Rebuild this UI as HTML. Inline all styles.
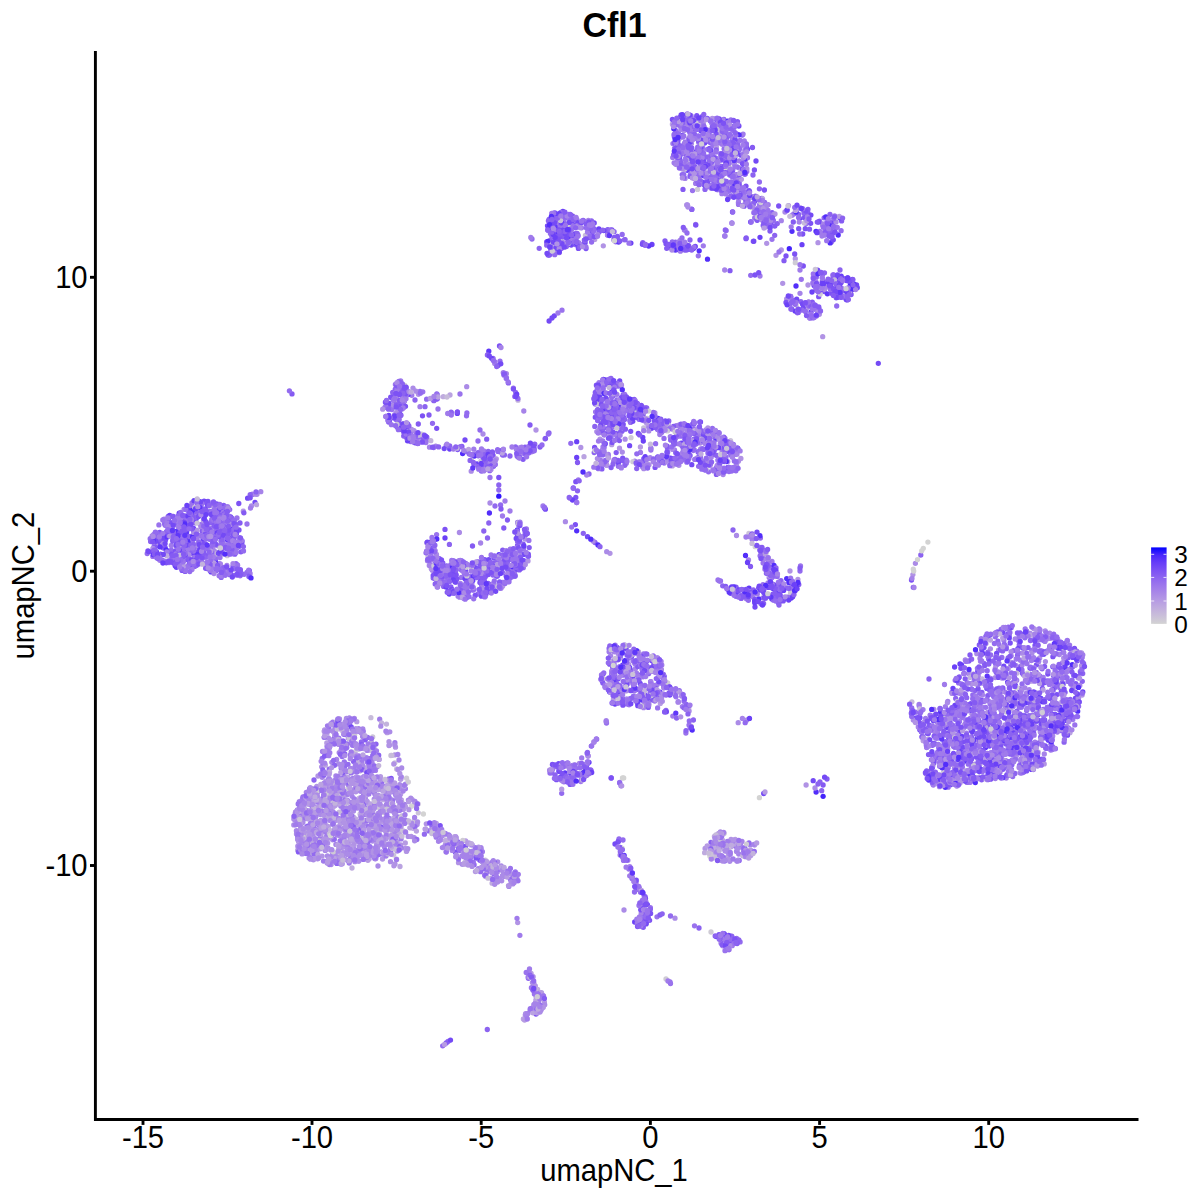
<!DOCTYPE html><html><head><meta charset="utf-8"><style>html,body{margin:0;padding:0;background:#fff;width:1200px;height:1200px;overflow:hidden}svg{display:block}</style></head><body><svg width="1200" height="1200" viewBox="0 0 1200 1200">
<rect width="1200" height="1200" fill="#fff"/>
<g fill="none" stroke-linecap="round" stroke-width="5.30">
<path stroke="#d3d3d3" d="M623.7 777.9h0M923.3 548.3h0M752.2 207.8h0M766.3 552.9h0M471.4 460.1h0"/>
<path stroke="#8c63f0" d="M845.1 297.6h0M1011.6 724.6h0M746.5 146.6h0M307.6 826.1h0M1024.6 737.8h0M721.9 124.2h0M1011.2 627.7h0M617.2 403h0M642.8 242.6h0M988.5 727.3h0M632.5 414.4h0M1008.1 718.4h0M655.5 658.5h0M171.8 557.5h0M228.9 549.2h0M1001 747.7h0M941.1 723.6h0M1020.5 728.3h0M718.3 467.2h0M534.8 444.2h0M573.1 765.3h0M1010.8 722.4h0M968.4 774h0M693.9 424h0M975 690.6h0M403.5 431.5h0M949.9 756h0M739.2 860.5h0M204.6 520.3h0M718.5 437.7h0M721.4 166.3h0M966.7 697.7h0M433.2 577.9h0M682.2 174.6h0M1063.6 726.5h0M194.8 522.9h0M960.7 781.1h0M968.1 704.6h0M568.2 782.1h0M677.7 158.1h0M999.6 759h0M204.3 513.7h0M443.9 581.7h0M594.2 228.9h0M648.2 702.5h0M215 567.4h0M158.2 545.7h0M951.9 692.5h0M1019.2 645h0M1007.4 774.5h0M196.4 565.5h0M642.9 672.5h0M449.4 544.4h0M506.1 555.5h0M685.3 142.1h0M1003.3 729.7h0M795.2 590.8h0M993.3 720.2h0M955.7 698.4h0M570.8 773.8h0M736.1 587.2h0M485 865h0M614.8 674.7h0M972.3 731.9h0M500.3 450.7h0M753 175h0M990.2 678.3h0M489.7 470.7h0M716.4 467.6h0M1082.3 681.3h0M999.2 650.2h0M488.1 591.5h0M963.1 774.7h0M1031.2 747.8h0M235.1 545.4h0M957.8 692.8h0M202.5 527.4h0M729.7 175h0M680.3 160.3h0M587.1 235h0M201.7 512.8h0M691 115.7h0M1043.4 712h0M602.2 680.9h0M748.4 202.9h0M591.3 746.1h0M985.7 731.1h0M971.5 736.8h0"/>
<path stroke="#855bf2" d="M777 590.7h0M549.5 255.1h0M758.6 588.1h0M574 775.4h0M457.6 449.6h0M730 270.7h0M426.8 437.1h0M398.9 420.2h0M415.2 441.6h0M1036.7 713.8h0M770.1 596.1h0M399.5 411.8h0M1058.7 648.7h0M461.9 446.5h0M155.3 532.9h0M625 404.1h0M162.2 536.1h0M609.9 424.4h0M188.8 511.8h0M204.3 517.4h0M608.2 456.5h0M488 457.8h0M613.3 424.5h0M584.3 240.2h0M662 431.7h0M242.1 540.8h0M690.1 455.5h0M564.6 236.8h0M1031 737.1h0M620.3 847.5h0M491.2 454.9h0M931.8 767.4h0M994.1 753.6h0M1010.9 665.5h0M959.1 731.9h0M237.7 575h0M502.7 550.1h0M732.1 942h0M570.4 220.3h0M972.3 683.2h0M679.4 249.9h0M507.5 520h0M669 459.7h0M607.2 415.5h0M506.1 576.1h0M673.2 439.9h0M1053.6 725.9h0M995 762.2h0M187.7 538.4h0M1036.4 753.9h0M753.3 241.3h0M555.8 227.6h0M597.9 409.8h0M841.6 220.9h0M1016.9 711.2h0M745.3 160.1h0M404.2 401.5h0M1009.9 754.1h0M1047.8 725.2h0M984.6 739.5h0M236.1 524.3h0M223.5 534.1h0M742.3 135.1h0M446.6 566h0M601.8 677.7h0M1063.5 700.7h0M530 425h0M221.4 549.5h0M745.4 199.4h0M185.1 532.3h0M570.9 778.5h0M602.2 399.3h0M1018.7 750.4h0M1014.8 680.4h0M976.1 722h0M727.1 137.1h0M644.5 460.1h0M841.2 282.4h0M492.2 590.2h0M920.9 725.8h0M764.2 588.8h0M1059.9 710.1h0M215.3 503.7h0M483.5 569.8h0M642.8 659.4h0M691.7 209.2h0M580.6 223.2h0M998.6 733.3h0M1025.9 745.9h0M964.6 749.4h0M993.1 752.5h0"/>
<path stroke="#c3b3dc" d="M518 400.2h0M946.9 757.9h0M362 837.6h0M465.3 864.1h0M382.3 828.2h0"/>
<path stroke="#bfabdf" d="M326.4 818.5h0M731.8 191.1h0M439.8 829.6h0M446.8 841.3h0M475.5 855.6h0M328.2 834.3h0M489.8 571.9h0M392.8 804.2h0M316.1 823.5h0M354.7 858.1h0M355.1 752.5h0"/>
<path stroke="#b69be3" d="M516.2 876.3h0M475.8 464.8h0M531.1 973.5h0M444 834.9h0M387.1 824h0M640.4 662.8h0M773.9 597.7h0M373.4 827.2h0M961 762.2h0M387.1 732.7h0M722.6 186.5h0M465.1 863.1h0M331.4 835.1h0M719 833.4h0M468.9 854.4h0M724.7 471.4h0M1030.9 699.1h0M475.4 871.6h0M163.8 534h0M326.5 797.8h0M502.6 586.3h0M384.1 843.2h0M514.8 873.3h0M675.4 164.1h0M613.4 699.3h0M344.4 776.2h0M344.5 730.7h0M386.3 833.7h0M383.2 842.3h0M1033.9 695.5h0M343.3 795.6h0"/>
<path stroke="#9a73ed" d="M621 785.8h0M772 239.3h0M721.8 130.4h0M980.8 758.1h0M334.1 732.5h0M1065.3 735.2h0M488.1 863.6h0M668 423.9h0M810.1 304.4h0M793.8 213.9h0M819.6 286.7h0M469.6 579.6h0M970.3 673.8h0M620.3 691h0M971.1 768.2h0M715.7 431.1h0M435.1 398.5h0M763.1 563.1h0M632.2 399.7h0M1069.6 645.1h0M771.8 577.8h0M173.3 522.1h0M353.2 741.1h0M335.5 819.8h0M345 853.1h0M688.6 448.4h0M607.3 417.4h0M694.9 137.8h0M1006.2 646.6h0M487 872h0M345.3 734.6h0M452.9 560.8h0M654.7 669.3h0M204.5 516.9h0M1065.9 713.7h0M468.7 585.2h0M729.3 172.9h0M465 573.5h0M364.3 784.8h0M1007.9 709h0M685 244h0M988.9 714.9h0M221.2 525h0M382.1 810.2h0M200.4 506.4h0M935.1 735.2h0M635 406.7h0M637.9 889.4h0M399.6 832.1h0M595.6 411.8h0M196.4 509h0M628.9 869h0M153.6 534.6h0M391 791.4h0M989.5 771.8h0M746.8 171.4h0M179.8 553.7h0M184.4 543.7h0M487.7 869.3h0M775.8 598h0M986.4 766.2h0M308.4 811h0M754.7 217.9h0M731.3 182.4h0M583.7 775.4h0M305.1 830.9h0M436.6 534.6h0M661.3 432.8h0M826.7 222.7h0M819.8 231.4h0M452.7 842.7h0M181.6 528.2h0M1051.7 651.5h0M1033.4 732.2h0M981.4 668.5h0M1076.8 716.6h0M643.6 654h0M707.5 149.3h0M476.8 849.3h0M517.5 532.6h0M319.9 802.3h0M962.5 717.7h0M1032.1 693.7h0M1033.2 745.7h0M350.4 755h0M1014.5 743.4h0M814.8 308.2h0M1014.8 720.7h0M675.5 130.3h0M350.5 858.9h0M630.5 422.4h0M219.1 575.7h0M231.8 544.1h0M206.9 568.6h0M607.5 235h0M758.3 210.1h0M662.1 455.9h0M685.9 733h0M969.7 780.9h0M326.3 798.1h0M347.9 860.4h0M1052.6 702h0M980 745.2h0M363.2 830.8h0M1001.9 712.4h0M642.9 919.1h0M996.6 718.1h0M1040 699.9h0M212.4 553.2h0M417.8 442.8h0M1029.7 735.9h0"/>
<path stroke="#532efa" d="M216.3 507.8h0M760.3 589.9h0M970.3 774.7h0M946.7 721.3h0M792 231.3h0M1046 735.4h0M1075.8 701.3h0M658 418.5h0M614.1 393h0M659.9 692.1h0M966 761.1h0M728.5 467.5h0M933.5 778.1h0M735.7 591.6h0M678.1 464.1h0M462.6 453.6h0M517.4 529.8h0M622.8 401.3h0M570.5 772.5h0M786.7 578.6h0M995.3 757h0"/>
<path stroke="#6038f9" d="M609.7 692h0M631.4 657h0M622.6 665.2h0M589 762.3h0M953.6 744.6h0M488.8 351.2h0M990 753.5h0M744.9 171h0M624.2 855.4h0M227.1 539.6h0M755 200.8h0M1057 638.9h0"/>
<path stroke="#ab8be7" d="M354.9 861.7h0M358.1 777.8h0M676 162.9h0M334.6 855.4h0M389.8 731.8h0M700.3 443.1h0M400.2 805h0M497.2 872.2h0M714.4 138h0M634.5 683.8h0M958.8 739.9h0M379.6 844.8h0M624.5 644.8h0M669.9 691.8h0M331.1 864.5h0M440.2 567.3h0M313.9 799.4h0M364.9 783.2h0M362.2 832.7h0M455.7 836.6h0M332 815.3h0M998.5 650.1h0M394.8 809.3h0M414 430.6h0M308.4 844h0M601.7 432.8h0M1053.9 654.9h0M990.4 648.8h0M684.1 130.6h0M449.6 844.1h0M475.7 572.8h0M654.9 412.9h0M313.4 859.8h0M306.4 795.2h0M213.9 557.2h0M738.2 722.7h0M227.8 547.4h0M308.5 812h0M718.9 834.4h0M644.7 908.9h0M327.4 855.8h0M1052.9 706.9h0M513.6 573.2h0M329.4 801.7h0M347.3 794.7h0M364.5 807.6h0M1011.8 718.5h0M378.4 795.4h0M322.7 784.2h0M483 434h0M967 782.4h0M471.2 471.2h0M966.1 705.7h0M342.4 793.4h0M719.2 469.2h0M745.6 170.2h0M679.2 425h0M603.8 449.3h0M324.4 790.6h0M392.7 823.1h0M605.1 686.6h0M987.5 656.1h0M433 559.7h0M442 836h0M761.9 205.1h0M602.5 450h0M361 849h0M944.6 749.2h0M339.7 728.8h0M348.9 815.3h0M1016.2 665.6h0M319.8 833.6h0M359.3 854.8h0M372.6 841h0M771.6 567.9h0M566.7 777.4h0M303.3 853.3h0"/>
<path stroke="#a07beb" d="M698 173.9h0M677.4 144.4h0M945.8 767.2h0M602.8 464.3h0M676.2 425.6h0M978.5 672h0M635.4 688.5h0M1024.2 768.1h0M606.7 465.2h0M223.4 567.5h0M384.9 819.6h0M312.8 806.7h0M370.1 769h0M674.5 449.8h0M947.8 701.3h0M568.4 239.5h0M1005.2 692.1h0M427.5 560.7h0M944.4 735h0M453.9 840.7h0M759.6 204.7h0M693.2 450.5h0M384.5 830h0M726.1 445.4h0M640 694.2h0M215.6 522.9h0M159.4 559.3h0M369.2 836.3h0M188 525.1h0M772 561.5h0M337.9 803.7h0M307 848.5h0M919.1 704.3h0M714.4 171.9h0M968.6 771.6h0M813.3 277.4h0M1035.2 762.7h0M609.7 418.4h0M313.9 827.5h0M573.2 217.5h0M679.9 426.7h0M949.5 783h0M514.7 572h0M943 776.6h0M722.2 450.9h0M501 588.3h0M965.8 719.8h0M744.3 140.9h0M426.6 551.1h0M319.3 839.2h0M364.5 786.9h0M502.4 582.5h0M725.3 458.5h0M176.3 532.6h0M252.3 494.2h0M694.6 135.2h0M327 746.3h0M343.9 731h0M201.2 552.2h0M700.7 448.8h0M993.5 740.7h0M928.2 727.9h0M672.8 716.1h0M618.4 418.8h0M979.1 682.9h0M1046.8 651.1h0M752.5 596.8h0M506.2 550.7h0M252.5 494.5h0M702.4 460.9h0M352.8 734.1h0M818.8 308.3h0M834.7 216h0M459 847.8h0M391.5 822.2h0M759.9 547.3h0M608.3 454.4h0M386.9 786.3h0M688.3 169.2h0M554.4 766h0M736.3 174.7h0M951.8 764.4h0M679 456.7h0M990.1 768.7h0M556.1 252.8h0M572.8 239.2h0M937.2 738.2h0M229.9 573.5h0M638.7 462h0M214.8 552.3h0M602.6 415.4h0M1020.4 660.3h0M955 747.4h0M349.2 863h0"/>
<path stroke="#6b41f7" d="M691.9 135.5h0M404.8 428.5h0M643.3 441h0M1082.8 692h0M992.7 744.2h0M687.2 170.3h0M716.8 168.7h0M1036.3 636.1h0M165 522h0M1059.6 707h0M799.5 218.6h0M771 215.8h0M1043.4 640.2h0M915 718.2h0M1062.3 723.1h0M1027.6 699.2h0M179.2 513.2h0M576.7 441.7h0M976.5 734.3h0M984.6 743.5h0M615 704h0M946.7 727.7h0M629.8 698.8h0M477 463.9h0M666.3 686.9h0M792.6 583.3h0M1052.9 666.7h0"/>
<path stroke="#cbc3d8" d="M398.2 835.5h0M1074.6 701.9h0M379.7 808.4h0M446.4 840.2h0M394.8 762.8h0M386.8 853.6h0M414.2 820.3h0M724.1 833.4h0"/>
<path stroke="#baa3e1" d="M968.5 726.1h0M387.3 787.7h0M436.7 834.8h0M489.9 456.9h0M928.3 739h0M378.3 829.4h0M697.4 159.1h0M365.3 770.2h0M523.4 1018.9h0M367.8 859.2h0M951.8 717.2h0M343.5 749.9h0M404.7 823.1h0M1062 728.1h0M1070 732.7h0M318.1 841.6h0M715.7 851.6h0"/>
<path stroke="#b193e5" d="M475.1 573.7h0M808 305.7h0M704.4 172.3h0M796.7 300.6h0M382.3 842h0M350.6 808.5h0M628.7 664.5h0M312.8 842.5h0M352.7 829.5h0M457.2 856.5h0M382.5 859h0M372.1 819.1h0M308.2 798h0M218.5 552.3h0M558.9 767.8h0M808 285h0M776 255.3h0M703.3 122.8h0M980 764h0M322.7 765.2h0M517.2 879.3h0M576.9 219.4h0M608.8 433.7h0M634.4 696.6h0M343 852.7h0M364.9 858.9h0M518.2 569.3h0M293.8 818.9h0M335.1 833.9h0M926.3 773.4h0M325.4 842.7h0M967 739h0M350 846.2h0M734.4 840.9h0M331.6 724.7h0M684.4 166.3h0M983.6 725.6h0M352.6 791.3h0M360.2 828.6h0M450.1 838.2h0M512.8 880.2h0M697.6 458.1h0M412.2 799.6h0M605.9 454.1h0M610.6 692.2h0M714.6 849.6h0M711.7 141.1h0M179.6 540.1h0M401.3 799.9h0M987.5 712.5h0M341.5 742.8h0M340.3 862.1h0M324.9 846.2h0M243.3 511.2h0M363.4 829.8h0M457.3 845.5h0M491.2 878.1h0"/>
<path stroke="#c7bbda" d="M768.4 558h0M376.1 816.1h0M686.1 441.9h0M575.8 233.7h0M301.5 827.9h0M369.3 779.4h0"/>
<path stroke="#936bef" d="M1013.8 699.3h0M457.4 412h0M688.5 456.3h0M1023 703.8h0M1074.7 656.6h0M239.6 543.8h0M1055.3 672.5h0M704 136.1h0M1032 756h0M943.8 725.9h0M742.7 171h0M324.9 821.9h0M1019.5 765.3h0M509.6 578.4h0M991.8 694.2h0M489.1 461.8h0M834.6 229.4h0M428.8 830.9h0M1031.1 703.6h0M654.8 686.8h0M1018.3 717.9h0M760.9 202.3h0M183.4 531h0M695.5 159.5h0M633.2 696.4h0M687.1 166.5h0M206.9 526.8h0M719.8 177.9h0M1007.8 710h0M623.7 417.8h0M444.1 579.5h0M500 361.1h0M997.8 707.6h0M636.2 410.5h0M158 544.3h0M370.6 758.4h0M687.8 425.7h0M359.9 841.6h0M367.6 746.6h0M764.7 202.4h0M602.4 388.5h0M653.3 666.8h0M434.6 567h0M718.6 472h0M963.5 715.1h0M616.3 410.5h0M519.5 538.4h0M705.7 435.9h0M618.4 466.2h0M719 458h0M451.7 571.8h0M650.8 667.8h0M498.8 490h0M1035.2 705h0M517.6 522.4h0M437.4 398.8h0M987.8 652.2h0M990.1 686.1h0M466.6 451.7h0M410.5 441.6h0M971 725h0M722.2 186.8h0M974.1 748.2h0M231.8 552.8h0M659 459.7h0M368.7 765.6h0M692.1 167.5h0M467 582.4h0M1007.4 660.6h0M667.4 448.3h0M641.8 904.7h0M1012.8 682.7h0M164.6 523.7h0M572.1 779.5h0M712.4 175.2h0M234.1 541h0M693.6 431.8h0M480 430h0M804.2 217.4h0M442.5 566.9h0M1025.4 635.2h0M938.7 747.7h0M599.5 452h0M754.9 538.3h0M328.6 727.8h0M1053.7 634.1h0M1041 724.7h0M739.8 147.9h0M575.5 774.1h0M396.1 419.6h0M1017 727.6h0M448 1041.5h0M695.6 444.3h0M1037.4 637.2h0M482.7 468h0M458 841.8h0M996.8 705.7h0M1066.8 699.6h0M734.7 145.1h0M723 444.2h0M329.2 769.2h0M686.7 250h0M221 540.9h0M953.5 756.8h0M611.1 436.8h0M365.3 787.5h0"/>
<path stroke="#744af5" d="M1003 632.7h0M987.9 637.1h0M490.6 565.3h0M1072.6 666.5h0M993.1 753.1h0M523.6 554.4h0M500.8 363.8h0M1049.8 732.1h0M545.4 509.2h0M1004.2 734.1h0M852.5 279.4h0M1030 668h0M1073.3 705.7h0M495.1 572.8h0M190.1 536.3h0M199.5 552.8h0M619.7 381h0M990.5 712.5h0M679.6 157.3h0M920 717.7h0M689.5 430.4h0M762.3 556.8h0M1067.5 735.2h0M941.2 720.8h0M722.3 172.8h0M856.6 284.9h0M211.4 522.1h0M1001 744.2h0M967.3 758.8h0M557.3 248.4h0M490.6 592.3h0M661.1 425.4h0M219.4 564h0M580.9 775.9h0M636.8 403.1h0M979.5 769.5h0M977.7 671.3h0M175.7 557.2h0M682.3 135.3h0M482.2 559.1h0M1061.7 648.5h0M1072.7 657.4h0M950.7 784.7h0M184.4 517.9h0M209.4 533.9h0M575.1 234h0M190.6 517.9h0M1001.9 676.4h0M1063.3 718.6h0M475.2 567.6h0M396.8 390.2h0M1055.3 748.7h0M221.7 531.3h0"/>
<path stroke="#7d52f4" d="M951.8 763.9h0M586 248.6h0M559 771.4h0M521.6 564h0M507.1 580.9h0M732.8 141.8h0M983.5 682.8h0M219.7 506.6h0M190.6 551.1h0M587.9 237.7h0M642.9 914h0M818.7 296.7h0M603 674.1h0M579.2 244.7h0M987.3 725.9h0M851.1 294.5h0M594.6 447.4h0M949.8 732.9h0M163.4 546.9h0M162.2 534.4h0M926.2 743.1h0M483.2 569.6h0M598.8 402.3h0M642.7 656.4h0M681.5 165.8h0M179.3 560.5h0M224.6 511.2h0M1035 645.5h0M1051.6 647h0M212.4 543.6h0M151.6 538.6h0M478.9 467.4h0M173.5 562.9h0M952.1 772.9h0M649.6 920.3h0M525 530.4h0M221.7 550.2h0M570.1 784.4h0M959.6 773h0M575.4 524.6h0M239 530h0M991.8 757.9h0M595.3 401h0M553 230.4h0M618.6 840.9h0M824.2 291.6h0M986.8 688.4h0M956 737.4h0M1042 731.6h0M694 248h0M1030.6 674.5h0M778.6 602.9h0M236.3 546.7h0M838.1 295.6h0M169.9 522.6h0M991.7 738.9h0M622.9 702.4h0M802.7 234h0M1061.5 686.5h0M990.4 711.3h0M229.5 533.1h0M388.8 404.4h0M1042.4 688.4h0M757.2 220.3h0M548.1 255.1h0M1047.8 674h0M778.9 590.1h0M645.1 694.8h0M523.8 560.7h0M965.4 707.5h0M445 529.4h0"/>
<path stroke="#cfcbd5" d="M374.1 820.1h0M340.8 842.9h0M192.5 550.7h0M363.4 834.1h0M553.5 249.3h0M732.8 174.8h0"/>
<path stroke="#a683e9" d="M713.9 435.8h0M1019.4 730.3h0M630.8 671.5h0M620.4 657.5h0M302.4 801.7h0M374.3 839.3h0M576.7 502.5h0M333 811.6h0M965.2 778h0M496.2 866.8h0M734.2 127.5h0M721.2 183.3h0M341.4 863.7h0M661.4 669.5h0M711.2 457.3h0M304.2 818.8h0M432.3 570.3h0M604.6 433.4h0M341 791.8h0M187 518.1h0M1040.3 650.3h0M614.3 678.9h0M733.7 182.3h0M509.8 554.8h0M619 419.2h0M685.3 433.8h0M599.6 429.6h0M629.8 866.6h0M1037.4 761.5h0M629.1 704.8h0M435.7 446.1h0M317 856.8h0M393.1 841.3h0M934.5 761h0M432.8 543.2h0M629.2 657.6h0M1029.2 689.6h0M939.5 786.7h0M954.4 768.7h0M1043.5 737.2h0M351.4 840.7h0M722.7 945.8h0M1020.4 760.7h0M387.5 825.6h0M481.2 465.9h0M979.5 701.3h0M1017.9 746h0M526.6 1018h0M336.8 722.8h0M358.7 728.7h0M731.8 843h0M696 434.1h0M1057.7 639.1h0M370.1 839h0M698.6 142.3h0M308.9 792.2h0M1043.7 728.6h0M627.9 860.3h0M336.5 742.3h0M1059.3 654.5h0M327 837.9h0M357.1 838.2h0M718 167h0M389.3 806h0M260.8 491.7h0M538.8 1001.4h0M540 992.9h0M730.6 444.5h0M1072.8 649.5h0M383.4 828.3h0"/>
<path stroke="#4423fc" d="M823.1 796.3h0"/>
<path stroke="#bfabdf" d="M366 838.2h0M541.7 1005.7h0M389.4 836.7h0M537.6 989.4h0M329.8 793.7h0M455.2 845.2h0M538.2 1008.1h0"/>
<path stroke="#ab8be7" d="M320.2 814.5h0M710.6 462h0M480.5 848.6h0M388.5 829.5h0M573.4 765.8h0M658.6 428.6h0M1022.5 772.7h0M336.4 817.3h0M417.1 824.6h0M716.9 851.8h0M342.4 837.9h0M535.8 994.1h0M768.8 225.2h0M1045.2 630.8h0M1027.7 749.5h0M397.4 851h0M933.9 709.3h0M786.7 299h0M408.2 836.4h0M727.9 851.4h0M378 866h0M499.3 878.6h0M295.3 813h0M1031.6 650.4h0M328.4 737.9h0M352.8 820.4h0M723.3 168h0M618.6 648.4h0M625.9 690.9h0M391.5 847.1h0M724.1 180.7h0M226.4 532.6h0M617.4 238.8h0M466.3 852.3h0M525.6 1013.7h0M1071.2 650.3h0M342.7 751.7h0M349.9 814.1h0M463.1 586.4h0M968.4 673.4h0M922.3 736.9h0M1036.6 727.7h0M359.7 829.5h0M945.9 758.4h0M496.8 568.6h0M366.3 821.2h0M341.4 842.3h0M1014.3 703.6h0M347.7 721h0M339.5 719h0M329 816.8h0M525.3 1014.8h0M961 751.7h0M512.2 882.8h0M395.3 813.6h0M1015.3 712.4h0M337.9 831.1h0M353.4 804.4h0M309.2 817h0M1021.3 740.9h0M357.6 832h0M504.3 876.4h0M678.9 465.3h0M933 744.6h0M643.4 414.7h0M501.2 866h0M1039.7 657.9h0M459.4 532.5h0M657.6 657.8h0M626.7 698.8h0M323.7 825.9h0M691.4 143.6h0M319.9 832.2h0M343.1 856.4h0M529.4 973.5h0M439.3 834.3h0M1024.7 648.8h0M729.8 861.3h0M913.3 720h0M625.4 858.8h0M710.4 165.6h0M982.6 707.5h0M727.8 461.6h0M535.9 990.7h0M382.4 780.3h0M737 192.9h0M369.1 766.3h0"/>
<path stroke="#a683e9" d="M377.7 817.7h0M941.7 782.2h0M643.6 707.7h0M436.7 580.5h0M502.1 571.8h0M317.1 821.5h0M328.7 779.4h0M983.2 743.1h0M566.7 234.8h0M402.8 786.7h0M601.4 419.9h0M358.6 861.1h0M384.3 846.7h0M341.1 749.9h0M335.1 728h0M684.4 230h0M317.3 850h0M638.9 661.8h0M1032 734h0M686.1 159.4h0M395.6 809.4h0M1029.2 737.2h0M349.3 717.9h0M482.9 862.3h0M346.9 771.5h0M212.2 519.6h0M501.2 868.6h0M388.8 844.5h0M1049.7 633.2h0M331.1 800.5h0M1029 761.6h0M950 759.5h0M193 515.5h0M692.2 137.2h0M299.4 804.3h0M636.8 696.6h0M1053.4 723h0M995.5 691.2h0M533.8 1004.7h0M394.7 807.4h0M365.7 849h0M574.4 222.2h0M681.6 695.9h0M440.7 840h0M601.3 463.2h0M355.8 785.9h0M991.2 773.4h0M736.7 842.6h0M976.9 739.5h0M217 545.5h0M226.4 521.3h0M610.6 655.8h0M606.2 720.7h0M402.1 409h0M999 674.3h0M356.2 780.4h0M572.4 227.4h0M677.7 159.7h0M382.7 854h0M948 743.4h0M294.2 815.9h0M176 564.4h0M1001.3 697h0M322.2 777.3h0M1006.2 778h0M379 759.4h0M940.1 747.7h0M193.3 565.6h0M941.5 726h0M947.7 784.6h0M721 942.9h0M385.5 818.3h0M187 553h0M953.6 763h0M366.5 779.6h0M664.7 430.3h0M750.4 844.9h0M996.8 656.1h0M670 688.1h0M748.5 560h0M603.5 420.9h0"/>
<path stroke="#c3b3dc" d="M353.5 856.2h0M330.1 814.9h0M954 784.3h0M392 799.6h0M371.4 742.4h0M683.2 115.5h0M1005.3 764.5h0M311.5 845.5h0"/>
<path stroke="#6038f9" d="M480.7 580.7h0M1002.8 777.7h0M816.9 290.2h0M961.8 729.4h0M499 554.6h0M485.9 459.9h0M1065.4 668.1h0M853.9 284h0M1006.9 628.2h0M612.6 411.4h0M632.7 406.8h0M957.9 759.6h0M999.7 742.2h0M222.8 535.9h0M935.9 730.8h0M791.2 598h0M811 311.9h0M716.3 936.6h0M749 588.1h0M693.1 248.5h0M703.4 175.6h0"/>
<path stroke="#cbc3d8" d="M344.3 767.7h0M702.7 183.6h0M360 814.1h0M651.3 687.8h0M649 705.2h0M485.4 860.1h0"/>
<path stroke="#c7bbda" d="M993.1 706.5h0M471.5 568.1h0M217 526.7h0M720 157.6h0M715.9 855.4h0M585.4 235.5h0"/>
<path stroke="#8c63f0" d="M346.7 778.2h0M160.5 538.1h0M367.6 779.8h0M217.7 512.7h0M735.9 178.1h0M484.5 581.3h0M550.1 240.4h0M595 542.5h0M1032.2 750.2h0M488.1 566h0M850.6 281.2h0M214.1 564.1h0M997.9 641.1h0M730.4 135.7h0M1017.5 655.4h0M615.4 406.2h0M229.8 572.6h0M731 450.2h0M511 570.4h0M711 842.3h0M715.6 124.1h0M971 759.3h0M323.9 775.2h0M718.6 127.7h0M599.5 231h0M495.3 464.4h0M427 439.5h0M1065.7 677.4h0M493.1 455.6h0M463.4 567.5h0M1039.2 632.4h0M455.5 572.1h0M708.5 157h0M1070.3 699.4h0M1035 750.1h0M1078.8 656.9h0M610.5 430.5h0M995.3 690.8h0M631.6 698.3h0M635.6 661.5h0M228.4 531h0M368.9 806.7h0M425 406.7h0M594.2 452.6h0M1026.6 653.2h0M681 163.2h0M183.9 538.1h0M646.7 407.8h0M223.2 507.3h0M723.3 938.9h0M517.1 456h0M798.7 214.3h0M685.2 168.8h0M663.7 686.5h0M611.2 778h0M1015.6 693.8h0M683.1 446.3h0M974.6 710.2h0M232.8 550h0M210.7 522.6h0M620 702.6h0M945.3 741.6h0M726 940.8h0M666 710.4h0M610.5 384.8h0M1048.5 732.7h0M598.1 397.4h0M1082.7 673.5h0M528.4 978.3h0M1060.3 727h0M930.3 777.5h0M991.2 687.8h0M443.6 586.4h0M714 118.8h0M774.7 235.3h0M639.1 409.9h0M696.4 442.5h0M199.1 553h0M568.1 238.7h0M937.6 730.3h0M945.8 719.4h0M601.5 390h0M731.4 155.1h0M1034.2 716.5h0M504.4 454.9h0M228.4 570.7h0M840 270h0M620.3 698.1h0M725.9 449.1h0"/>
<path stroke="#b69be3" d="M392.4 833.6h0M728.7 154.4h0M371.9 812.2h0M611.7 444.7h0M353.3 855.5h0M544.4 1002.1h0M740.6 845.6h0M640.4 447h0M808.2 221.4h0M1016.7 755.2h0M391.3 839.2h0M310.2 850.3h0M343.4 795.1h0M360.8 801.1h0M1064.3 734.3h0M390.7 846.4h0M747.2 157.5h0M485.7 874.4h0M326 781.2h0M357.8 784h0M731.8 147.3h0M349.4 846.8h0M343.9 842.8h0M806.4 308.8h0M381.7 781.7h0M351.3 834.5h0M436.3 823.3h0M465.7 840.8h0"/>
<path stroke="#a07beb" d="M849.7 290.6h0M1050.9 744h0M364.7 739.6h0M447.7 568.4h0M746.4 598.8h0M329.2 772.6h0M640.5 452.4h0M990.1 691.2h0M926.1 774.1h0M392.2 785.9h0M685 230h0M511.3 569.5h0M320.7 835.8h0M690.6 126.2h0M956.9 767.1h0M480.9 849h0M361.5 846.8h0M1021.4 722.3h0M354.7 767.5h0M1038 645.4h0M728.7 197.4h0M734.8 940.5h0M391.8 802.4h0M473.1 854.4h0M835.8 295.4h0M690.7 133h0M682.4 706.6h0M396.4 841.4h0M1018 726.9h0M220.3 523.8h0M391.6 787.9h0M613.7 461.8h0M770.7 217.4h0M330.1 792.2h0M351.2 751.9h0M961.6 755.6h0M499.2 868.9h0M197.5 510.4h0M661.8 665h0M436.1 570.9h0M327.8 807.2h0M611.8 674.4h0M481 569.3h0M687.5 448.4h0M416.3 433.7h0M768.2 204.7h0M752.6 538.8h0M655.9 663.1h0M1010 765.7h0M159.9 560.3h0M341.7 778.3h0M695.9 439.1h0M505.4 560.2h0M980 658.4h0M738.1 860.1h0M969.8 737.3h0M743.1 134.1h0M216.4 530.9h0M657.2 684.6h0M343 811h0M434.1 823.6h0M572.3 242.8h0M745.3 849.6h0M571.5 230h0M467.5 854.6h0M995.3 778.5h0M1067.7 714.4h0M659.8 434.5h0M352.5 745.2h0M339.2 854.3h0M625.7 685.7h0M657.6 658.2h0M319.6 826h0M328.9 786.8h0M542 1008.2h0M477.3 849.3h0M180.5 522.3h0M708.5 452.5h0M697.9 120.3h0M612.9 661h0M517.7 562.2h0M661.1 661.4h0M1019.7 720.9h0M659.1 692.3h0M233.1 526.9h0M966.5 733.1h0M1016.2 659h0M1025.5 717.6h0M375.4 819.1h0M952.5 708.1h0M570 238h0M732.2 941.9h0"/>
<path stroke="#6b41f7" d="M598 400.3h0M961.9 736.5h0M642.4 908.9h0M930.7 774h0M615.5 421h0M586.4 765.9h0M1015 723.6h0M1007.6 682.1h0M401.9 393.8h0M611.9 646.7h0M488.6 455.5h0M631.2 400h0M445.4 584.2h0M620.9 400.1h0M637 464h0M1008.5 751h0M975 726.9h0M630.9 243.1h0M623 414.3h0M681.2 443.2h0M1013.9 698.5h0M766.4 595.6h0M608 232.2h0M430.2 542.1h0M850.3 285.6h0M518.5 535.1h0M409.4 437.1h0"/>
<path stroke="#855bf2" d="M385.4 402.2h0M640.6 663.2h0M675.2 461.9h0M392 397.7h0M645.4 698.3h0M709.5 430.8h0M447.2 592.3h0M349.5 723.2h0M168.2 516.5h0M937.9 752h0M615.5 683.8h0M1027.1 765.5h0M226.6 568.7h0M661.1 698.2h0M481.4 577.5h0M984.9 665.5h0M484 461.2h0M408 438.3h0M684.1 458.4h0M381.3 826.9h0M608.9 379.9h0M157.4 558.3h0M626.7 860.1h0M365.3 739.8h0M981.1 769.6h0M607.7 229.7h0M784 260.7h0M596.1 398.3h0M929.1 725.1h0M639.1 415.3h0M648.3 707.4h0M243.9 512.8h0M418.3 424h0M534.2 449h0M948.8 716.4h0M385.9 416.5h0M973.3 741.8h0M1069.2 712.2h0M193.1 553.5h0M774.4 586.1h0M525.2 533.1h0M697.3 149.7h0M167.5 536.6h0M711.9 163.7h0M963.9 673.3h0M707.7 430.1h0M1049.2 739.3h0M695.3 155.2h0M509.3 572.2h0M522.5 564.2h0M843.3 278.5h0M688.3 247.4h0M321.6 804.7h0M759.5 209.4h0M719.2 462.2h0M532.2 446.3h0M928.3 733.4h0M723.9 119.5h0M683.9 446.9h0M398.6 392.5h0M493.1 865.6h0M446.2 1043h0M628.3 400.2h0M207.9 547.2h0M652.6 700h0M963.6 713.7h0M225.4 531.5h0M798.8 584.6h0M1021.7 764.6h0M979.3 740.2h0M966.5 734.9h0M948 743h0M503.8 528h0M211.3 551.5h0"/>
<path stroke="#9a73ed" d="M1008.8 696.5h0M663.3 462.6h0M921.5 731.3h0M615.4 667.9h0M735.3 448.8h0M613.9 240h0M566.1 778.9h0M591.2 222.6h0M363.5 795.4h0M436.1 829.6h0M723.4 136h0M302.9 819.7h0M687.3 114h0M951.5 780h0M537.6 993.6h0M723.8 459.2h0M733.9 146.7h0M978.6 744.4h0M513.6 572.4h0M1072 717.2h0M237.5 565h0M354 825.3h0M493.1 358.3h0M694.1 133.3h0M795.8 211.1h0M670 982h0M939.4 725.1h0M979.6 715h0M358.7 755.8h0M472.6 455h0M399.7 393.8h0M837.2 286.1h0M683.7 135.9h0M998.3 760.4h0M990.1 703.7h0M1027.9 680.2h0M481.3 450.5h0M406.1 430.4h0M1030.8 674.3h0M431.5 830.5h0M739.1 185.3h0M816.2 309.7h0M510.2 549.1h0M1029.3 743.2h0M313.9 824.5h0M1076.8 651.1h0M515.6 392.4h0M733.9 453.8h0M562 310.2h0M403.9 432.2h0M647.3 916.2h0M181.1 543.7h0M1012.9 734.5h0M328.2 811.1h0M385.5 791.6h0M733.1 130.4h0M1001 763.6h0M331.3 791.4h0M474.7 454.2h0M334.8 804.6h0M394.8 402h0M1028.2 716.6h0M1036 713.8h0M725 950.7h0M1016.9 753h0M725 438.4h0M329.6 834.5h0M554.7 766.8h0M948.9 755.7h0M342.3 818.4h0M192.2 528.1h0M446.1 847h0M1006.2 676h0M337.8 785.1h0M368.4 859.1h0M742.9 189h0M1019.9 694.7h0M316.4 842.3h0M604.8 415.4h0M223.5 531.9h0M506.2 378.5h0M931.4 759.7h0M1035.6 703.8h0M184.8 559.3h0M695.8 117.9h0M620.3 403.6h0M648.4 705.3h0M732.1 149.5h0M1061.6 676.7h0M741.4 595.2h0M396.3 820.2h0M321.4 831.8h0M394.6 415h0M980.2 706h0M768.6 561.6h0M233 575.5h0M1082.2 657.6h0M335.2 732h0M710.6 158.6h0M734.9 161.7h0M657 916.8h0"/>
<path stroke="#936bef" d="M701.6 154.9h0M448.7 835h0M972.5 725.3h0M664.9 711.8h0M1052.8 635.7h0M723.4 129.3h0M755.4 196.1h0M508 574.3h0M1002.8 689h0M748.4 600.3h0M334.3 738.1h0M512.9 878h0M621.7 414.9h0M1032.7 752.5h0M658.9 675.8h0M797.4 312.8h0M515.2 575.4h0M1072.1 680.2h0M1066.8 733.5h0M420 391.3h0M1043.2 709.3h0M708.5 442.6h0M163.3 548.1h0M342.8 811.3h0M232 527.9h0M687.2 460.9h0M341.1 768.1h0M560.9 241.4h0M777.6 585.1h0M672.3 460.4h0M790.5 297h0M514.8 396.4h0M568.2 778.5h0M617.4 383.4h0M678.4 132.8h0M178.6 518.5h0M379.6 835.1h0M702.3 151.4h0M447.4 570.1h0M645.8 653.8h0M697.4 441.1h0M943.9 732.5h0M1015.8 703.5h0M632.2 654.9h0M633.3 684.4h0M647.7 920.8h0M575.2 244.6h0M584 768.8h0M497.6 449.6h0M395.1 793.3h0M505.4 554.7h0M973.5 727.1h0M397 798h0M389 818.3h0M991.8 770.4h0M564.3 222.6h0M1050.5 721.4h0M661.4 459.4h0M336.5 743.3h0M343.8 734.3h0M671.7 689.4h0M1011.4 775.1h0M617.3 437.9h0M484.4 573.1h0M1026.3 737.9h0M1048.1 671.4h0M348.2 725h0M747.1 598.3h0M676.4 247.9h0M688.8 130.5h0M437.8 579.9h0M680.7 436.2h0M619 839h0M342.4 793h0M554.7 254.7h0M1035.9 726.9h0M510.3 879.3h0M494.2 874.1h0M819.6 221.1h0M612.6 404.9h0M975.2 770.8h0M972.6 714.3h0M932.9 772h0M513.4 568.1h0M994.4 643.5h0M995.3 758.5h0M935.5 758.3h0M1030.8 766.6h0M210.2 511.8h0M948.2 787.2h0M236.5 545h0M682.5 459.7h0M1031.6 724.1h0M994.6 775.5h0M550.3 220.4h0M342.1 756.5h0M847.1 300.1h0M1035.9 695.2h0M1026.5 695h0M1062.2 682.4h0M185.1 522.7h0M960.1 775.9h0M956.6 729.4h0M749 843h0M466.9 413h0M1047.6 710.6h0M693.9 429h0M573.1 216.6h0M999.9 716.4h0M1004 768h0M344.6 766.5h0"/>
<path stroke="#532efa" d="M689.3 427.4h0M715.9 439h0M553.2 228.5h0M164.3 534.7h0M836.6 288.9h0M555.4 215.4h0M838.2 235h0M195.7 518.9h0M727.6 121.1h0M788.8 582.6h0M700.9 130.6h0M945.2 787.3h0M770.6 582.8h0M462.7 588.6h0"/>
<path stroke="#744af5" d="M730.5 593.3h0M743.7 157.6h0M552 318h0M155.4 556.7h0M642.4 244.2h0M978.6 727.5h0M166 524.9h0M637.8 705.7h0M575.8 219h0M1062.4 712.5h0M498 365.6h0M233.7 546.2h0M846.2 299.5h0M666.4 711.8h0M740.6 155.1h0M570.8 778.6h0M984 647.5h0M817.7 270.2h0M627 684.5h0M919.8 729.8h0M702.7 435.7h0M175 536.2h0M683.4 124.3h0M571.2 245.1h0M943.4 773.1h0M747.5 149.2h0M836.6 283.2h0M1014 715.7h0M524.2 452.1h0M576.9 222.4h0M1070.7 668.7h0M192 567.5h0M214.2 509.9h0M932.5 767h0M715.9 434.5h0M1068 713.3h0M743.1 590h0M632.8 421.3h0M573.3 487.9h0M984.5 740.6h0M1009.4 742.8h0M351.2 727h0M465 440h0M558.6 233h0M329.2 779.5h0M1000.3 704.6h0M833.3 232.7h0M428.5 555.6h0M182.2 528.4h0M684.7 452.9h0M213.9 552.1h0M694 128.3h0M216.5 506.8h0M481.6 466.6h0M878.3 363.3h0M701.9 181.9h0M492.6 463.7h0"/>
<path stroke="#baa3e1" d="M727 857.3h0M295.9 811.8h0M337.6 819.5h0M633.3 689h0M643.6 692.2h0M536.1 997.1h0M328.4 826.6h0M1013.2 762.1h0M1033.5 732h0M1007.2 701.4h0M1059.3 685.2h0M541.3 994.1h0M367 809.7h0M686.2 126.7h0M374.1 748.4h0M714.1 841.8h0"/>
<path stroke="#cfcbd5" d="M666 979h0M404.8 385.4h0M737.5 860.8h0M338.1 795.8h0M184.9 566.3h0M407.5 821h0M698.7 123h0M390.1 784.1h0M359 803.9h0M667.7 682.9h0M480.9 461.1h0"/>
<path stroke="#d3d3d3" d="M595.1 450.5h0M913.3 569.2h0M622.5 778h0M726.6 169.6h0M622.3 848.4h0"/>
<path stroke="#b193e5" d="M691.5 159.8h0M978.8 698.6h0M381.8 837.2h0M400.8 845h0M395 864h0M535.3 985.8h0M930.3 771.5h0M373 833h0M435.2 831.8h0M231.9 548.3h0M528 560.9h0M316.4 844.2h0M638.7 415.1h0M1009 677.9h0M395.5 747.2h0M188.8 554.9h0M701.8 463.4h0M396.5 821.4h0M1064.9 704.6h0M1008.3 668.6h0M355.9 728.6h0M361.8 797.4h0M1012.2 751.7h0M719 439.5h0M302.2 832.3h0M517.1 553.4h0M348.2 836h0M305.7 839.6h0M603.3 245.8h0M321.6 845.2h0M321.8 789h0M322.1 856.1h0M619.5 448.2h0M982.1 683.2h0M673.9 692.4h0M491.9 568.4h0M334.6 820.9h0M767 220.3h0M403.4 809.5h0M938 754.1h0M971.9 713.5h0M299.8 805.2h0M310 847.3h0M405.1 848.3h0M320.9 827.6h0M327.1 837.7h0M325.5 841.7h0M376.6 854.2h0M996.5 745h0M766.7 243.3h0M360.1 820.9h0M317.3 844.8h0M912.9 574.6h0M183.6 529.2h0"/>
<path stroke="#7d52f4" d="M721.7 180h0M717.4 121.7h0M229.7 520.2h0M1022.3 673.1h0M420.3 434.9h0M703.4 432.5h0M689.7 448.2h0M927.2 733.3h0M724.8 159.9h0M165.1 547.5h0M1042.1 764.1h0M714.3 138.5h0M1052.9 656.7h0M422.5 415.8h0M568.5 779.2h0M647.8 698.1h0M781.4 597.9h0M985.9 636.5h0M617 647.5h0M552.4 764.4h0M455.4 852.2h0M492.5 454.4h0M1012.2 773h0M790.5 296.5h0M484.8 559.6h0M1058.2 667h0M725.3 166.2h0M492.2 584.2h0M920.4 723.2h0M403.5 407.5h0M928.4 731.6h0M629.9 403.5h0M651.5 660.6h0M554.9 212.8h0M958.6 754.1h0M165.5 539.9h0M735.6 454.2h0M795.4 301.6h0M507.5 580.6h0M215.4 527.1h0M1049.8 698.4h0M229.8 538.2h0M453.2 566.4h0M394.1 399.9h0M823.3 280.8h0M927.2 730.4h0M805.3 228.7h0M344.9 743.7h0M159.7 532.4h0M618.8 461.1h0M1000.9 744.1h0M1052.3 695h0M621.1 405.3h0M435.4 573.4h0M238.8 503.5h0M996.1 696.4h0M483.1 562.2h0M613.4 403.2h0M185.1 571.4h0M947.7 733.5h0M175.6 520.8h0M178.7 566.3h0M950.9 775.6h0M632.8 406.2h0M722.4 140.9h0M695.5 172.4h0M574.6 771.8h0M747.8 590.4h0M996.7 664.4h0M479.4 562.4h0M694.3 170.3h0M440.2 825.7h0"/>
<path stroke="#c3b3dc" d="M1036.9 715.2h0M408.5 822.1h0M749.5 850.1h0M535.9 989.2h0M1069 702.1h0M380 837.4h0M389.8 780.8h0"/>
<path stroke="#b69be3" d="M718.9 456h0M390.9 787.9h0M359.6 802.3h0M725.5 844.5h0M369.2 838.9h0M336.6 792.1h0M362.8 807.7h0M311.8 837h0M340.3 823.9h0M1064.1 716h0M464.2 848.2h0M327 826.6h0M1041 667h0M383.9 820.6h0M376.4 855.9h0M347.4 830.3h0M983.1 740.7h0M738.6 199.9h0M366.7 784.5h0M347.5 827.6h0M631.5 655.1h0M304 806.6h0M720.7 856.3h0M693.4 151.9h0M572.7 216h0M353.3 816.8h0M346.6 729.1h0M328.4 796h0M397.2 842.1h0M362.6 815h0M400.6 794.2h0M679.2 138.8h0M378.7 823.4h0M320.9 820.4h0M348.8 814.5h0M1001.5 733.4h0M313.1 805h0M203.4 520.9h0"/>
<path stroke="#855bf2" d="M616.6 433.7h0M1014.4 675.2h0M562 214.2h0M698.7 141h0M176.2 558.6h0M975.6 697.2h0M642 926.5h0M627 655h0M660 915h0M757 219.8h0M389.4 420.7h0M519.9 537.4h0M1078.2 701.2h0M222 532.8h0M749.8 205.5h0M627 401.8h0M228.5 544.2h0M634.2 399.4h0M992.9 715.1h0M499.8 582.9h0M400.2 389.9h0M987.9 733.2h0M849.2 293.5h0M208.2 564.1h0M978.6 745.2h0M983.9 721.5h0M750.5 566.5h0M680.4 454.8h0M932.9 783.7h0M639.1 675.1h0M226.2 536h0M202.2 530.9h0M623.7 417.7h0M620.4 413.6h0M484.6 862.7h0M975.2 777.6h0M553.6 229.3h0M655.7 688.4h0M722 944.6h0M1070.5 713.4h0M690.9 151.6h0M529.2 547.6h0M933.9 763.1h0M186.3 556.3h0M769.4 217h0M573.2 778h0M610.7 381.5h0M667.1 446.2h0M1010.5 695.2h0M827.7 226.3h0M619.1 435.3h0M931.4 769.7h0M768.8 566.5h0M1027.3 760.4h0M556.4 231.3h0M210 570.6h0M197.2 562.7h0M685.3 153.7h0M577.8 773.7h0M669.4 686.6h0M611.1 410h0M721.1 155.6h0M440.1 569.7h0M1077.1 660.8h0M239 546.5h0M710.6 432.1h0M1005.5 704.6h0M248.5 571.3h0M781.9 588.7h0M994.8 718.6h0M173.7 531.2h0M525 447.2h0M561.5 215.4h0M765.4 226.3h0M611.1 414.1h0M598.1 416.7h0M582.8 244.7h0M772.1 212.7h0M688.7 247.7h0M764.8 207.5h0M624 703.9h0M746 238.7h0M994.8 765.8h0M728.3 942.4h0M624.6 662.5h0"/>
<path stroke="#cfcbd5" d="M348.5 808.2h0M539 996.7h0M751.7 203.6h0M468.8 863.7h0M657.3 696.5h0M368.7 790.8h0M347.9 788.5h0M462.8 840.3h0M387 781.6h0"/>
<path stroke="#ab8be7" d="M359.2 801.4h0M739.2 167.9h0M315.2 848h0M295 819.9h0M375.9 858.5h0M302.7 843.1h0M499.2 585.2h0M941.3 757.3h0M338.6 764h0M309.1 858.1h0M312.3 806.9h0M342.1 754.6h0M353.8 831h0M611.7 683.7h0M581.5 778.9h0M533.5 984.8h0M1068.1 720.4h0M494.6 880.9h0M687.5 205h0M313.1 835.2h0M745.2 851.1h0M977.2 766.3h0M335 795.4h0M972.3 713.9h0M516.7 877.2h0M618.5 692.2h0M304.3 814.6h0M389.8 808.7h0M785 212h0M365.7 835.4h0M401.7 768h0M177.8 552.3h0M735.4 846.1h0M325.4 811h0M332.6 839.8h0M321.7 766.8h0M304.9 814.1h0M635.2 664.3h0M1070.2 711.6h0M365.1 793.1h0M349.5 851.8h0M1030.2 633.5h0M698.9 451.8h0M824.5 289.3h0M749.8 852.1h0M1019.5 713.7h0M312.6 817.9h0M729.2 949.6h0M610 681.1h0M974.4 722.4h0M398.6 801.3h0M1026.7 762.2h0M610.6 411.9h0M1013.4 729.8h0M394 790.2h0M301.4 809.1h0M376.3 826.8h0M457.7 843.2h0M327.1 800.6h0M338.8 744.4h0M710.9 188.1h0M726 846.8h0M354.4 771.6h0M350.3 836.8h0M720.4 832h0M235.1 569h0M481.3 573.4h0M364.5 822.9h0M764.8 569.3h0M629 690.2h0M332.3 799.9h0M365.6 799.4h0"/>
<path stroke="#a683e9" d="M1069.3 669.4h0M300.3 817.6h0M711.4 846.8h0M542.7 995.5h0M299.7 808.8h0M987.6 721.9h0M712.4 851.8h0M363.2 827.4h0M363.7 823.9h0M937.6 722.4h0M336.6 759.5h0M225.2 568.8h0M754.9 209.1h0M962.5 767.3h0M188.3 546h0M1000.8 709.8h0M351.6 780.6h0M360.1 778.1h0M996.8 717.7h0M641.2 913.2h0M1077.7 659.3h0M353.5 859.5h0M1041 759.7h0M337.3 786.9h0M346.8 801h0M1064 727.8h0M719.5 839.1h0M967.7 749.1h0M605 686.7h0M346.2 729.9h0M718.8 469.3h0M308.9 804.2h0M710.1 454.3h0M709.9 465.5h0M989.7 777h0M808.7 301.9h0M800 293.3h0M356.6 756.2h0M988.7 701.1h0M372.8 784.2h0M579.4 763.5h0M735.9 188.6h0M371.5 775.6h0M396.2 413.5h0M947 722.8h0M316.3 787.9h0M325.2 850.4h0M343 814.1h0M461.4 845.8h0M370.3 806.5h0M328.4 803.9h0M527.9 1013.4h0M352.4 826.9h0M479.9 569.9h0M405.4 784.1h0M355.4 763.4h0M533.9 991h0M308.3 828.9h0M365.3 798h0M716.1 470.7h0M1026.6 767.3h0M637.5 923.5h0M715.1 172.8h0M1028.5 678.7h0M963.9 727.8h0M309.8 854.5h0M404.6 804.5h0M439.8 571.5h0M723 119.8h0M389.5 803h0M390.2 787.8h0M1005.2 699.5h0M438.3 574.3h0M724.7 270h0M620.1 855h0M633.2 404.5h0M740.9 172.7h0M377.2 766.7h0M709.4 186.1h0M217.4 554.9h0M728.5 143.5h0M725 449.9h0M997.1 757.8h0M650.1 457.6h0M178.8 546.6h0M372.1 762.7h0M320.8 790.1h0M161.3 538.9h0M607.6 234.9h0M663.6 685.3h0M402 804h0"/>
<path stroke="#b193e5" d="M797.9 579.5h0M645.9 421.5h0M360.4 788.7h0M729.2 144.3h0M520 447.7h0M979.3 777.1h0M313.7 851.6h0M806.1 785h0M337.4 820h0M717.9 848h0M1045.5 728.9h0M302.8 813.5h0M361.8 747.7h0M705.1 848.4h0M533.9 983.5h0M313.2 789h0M332.5 854.2h0M204.2 557.3h0M301.6 808.5h0M795.3 258.7h0M517.7 922.6h0M320.4 845.8h0M692.1 154.3h0M974.7 702.5h0M731 839.4h0M1082.1 695h0M302.4 852.7h0M729.5 844.5h0M413.4 828.2h0M395.5 793.4h0M971.6 683.8h0M377.9 840.7h0M616.7 386.1h0M519.5 555.2h0M496.3 458.8h0M676.3 150.4h0M1022.1 716.4h0M714.9 845.3h0M541.1 1008h0M1044.2 763.9h0M321.3 804.5h0M341 782.5h0M711.9 166h0M337.8 826.8h0M364.8 822.9h0M1015.1 694.9h0M356.3 776.9h0M938.4 784.2h0M641.7 903.5h0M298.6 841.7h0M306.6 833.8h0M394.1 791.2h0M626.5 702.7h0M952.7 775.8h0M336.5 855.4h0M359.7 778.3h0M370.3 836.3h0"/>
<path stroke="#7d52f4" d="M729.1 190.2h0M556.2 221h0M775.8 570.8h0M218.1 513.3h0M971.7 758.7h0M702.1 116.7h0M693.4 449.5h0M1025.3 660.5h0M822.7 273.8h0M196.6 533.5h0M493.9 558h0M216 544.3h0M970.8 703.6h0M490.2 453h0M233 566.3h0M569.2 229h0M241.9 542.9h0M665.3 420.9h0M1040.8 720.8h0M528.3 554.2h0M1072 704h0M778.7 206h0M236.5 533.5h0M791.6 309h0M406.2 436.8h0M609.7 664.2h0M770.9 223.3h0M646.5 661.4h0M675.4 151.5h0M927.1 747.1h0M622.9 705.2h0M402.5 397h0M713.9 188.1h0M684.6 122.4h0M621.7 411.4h0M226.6 519.2h0M215.5 531.5h0M612.1 424.8h0M444 571.2h0M187.4 559.5h0M722.5 140.5h0M1012.1 720.2h0M644 464.6h0M635.7 887.6h0M493.5 466.3h0M1035.5 747.3h0M976.8 756.9h0M197.1 552.3h0M490.5 569.3h0M564 780.7h0M982.3 769.9h0M1036.5 705.7h0M1022.4 750.4h0M230.9 574.6h0M987.6 779.7h0M948.6 737.7h0M617.4 406.1h0M991.4 715.6h0M388.8 420.4h0M205.9 521.7h0M177.6 519h0M911.5 580h0"/>
<path stroke="#c7bbda" d="M372.3 791.1h0M827.2 225.5h0M719.1 840.4h0M326.3 784.3h0M734.6 843.5h0M643.7 427.8h0M363.5 798.3h0M357.6 759.5h0"/>
<path stroke="#d3d3d3" d="M1072.1 686.3h0M632 651.6h0"/>
<path stroke="#cbc3d8" d="M396.6 769h0M729.2 167.1h0M730.6 440.6h0M399.4 805.7h0M748.9 533.5h0M303.2 797.2h0M372.7 737h0"/>
<path stroke="#a07beb" d="M154.1 534.8h0M394.9 742.7h0M1008.2 747.9h0M411.8 395.3h0M340.9 806.2h0M702.7 134.4h0M1016.7 740h0M377.3 831.5h0M552.4 769.8h0M241.5 540.4h0M580.8 781.6h0M315.8 816.5h0M365 757.8h0M820.1 232.5h0M1010.2 738.5h0M635.7 689.8h0M1072.8 719.6h0M356.7 768.9h0M974.4 714.8h0M390.6 848.9h0M430.8 551.6h0M664.3 463.1h0M1014.6 665.1h0M851.6 283.3h0M1040.2 639.7h0M733.2 468.2h0M505 501h0M170.4 532.4h0M714.4 157.6h0M1009.4 635.1h0M762.9 598h0M974.2 748.8h0M331 723.6h0M229 551.7h0M1049.6 722.7h0M356.6 860.1h0M483.8 450.9h0M697.3 175.4h0M726.5 161.3h0M724.7 236h0M622.6 856.9h0M388.8 779h0M387 794.4h0M619.3 401.7h0M297.4 809.9h0M374.7 793.3h0M313 845.5h0M599 382.7h0M700.8 144.4h0M456.2 840.8h0M348.1 784.5h0M312.7 819.9h0M680.4 251.2h0M708.9 163.2h0M513.8 564.1h0M647.7 915.9h0M363.3 833.4h0M732.3 454.1h0M621.5 385.1h0M485.2 861.4h0M401.1 838.9h0M336.6 781.4h0M636.6 673.2h0M710.5 464.3h0M1053.3 690.3h0M366.9 802.2h0M529.5 969h0M326 811h0M816 290h0M753.5 204.2h0M832.6 278.9h0M603 447h0M586 773h0M745.7 201.9h0M639.1 656h0M578.3 480h0M634.1 651.2h0M335.5 779.9h0M752.9 595.7h0M383.1 820h0M792 215.3h0M238 573.8h0M179.7 531.9h0M1067.3 640.3h0M1057.6 703.8h0M706.6 141.6h0M1057.5 721.7h0M670.3 436.7h0M390.1 828.6h0M1051.6 724.1h0M645.3 701.3h0M919.2 706h0M1026.8 750.4h0"/>
<path stroke="#6038f9" d="M675.6 250.1h0M954.2 691.8h0M215.6 561.6h0M642 416.1h0M827.4 293.8h0M847.5 277.9h0M516 559.9h0M726.2 944.7h0M734.6 158.6h0M609.5 231.2h0M1026 702.7h0M207 501.9h0M973.4 740h0M187.3 529h0M570.9 215.3h0M791 596.3h0M496.6 576h0M565 772.8h0M466.7 597.5h0M614.7 680.5h0"/>
<path stroke="#744af5" d="M198.3 500.9h0M681.1 115h0M614.5 414.7h0M1019.5 737.5h0M196 518.9h0M567 234.7h0M929.8 739.8h0M193.6 528.3h0M826.7 217.3h0M389.1 403.3h0M615.7 239.3h0M221.7 512.3h0M1001.4 730.1h0M618.4 462.8h0M702.3 167.8h0M763.7 793.5h0M783.4 590.1h0M664.2 676.3h0M460.9 592.7h0M583 772.9h0M562 234.9h0M679.9 117.5h0M230 518.6h0M209.6 537.7h0M850.4 294h0M721.8 172.4h0M676 249h0M1009.6 627.9h0M640.2 683.5h0M963.3 752.4h0M803.2 308h0M547.5 225.8h0M707.6 134.6h0M919 717.9h0M431.4 548.7h0M173.1 535.6h0M981.8 650.1h0M549.1 321h0M708.2 184.4h0M224.2 511.2h0M1052.3 747.3h0M419.8 440.6h0M962.7 779.9h0M635 414.6h0M217.4 504.2h0M518.4 452.3h0M657.7 457h0M426.6 551.6h0"/>
<path stroke="#6b41f7" d="M1029.8 733.4h0M828.3 282.4h0M760 237.3h0M449.3 594.1h0M642.8 437.4h0M663.3 425.8h0M1017.9 648.6h0M494.7 585.7h0M1069 714.9h0M768.8 224.4h0M172.5 533.3h0M169.7 515.5h0M449.7 449h0M230.6 517h0M954.1 690.7h0M698.2 457.6h0M628.4 409.8h0M598.9 229h0M175.8 534.2h0M388.8 415.5h0M982.8 653.4h0M621.4 855.2h0M684.9 149.1h0M1020.5 736.4h0M598.1 414.2h0M694.1 167.8h0M625.7 660.9h0M1025.9 736.4h0M703.3 441.1h0M1031.5 769.4h0M814.1 285.5h0M732.8 139.3h0M954.6 667h0"/>
<path stroke="#8c63f0" d="M765 212.9h0M617.1 684h0M816.3 277.2h0M208.7 512h0M1011.4 769.3h0M453.8 561h0M1001.1 629.5h0M690 240h0M1058.4 673.2h0M388.6 422h0M172.9 539.1h0M725 161h0M942.9 763.7h0M344.8 753.9h0M739.2 182.9h0M607.9 230.1h0M777.3 223.6h0M630.9 670.3h0M793.4 586.9h0M221.3 549.1h0M398.7 846.4h0M196.4 512.8h0M187.6 542.1h0M400.4 828.2h0M596.7 739.2h0M668.8 420.9h0M613.5 677.7h0M1024.6 754.7h0M615.8 408h0M1022 733.8h0M623.1 394.9h0M956 772.1h0M675.5 242.1h0M724.4 470.1h0M911.8 711.6h0M180.3 535.9h0M566.2 237.3h0M433.9 400.7h0M434.5 565h0M350.7 720.8h0M760.9 211.7h0M991.1 770.6h0M378.7 755.2h0M981.2 654.6h0M633.5 688.1h0M662.9 427.5h0M820 782h0M1011.9 764.8h0M565.7 776h0M1013.5 650.6h0M646.4 912.5h0M931 754.5h0M1068 708.4h0M714.3 436.7h0M1055.3 687.2h0M964.5 725.7h0M990.5 684.6h0M939.6 750.7h0M376 744.1h0M681.8 445.5h0M815.3 305.1h0M707.3 137.8h0M396.1 415.8h0M1036 763.3h0M481.4 471.1h0M639 419.3h0M205 529.3h0M999.5 765.6h0M779 605h0M691.9 209.4h0M678.4 151.7h0M464.6 586.4h0M598.5 416.2h0M496.8 565.5h0M231.9 518.1h0M548.1 230.2h0M461.5 570h0M324.6 731.6h0M796.1 587.3h0M613.2 395.8h0M980.8 701.3h0M639.9 415.1h0M730.4 936.1h0M622.8 699h0M716.7 455.5h0M435.2 583.9h0M929 679h0M990.3 722.7h0M628.6 403.7h0M992.1 707.1h0M976.9 745.1h0M238.5 543.2h0M722.7 585.8h0M1054.8 653.9h0M723.6 448.2h0M710.4 163.2h0M194.5 566.4h0M216.4 570.5h0"/>
<path stroke="#936bef" d="M779.3 592.2h0M623 840h0M702.1 466.3h0M180.8 512.3h0M171.3 550.2h0M672.3 241.8h0M426.6 399.2h0M460.4 446.7h0M684.5 698.5h0M588 756h0M475.5 849.5h0M944.4 756.3h0M1061.7 730.8h0M770.3 587.1h0M689.3 435.8h0M710.4 186.5h0M207.4 512.8h0M669.9 464.3h0M448.5 578.2h0M994.6 748.6h0M162 559.9h0M650.6 681.7h0M713.9 186.5h0M361.4 741.9h0M393.2 399.8h0M666.8 425.5h0M988.6 659.1h0M506.5 561.6h0M351.4 825.2h0M977.9 778.4h0M1039.9 676.2h0M465.7 563.5h0M307.8 845.3h0M157.4 533.5h0M1065.3 701.1h0M743.2 191.8h0M1015 700.8h0M561.7 776.7h0M618.7 386h0M997.3 768.4h0M367.6 737.5h0M481.9 588.4h0M808.8 306.1h0M367.7 779.6h0M358.4 841.6h0M455.7 574.6h0M620 407.2h0M968.1 759h0M1078.6 706.3h0M622.7 675.2h0M1034 729.5h0M759.7 550.1h0M1008.5 711.9h0M582.7 766h0M197.3 512.6h0M514.2 567.3h0M737.2 166.9h0M322.6 798.3h0M388.7 418.5h0M684 455.3h0M637.4 404.8h0M945.4 744.7h0M736.7 141.9h0M715.8 177.4h0M614.1 684.9h0M999.4 672.6h0M550.7 250.1h0M1024 715.5h0M759.4 182h0M671.1 439.9h0M1041 736.8h0M599.4 467.9h0M720.6 184.1h0M1010.6 698.6h0M990.7 655h0M225.4 521.2h0M1050.4 748.1h0M356.7 757.9h0M1076.1 700.3h0M1035.2 747.4h0M688.7 245.7h0M1022.1 684h0M808.2 216.6h0M147.2 553.6h0M384.8 829.1h0M574 780.2h0M1018.3 640.4h0M561.7 793.3h0M485.6 576h0M798.6 217.5h0M655.8 693.2h0M340.9 863.9h0M737.8 175h0M442.7 1045.8h0M679.3 690.7h0M551.4 217h0M450.8 564.6h0M523.3 548.4h0M1012.7 701.2h0M1044.2 730h0M1023.3 674.5h0M565.7 777.9h0M180 527.5h0M624.1 406.1h0M941.4 752.2h0M244.1 574.3h0M689.8 132.6h0M682.2 459.2h0M594.7 395.9h0"/>
<path stroke="#9a73ed" d="M770.7 586.5h0M837.3 227.3h0M370.1 839.9h0M995.2 740.4h0M471.1 863h0M1015.5 703.1h0M315.5 829.7h0M347.5 743.8h0M382.4 785.9h0M200.4 535.5h0M1017.8 658.1h0M1031.7 743.3h0M570 224h0M626.3 463.2h0M996.7 634.7h0M958.7 781.1h0M495.8 565.7h0M720.2 153.6h0M718 580h0M358 786.7h0M711.2 154.4h0M675.9 437.6h0M342.3 820.2h0M391.4 424.7h0M604.2 447.1h0M979.7 749.5h0M752.1 197h0M1025.8 726.4h0M715.7 169.7h0M659.4 682.5h0M344.5 780.5h0M722.1 157.6h0M1015.4 715.6h0M353.2 838.1h0M701.9 119.6h0M395.9 826.2h0M531.4 987.7h0M769.5 567.8h0M674.5 148.4h0M516.9 558.7h0M1032.4 650.3h0M1005 705.9h0M571.7 527.1h0M993.9 767h0M1012.4 750.6h0M366.5 848h0M796.2 586.7h0M335.8 783.3h0M1066.4 707h0M212.8 567.8h0M694.7 160.5h0M1068.2 709.3h0M213.9 520.4h0M367.4 760h0M350.5 851.5h0M164.6 561.2h0M173.7 556.5h0M313.1 806.2h0M342.6 741.2h0M723.1 153.3h0M716 468.4h0M991.6 764.1h0M386 406.8h0M720.8 167.5h0M563.9 781.8h0M371.4 791h0M705.2 167.2h0M690.4 174.3h0M1032.3 715.1h0M693.7 421.4h0M688.4 147.2h0M813.3 274h0M494.3 465.1h0M343.9 791.2h0M347.9 781.3h0M642 669.3h0M709.6 452h0M437.9 830.4h0M464.5 573.7h0M451.3 412.6h0M226 536h0M360.8 770h0M581.5 227.8h0M237 518h0M554.9 240.1h0M742.9 169h0M372.7 758.1h0M316.1 795h0M791 590.8h0M1041.2 737.1h0M490.4 469.2h0M392.6 800.6h0M239.1 542h0"/>
<path stroke="#baa3e1" d="M704.8 184.8h0M1005 740.8h0M339.4 803.9h0M327 791.4h0M400 866.5h0M390.9 782.6h0M431.5 551.8h0M383 807.7h0M336.3 788.9h0M299.5 837h0M393.3 818.5h0M684.1 444.6h0M1010.6 662.2h0M726.6 848.6h0M307.5 810.9h0M319.8 846.1h0M297.7 850.3h0M363.8 820.5h0M539.3 998.4h0M379.3 759.3h0"/>
<path stroke="#bfabdf" d="M730.2 854.3h0M364.2 776.3h0M704.6 852.7h0M309 834.6h0M534.3 1007.3h0M301.4 805.3h0M331.7 831.3h0"/>
<path stroke="#532efa" d="M736.2 592.8h0M1004.5 760.7h0M737.9 448.4h0M183 556.3h0M947 717.1h0M940.6 712.1h0M474.4 456h0M1004.7 736h0"/>
<path stroke="#855bf2" d="M472.1 586.3h0M724.8 471.3h0M1002 755.6h0M948.4 761.8h0M615 459.3h0M160.7 540.9h0M223.7 505.4h0M601.4 430.9h0M806.7 216.7h0M406.5 428h0M1065.1 692.3h0M768 565.9h0M850.4 293.9h0M212.9 552.2h0M774.2 573h0M999.3 722.4h0M224.8 532.3h0M507.5 561.8h0M737.5 121.7h0M744.4 174.1h0M450.2 574.6h0M727.6 589.2h0M207.8 512.3h0M704.6 469.8h0M827 779h0M1022.9 635.2h0M956.1 737.9h0M215.9 513h0M928.5 754.6h0M508.4 382.9h0M1011.2 751.5h0M363.6 804.2h0M218.8 530.9h0M408 430.5h0M970 655h0M234.8 554.2h0M568.2 235.2h0M183.9 541h0M940 777.5h0M629.7 399.8h0M1006.3 648.7h0M793.3 222h0M606.9 417.2h0M839.6 280.9h0M658.3 666.6h0M184.2 550.5h0M683 249h0M723.3 445.3h0M838.8 282.8h0M681 424.2h0M813.9 283.6h0M741.2 596.2h0M981.1 761.5h0M1047 680.8h0M599 231.9h0M549.1 219.3h0M1033.9 659.6h0M822.3 281.4h0M204.4 518.3h0M640.9 690.4h0M721.5 190.5h0M546.6 241.9h0M203.7 509h0M605.1 460.6h0M517.5 545.4h0M634.7 406.9h0M1002.9 769.3h0M479.7 566.9h0M467 594.2h0M763.2 225.5h0M764.5 223.7h0M1033.4 722.9h0M240 571.8h0M548.7 254.6h0M622.6 420h0M1009.2 761.6h0M1062.5 716.1h0M469.9 576.7h0M1042.2 683.8h0M1068.6 718h0M342.6 772.7h0M601.9 468.9h0M618.4 690.9h0M618 460.3h0M249.4 570.7h0M673.5 426.3h0M768.1 586.2h0M450.9 587h0M725.1 182.6h0M554.5 235.2h0M988.9 689.2h0M348.5 782.2h0M1015.7 729h0M189.6 513.4h0"/>
<path stroke="#6b41f7" d="M658.8 424.9h0M996.3 765.4h0M199.8 549.3h0M176.4 567.3h0M670.6 458.1h0M989.7 635.2h0M642.9 661.5h0M1040.7 698.1h0M217.9 533.2h0M652 244.5h0M156.4 551.7h0M795.1 311.1h0M457.3 413.4h0M771.9 599h0M561.7 776.6h0M445 538h0M645.5 898.3h0M1030.8 734.8h0M521.4 565.4h0M644.9 696.6h0M999.8 754.3h0M1007.5 740.2h0M193.4 553.8h0M562.9 211.3h0M750.7 222h0M933.5 720.8h0M204 518.8h0M730.9 174.1h0"/>
<path stroke="#a07beb" d="M306.9 844.3h0M347.6 793.8h0M356.6 839.8h0M670.3 694h0M690.9 129.3h0M970 782.4h0M578.7 242.7h0M724.5 165.9h0M685.8 121h0M361.8 761.7h0M530.2 1010h0M1035 742.2h0M349.7 720.2h0M821.3 232.7h0M365.8 814.7h0M410.5 433.7h0M349.6 722.1h0M823.4 233.8h0M675.4 437.4h0M406.3 388.1h0M332.8 722.2h0M455.7 578.5h0M655.3 696.2h0M573 223.8h0M1025.6 724.3h0M438 572.3h0M436.2 837.2h0M420 406.7h0M727.4 841.4h0M195.6 537.6h0M191.6 519.4h0M719.9 936.4h0M299.3 801.6h0M238.6 542.1h0M957 785.7h0M643.7 430.7h0M766.9 567.1h0M729.8 159.2h0M400.7 381h0M332.7 860.7h0M349.9 854.6h0M457.2 568.3h0M240.1 575.8h0M1042.7 745.4h0M325.1 793.8h0M640.8 419h0M198.3 562.4h0M210.9 528.1h0M1061.9 712.8h0M187.9 566h0M629.7 875.8h0M973.9 726.4h0M495.1 563.4h0M965.4 748.9h0M955.1 776.4h0M305.8 810.5h0M543 506h0M698.4 435h0M340.8 778.2h0M310.5 823.1h0M1034.6 635.7h0M496.6 876.9h0M588.1 769.6h0M738.4 202.4h0M171.3 545.5h0M426.8 542.8h0M819.8 311.2h0M375.4 839.3h0M379.7 719.2h0M699.9 179.6h0M634.8 461.1h0M197.2 538.9h0M626.1 867.2h0M386 856h0M430.1 564.5h0M442.4 581.2h0M674.1 162.8h0M1024.7 660.7h0M552.3 222.8h0M334.7 735h0M166.8 521.5h0M481 469.7h0M701.2 145.1h0M672.9 143.6h0M518 561.3h0"/>
<path stroke="#cfcbd5" d="M1038.3 710.3h0M943.6 772.3h0M700.3 122.1h0M667.5 424.2h0M406.6 778.2h0"/>
<path stroke="#bfabdf" d="M1060.7 678.1h0M317.9 808h0M392.5 820.3h0M610 661.3h0M711.9 849.3h0M366 767.8h0M379.5 830.9h0M745.9 856.6h0"/>
<path stroke="#7d52f4" d="M1042.1 759.1h0M437.7 572.8h0M612 673.7h0M554.4 229.1h0M672.4 458.7h0M1055.2 714.3h0M465.5 571h0M1007.3 742.9h0M1029.8 703.6h0M1068.2 728.1h0M621.1 397.6h0M634.4 405.3h0M620.1 413.4h0M640.7 909.8h0M933.3 743.4h0M734.6 587.2h0M719 934.7h0M991.2 757.4h0M183.9 537.9h0M1015.6 685.5h0M945.5 715.3h0M1036.5 664.8h0M747 200.4h0M1006.7 775.1h0M624.9 668.1h0M786 302.4h0M575.8 497.5h0M727.9 190.6h0M601 401.5h0M1055.8 680.5h0M181.6 524.4h0M456.2 574.9h0M708.7 464.8h0M1007.6 698.3h0M833.3 279.4h0M833.9 278.8h0M727.9 184.6h0M1060 710.1h0M597.6 393.3h0M1020.6 725.2h0M189.6 546.8h0M703.9 161.3h0M1027 752.7h0M724.8 447.7h0M739 185.4h0M963.1 757.9h0M441.9 577.7h0M726.3 443.6h0M977.8 723.2h0M721 160h0M721.3 460.7h0M636.3 417.4h0M613.9 384.3h0M555 223.1h0M391.2 778.4h0M176.7 562.4h0M719.9 174.1h0M1003 762.8h0M978.4 755.3h0M591.8 235.6h0M958.6 738.7h0M400.8 415h0M611.2 777.9h0M685 169.6h0M994.5 728h0M831.4 293.2h0M981.6 700.1h0M961.6 774.2h0M422.7 437h0M928.3 730.4h0M536 1014h0M450 576.9h0M439.3 558.6h0M642.8 466.9h0M654.4 420.9h0M646.8 913.7h0M948 744.7h0"/>
<path stroke="#ab8be7" d="M532.4 982.6h0M456.3 854.8h0M354.4 718.5h0M327 861.1h0M915.4 563.3h0M643.9 696.5h0M367.8 852.7h0M768 558.7h0M945.4 784.5h0M352.3 853.6h0M255.6 494.2h0M618.5 654.1h0M334.9 784.5h0M390.5 861.7h0M378.5 815.1h0M404.3 401.1h0M296.5 833.9h0M321.4 845.1h0M354.7 789.8h0M540.7 993.8h0M394.4 787.9h0M731.2 129.1h0M1042.2 681h0M1035 707.5h0M672.7 449.4h0M363.5 776.9h0M446.4 849.5h0M1005 725h0M368.4 838h0M625.1 439.2h0M366.4 843.2h0M436.5 554.5h0M348.3 824.7h0M340.2 740.8h0M691.3 157.3h0M922.3 736.3h0M819.3 314.3h0M976.8 653.7h0M340.4 835.9h0M565.8 233.2h0M650.7 448.5h0M173.3 537.7h0M1032 652.9h0M417.6 821.9h0M1020.3 688.4h0M776.3 575h0M326.3 796.1h0M394.3 789.7h0M497.6 882.1h0M362.7 766.4h0M745.3 856.7h0M330.2 795.1h0M640.6 659.5h0M316.2 849.8h0M327.9 863.1h0M666 461.2h0M593 541h0M479 859.5h0M1051.3 733.5h0M399.8 784.7h0M214.3 550.9h0M688 207h0M941 761h0M313 796.5h0M334.7 829.4h0M495.5 872.9h0M695.6 224.4h0M596.8 431.6h0M514.6 557.1h0M737.4 845.9h0M370.4 745.7h0M370.3 848.4h0M1021.9 653.2h0"/>
<path stroke="#744af5" d="M605 421.9h0M587.5 536.7h0M204.1 501.2h0M574.5 766.6h0M408.3 428.4h0M585.1 242.7h0M971.4 730.8h0M998.5 748.9h0M1055.8 722.7h0M1082.3 667.3h0M835.9 290.1h0M728.9 448.9h0M1032.3 764.2h0M729.3 452h0M1059.2 647h0M964.6 713.6h0M978.5 766.5h0M487.4 585.1h0M1065.7 659.9h0M626.1 648.7h0M623.7 399.8h0M612.1 703h0M655.1 699.3h0M989.8 661.1h0M157.2 543.8h0M704.6 143.1h0M1073.2 702.9h0M840 218h0M732.2 450.3h0M725 848.4h0M744.7 848h0M559 771.1h0M723.4 183.9h0M647.4 904.6h0M735.1 149.8h0M1075.5 698.1h0M698.1 452h0M969.2 763.3h0M1021 666.5h0M701.3 139.9h0M1023.2 745.4h0M951.7 774.6h0M623.7 404.7h0"/>
<path stroke="#6038f9" d="M190.5 508.7h0M211.1 571.9h0M942.2 756.7h0M696.7 151.5h0M1012.2 737.8h0M998.1 677.4h0M979.7 778.4h0M1013.7 730.4h0M1057.6 675.7h0M778.3 596.4h0M848.6 288.4h0M836.9 276.7h0M731.2 942.4h0M977.6 736.8h0M1030.5 734.5h0M648.7 246h0M204.2 554.3h0M932.5 728.2h0M609.4 235.5h0M556.7 227.6h0"/>
<path stroke="#532efa" d="M590.8 539.2h0M758.7 598.9h0M222.4 510.5h0M166.3 550h0M619.7 695.6h0M774 565.4h0M184.5 551.5h0M969 669.5h0M1077.7 711.2h0M598 545h0M834.6 281.6h0M450 568.1h0"/>
<path stroke="#cbc3d8" d="M390.9 755.5h0M603.1 678.4h0M763.6 218.1h0M796.1 305.1h0M574.3 764.9h0M325.9 796.5h0M345 803.8h0M351 734.9h0"/>
<path stroke="#c7bbda" d="M411.2 827.8h0M383.9 812.7h0M480.2 856.6h0M688.8 707.8h0M431.8 833.5h0M370.3 750.4h0M339.3 812.2h0"/>
<path stroke="#a683e9" d="M635.4 668.8h0M773.6 214.5h0M379.1 815.8h0M606.6 421.5h0M495.3 460.7h0M722.2 845.1h0M212.7 547.7h0M950.6 741.7h0M764.8 559.1h0M680.9 129.5h0M526.6 1015.8h0M685.9 150.1h0M362.8 728.9h0M516.6 548.2h0M152.1 535.8h0M737.5 860.9h0M452.2 850.4h0M185.5 569h0M374.8 858.4h0M489.8 468.8h0M934.7 731.7h0M1023.6 731.5h0M228 532.8h0M960 705.9h0M227.6 547.2h0M335.9 844.4h0M752 197.1h0M492.3 571h0M619.7 671.4h0M327.7 814.3h0M361 831.3h0M826.6 287.1h0M768 583h0M408.4 800.1h0M367.1 837.2h0M946.2 724.2h0M648.7 426.9h0M1053.4 666.2h0M1013.5 731h0M990.6 678.3h0M315.2 817.5h0M810 318h0M1015.2 639h0M454.9 562.5h0M650.9 681.6h0M394.8 786.9h0M716.5 158.4h0M335.9 776h0M181.1 546.4h0M354.3 789.4h0M663.8 688h0M429.5 447.2h0M428 551.4h0M797.9 310.8h0M712.4 169.3h0M695.6 183.4h0M612.7 673.1h0M822.6 223.9h0M300 845.3h0M743.5 850.5h0M353.9 851.7h0M344.1 745.3h0M537.1 1006.3h0M352.1 796.3h0M1003.3 627.4h0M445.1 581.2h0M330.7 795.9h0M722.1 144.3h0M705.2 128.9h0M331.8 762.3h0M366.7 850h0M639.4 888.1h0M361.4 781.4h0M511.3 555.4h0M644.3 701.9h0M358.2 788.9h0M1022.1 664.9h0M987.8 720.5h0"/>
<path stroke="#936bef" d="M968.1 706.1h0M502.3 560.5h0M172.3 528h0M523.3 567.7h0M650.1 692.8h0M1039.5 630.9h0M958.8 748.8h0M433.7 447.5h0M955.2 680.3h0M720.5 581h0M1010 707.1h0M401.5 389.1h0M1020.9 697.6h0M399.3 424.4h0M992 708h0M425 439.5h0M207.1 533.5h0M176.1 564.8h0M640.5 892.3h0M963.3 776.8h0M742 173.4h0M951.7 725.8h0M958.6 682.9h0M955.5 728.9h0M217.5 569.6h0M975.4 715.9h0M1010.8 774.8h0M227.9 546.6h0M182.7 549.2h0M653.3 412.5h0M710.4 120.9h0M459 560.8h0M486.2 464.9h0M618.1 422.3h0M561.3 248.6h0M947.5 775.7h0M216.1 529.2h0M655.6 443.7h0M752.2 533.9h0M995.5 663.7h0M660.3 462.7h0M322.2 758.3h0M179.4 551.3h0M689.5 116.9h0M655.1 416.1h0M790.5 296.5h0M965.7 755.3h0M483.5 561.1h0M616.7 670.5h0M567.5 242.1h0M192 544.6h0M499.1 584.7h0M664 438.4h0M647.4 919.8h0M200.6 502.5h0M583.2 764.3h0M640.3 417.5h0M626.5 662.8h0M609 404.9h0M603.8 672.8h0M667.1 455.3h0M737.1 134.1h0M333.6 760.4h0M1062.5 716.8h0M930.8 730.3h0M606.5 460.7h0M212.8 544.7h0M611.4 397.6h0M732.7 170.2h0M554.8 218.8h0M1047.2 748.3h0M584.5 776.8h0M745.5 145.4h0M334.3 839.3h0M213 542.4h0M424.4 834.2h0M232 529.9h0M750.7 275.3h0M568.8 214.4h0M1015.5 732.2h0M336 858.2h0M597.8 451.8h0M716.3 171.9h0M773.5 600.2h0M767.2 565.7h0M306.7 827h0M636.2 660.3h0M729.7 121.4h0M760.4 538h0M684.3 144h0M700.5 457.1h0M459.6 591.2h0M431.2 556.3h0M1038.6 636.5h0M612.1 691h0M175.2 524.7h0M1033.3 705h0M587.4 763.9h0M667.7 430.2h0M611.3 402.7h0M795.2 304.3h0"/>
<path stroke="#c3b3dc" d="M347.1 803.1h0M381.5 722.8h0M387.7 853.8h0M970 677.4h0M428.1 556.6h0"/>
<path stroke="#b193e5" d="M971.1 753.3h0M388.1 796h0M411.6 429.3h0M717.3 160.4h0M179 545h0M400.6 779h0M325.9 849.7h0M341.9 789.4h0M995.4 667.8h0M328.7 859.2h0M352.4 779.2h0M985.4 768.2h0M508.1 560.4h0M342.3 785.4h0M371.7 851.6h0M708.3 130.3h0M367.2 801.3h0M379.8 844.2h0M1081.6 653h0M394.7 754.9h0M1023.6 770.8h0M734.8 843.3h0M341.3 849h0M458.5 862.7h0M396.4 859.2h0M393.1 843.8h0M704.1 135.5h0M361.7 745h0M1028.4 698.9h0M1025 744.8h0M951 742.4h0M389.5 792.8h0M360.6 820.9h0M389.4 788h0M728.9 859.3h0M465.2 567.9h0M517.5 533.8h0M606.8 465.1h0M425.1 829.1h0M347.5 831.8h0M996.3 755.5h0M400.3 809.7h0M703.7 170.5h0M536.1 1002.2h0M480 854.4h0M525.2 539.1h0M387.5 818.8h0M155.5 544.5h0M781.3 250h0M320.8 821h0M418.4 394.3h0M333.1 824.5h0M322.5 844h0M343.1 847h0M403.4 423.8h0M372.7 812.2h0M374.1 856.7h0M297.7 810.4h0"/>
<path stroke="#d3d3d3" d="M632.5 412.8h0M736.5 845.9h0"/>
<path stroke="#baa3e1" d="M518.2 562.4h0M990.5 640.1h0M345.3 746h0M533.6 450.8h0M347.9 777.2h0M947.8 749h0M432.5 540.9h0M485.5 876.6h0M730.8 185h0M387.2 796h0M399.7 833.3h0M985.7 727.3h0M722.8 840.5h0M532.9 1012.8h0M446 851.7h0M998.5 767.1h0M731.1 846.8h0M614 425.3h0M304.4 808.9h0M409.8 827.8h0"/>
<path stroke="#8c63f0" d="M833.2 275.4h0M1008.1 657.9h0M396.9 385h0M604.9 409.8h0M1015.1 740.8h0M225 506.7h0M584.8 240.7h0M824.1 217.8h0M920 713.4h0M492.9 575.1h0M645 245.3h0M539.2 248.3h0M614.2 422.2h0M751.9 593.6h0M995.4 746.4h0M622 431.2h0M229.6 574.7h0M484.6 454.7h0M647.6 420.9h0M774.6 576.1h0M794.6 585.9h0M395.5 415.9h0M744.4 594.9h0M196.4 532.8h0M704.7 463h0M1021 706.9h0M429.1 560.3h0M804 213h0M390.8 408.7h0M461.4 560.6h0M645.7 407.8h0M621.3 401.9h0M226.6 548.7h0M462.2 594.4h0M354.1 734.3h0M218.7 531.7h0M679.9 145.7h0M701.3 430.7h0M392.7 392.5h0M611 378.3h0M726.5 948.3h0M553.9 220.7h0M234.5 536.7h0M694.1 439.1h0M942.8 734.7h0M442 581.5h0M188.2 521.9h0M567.4 763h0M478.4 466.5h0M727.8 943.8h0M1051.7 716.9h0M470.1 460.4h0M433.9 547.9h0M718.7 458.7h0M962.6 753.5h0M939.6 783.9h0M502.6 455h0M222.8 567.6h0M800.9 301.6h0M682.2 246.8h0M670.7 439.9h0M693.4 720h0M188.6 558.1h0M674.7 134h0M353.8 809h0M1054.6 687h0M464.1 594.6h0M406.5 435.8h0M205.6 557.2h0M249 572.7h0M969.5 761.1h0M175.9 559.4h0M686.3 704.3h0M200.2 504.2h0M518.1 457h0M551.8 236h0M586.6 227.9h0M403.7 436.1h0M714.8 454.6h0M612.6 667.2h0M241.3 573.4h0M932.1 772.8h0M711.4 156.3h0M456.2 569.7h0M990.7 777.3h0M694.4 126.7h0M971.5 689h0M845.9 296.5h0M738.3 186.9h0M947.7 722.5h0M1007.6 766.2h0M433.8 400.3h0M942.1 759.5h0M197.4 503.8h0M1038.4 705.9h0M683.1 448.1h0M777.3 596.6h0M511.8 551h0M1026.2 742.9h0M444 584.8h0M1014.9 773.4h0M436.8 393.9h0M731.8 936.1h0M765.6 598.2h0"/>
<path stroke="#9a73ed" d="M359.9 764.8h0M685.7 158.1h0M728 939h0M759.9 205.8h0M395.4 384.5h0M366.9 757.8h0M697.4 153.6h0M359.8 798.2h0M759.9 198.7h0M201.7 560.4h0M234.1 546.9h0M680 125.8h0M392 409.5h0M643.1 676.8h0M630.4 407.9h0M1064.5 732.1h0M832.9 275h0M964.7 702.9h0M993 730.1h0M700.6 164.8h0M563 230.1h0M626.8 402.3h0M624.7 394.4h0M352.4 729.1h0M596.3 449.8h0M361.2 768.7h0M607.7 679h0M367.2 855.8h0M462 590.5h0M714.9 141.2h0M508.1 381.9h0M667 457.5h0M768.1 573.8h0M228.3 544.6h0M1026 766.2h0M609.3 428h0M689.2 439.3h0M623 423.9h0M790.6 578.2h0M709.8 163h0M193.1 512.1h0M975.1 764.2h0M372.6 782.6h0M658.3 457.5h0M346.8 747.4h0M971.8 743.9h0M698.3 255.8h0M708.2 177.2h0M716.1 144.2h0M995.6 716h0M643.5 920.5h0M187 521.2h0M637 675.3h0M222 533.9h0M978.1 759.3h0M365.9 820.7h0M736 846.3h0M510.4 868.5h0M984 701.5h0M977.4 720.5h0M191.1 505.8h0M439.1 581.3h0M621.7 650.5h0M769.2 577.5h0M936.9 735.8h0M223.2 542.9h0M733.4 591h0M689.7 124.2h0M415.6 442.1h0M730.9 119.9h0M714 442.7h0M197.7 560.5h0M203.1 554.6h0M594 742h0M680.2 458h0M460 394h0M691.7 164h0M154.9 540h0M642.7 700.5h0M959.3 713.4h0M1059.8 687.8h0M720.5 142.9h0M683.8 124.8h0M329.5 806.8h0M461.4 577.4h0M792.5 581.1h0M630.2 407.9h0M368.2 826.3h0M1052 746.3h0M317.7 802h0M1014.3 692.7h0M932.3 725.8h0M982.3 771.7h0M226.7 545.6h0M584.8 768h0M650.4 907.6h0M832.6 231.3h0M236.6 548.2h0M651 683.9h0M666.2 695.1h0M681 458.4h0M763.5 550.3h0M812.8 283h0M410.6 435.1h0M978.4 719.3h0M595.2 404.1h0M451.7 560.5h0M340.1 840.8h0M1051.3 744.6h0M735 179.3h0M967.1 683h0M470.7 857.3h0"/>
<path stroke="#b69be3" d="M751 850.4h0M405.7 806.8h0M1039.5 683.5h0M366.7 748.5h0M641.8 699.4h0M693.1 440.9h0M299.2 838.5h0M344.3 745.1h0M369.6 786.9h0M405.3 843h0M672.3 465.9h0M561.7 789.2h0M400.9 779h0M357.5 830.9h0M766.5 206.4h0M688.8 142.3h0M734 588h0M305.9 795.7h0M707.7 133.5h0M299.3 809.9h0M364.1 748.7h0M360.6 816h0M406.4 851.4h0M394.1 848.8h0M358.7 749h0M361.3 811.2h0M369.2 858.7h0"/>
<path stroke="#ab8be7" d="M303.4 804.7h0M389 745.5h0M369 812.1h0M335.6 797.2h0M964 707.4h0M339.1 849.3h0M975.2 720.9h0M670.7 427.3h0M1018.1 704.2h0M308.6 830.6h0M397.9 402.8h0M562.4 241.7h0M296.4 830.7h0M544.7 1004.7h0M337.2 738.6h0M1013.7 696.3h0M734.2 163.7h0M378.2 813.3h0M621.8 689.7h0M942.7 785.7h0M686.7 205h0M382.5 790.3h0M494.7 363.6h0M726.3 848.8h0M588.3 755.8h0M956.8 786.1h0M497.7 861.8h0M630.4 682.1h0M389.7 780.6h0M302.9 822.4h0M565.4 521.7h0M952.1 693.4h0M327.5 784.9h0M343.6 828.4h0M597.6 466.6h0M378.3 839h0M411.7 823.2h0M696.8 458.2h0M1019.9 772.8h0M766.1 226.8h0M506.4 373.7h0M747.2 854.1h0M330.1 809h0M386.8 795.4h0M995.2 677.6h0M536 1000.1h0M336.4 857.3h0M435.1 550.8h0M346.2 800.1h0M445.2 845.1h0M752.3 206h0M1011.1 651.7h0M515.6 873.2h0M351.6 792.5h0M644.2 896.7h0M311.9 812.5h0M350 812.9h0M817.6 312.3h0M999.5 763h0M537.6 996.3h0M759.9 200.3h0M332.1 730.8h0M295.7 812h0M693.7 164.7h0M370.6 821.1h0M769.3 573.6h0M371.2 779.7h0M740.6 847h0M420.2 441.2h0M1037.5 766.1h0M747 720h0M463.9 856.8h0M358.8 860.9h0M717.1 161.8h0M924.2 722.1h0M342.5 788.2h0M1015.7 758.3h0"/>
<path stroke="#6038f9" d="M675.8 713.2h0M733.7 586.9h0M572.5 235.3h0M961.5 665h0M458.4 561.4h0M957.4 744.5h0M457.4 565.9h0M985.5 747.6h0M764.3 209.6h0M666.4 456.5h0M615.7 417.7h0M197.9 554.1h0M502.6 559.8h0M192.7 539.6h0M734.2 125.9h0M606.9 413.3h0M473.5 576.1h0M234.7 542.2h0M568.8 766.4h0M742.8 169h0M186.6 532.3h0M1058.7 715.5h0M613.9 664.7h0"/>
<path stroke="#936bef" d="M718.9 432.6h0M743.8 192.2h0M1011.5 672.9h0M588.2 772.6h0M1061 642.3h0M324.3 737.2h0M601 420.9h0M474.1 864.7h0M344.5 763.1h0M794.1 585.8h0M592.5 226.1h0M1073.1 717.2h0M509 581.8h0M551.7 772.8h0M1042.2 651.1h0M447.4 844.8h0M367.9 842.6h0M616.9 399.9h0M1001.7 715.1h0M840.9 295.8h0M713.2 435.1h0M1034 698.4h0M540.2 1005.5h0M154.1 546.5h0M480.6 871.7h0M573.3 488.3h0M681.4 122.3h0M431.9 825.9h0M571.8 777.7h0M1027.9 748.5h0M516.6 568.1h0M644.6 666.5h0M934.9 715h0M221.3 544.9h0M192.4 546.5h0M707.4 181h0M684 701.3h0M971.7 689.3h0M729 471.5h0M356.6 789.1h0M356.5 831h0M161.4 536h0M1000.9 731.9h0M704.4 184.8h0M1034.5 639.6h0M1006.8 668.9h0M517.4 531h0M612.7 686.1h0M1005.8 760.6h0M1012.7 776.5h0M1036.3 672.5h0M1032.1 707.6h0M1038.6 720.7h0M1057.8 684.9h0M620.3 403.9h0M911.7 716.4h0M690.2 727.8h0M952.6 725.1h0M945.9 756h0M532 239h0M697.7 147.1h0M979.5 767.8h0M517.3 537.6h0M974.6 679.1h0M983.8 737.4h0M528.8 449.9h0M695.6 159.1h0M998 720.4h0M978.5 710.1h0M517.9 398.5h0M560.8 212.4h0M940 763.5h0M723 185h0M574.3 241.9h0M911.7 707.9h0M674.9 458.1h0M989.7 757.7h0M691.6 119.5h0M1044.4 699.7h0M499 869.6h0M1056 653.7h0M374.4 766h0M672.4 428.3h0M578.1 235.2h0M720.3 455.7h0M678.8 135.4h0M697.5 149.5h0M954.8 712.1h0M687 233h0M478 594h0M459.9 850.5h0M615.8 241.8h0M754.3 851.5h0M165.2 525.3h0M1023.5 662.1h0M500.6 505h0M915.5 712.2h0M604.8 421.7h0M1023.6 697.1h0M657.6 429.6h0M190.5 542.5h0M743.8 848.1h0M1001.2 702.8h0M694.2 449.6h0M712.4 428.5h0M1008.9 775.3h0M193.3 514h0M1008.8 726.7h0"/>
<path stroke="#532efa" d="M177.1 531.1h0M1038 695.2h0M576.7 530.8h0M975.5 649.7h0M739.1 134.8h0M189.4 540h0M622.3 389.7h0M621.8 413.7h0M569.5 243.4h0M796 286h0M512.3 566.5h0M798 582.5h0M1058 647.2h0M707.5 259.2h0M816.1 792h0M783.7 599.2h0M796 212h0M662.3 462.2h0"/>
<path stroke="#b69be3" d="M354.4 736.3h0M314.5 838.6h0M646.7 423.3h0M391.2 783.4h0M184 535.1h0M320.7 803h0M327.1 733h0M382 806.4h0M747.3 197.3h0M707.2 845.9h0M312.1 788.9h0M952.2 764.2h0M1052.6 702.6h0M708.6 451.4h0M400.4 822.2h0M339.4 789.8h0M764 228h0M392.8 825.6h0M754.6 845h0M1061.8 701.9h0M389.7 798.6h0M660.3 703.6h0M331.2 787.3h0M839.2 216.3h0M340 851.5h0M634.5 653.6h0M719.9 835.3h0M735.2 839.4h0M923.2 740.7h0M318.8 822.2h0M330.8 835h0M723.8 132.8h0M348.5 844.9h0M717.2 852h0M965.7 771h0M349.8 787.9h0M656.9 689.6h0M1078.1 677.8h0M363.2 746.5h0"/>
<path stroke="#9a73ed" d="M633 660.8h0M1044.8 731.5h0M383.9 796.7h0M941.1 721.3h0M329.5 743.9h0M463.3 586.3h0M324.3 737.2h0M708.8 444.5h0M691.4 448h0M559 222.8h0M317.2 796.9h0M373.9 815.4h0M152.8 556.4h0M979.3 770.7h0M724.4 455.9h0M664.8 680.9h0M711 185.5h0M553.5 213.2h0M969.1 770.9h0M744.3 196h0M194.1 557.4h0M353.4 745.3h0M720.3 167.5h0M239.1 537.7h0M1060.1 720h0M641.2 685.8h0M723.2 154.7h0M598.4 468.7h0M333.4 800.4h0M727.1 187.8h0M576.6 225.6h0M166.7 536.4h0M1011.3 743.6h0M390.6 852.1h0M399.7 810.2h0M399.8 425.1h0M791 587.4h0M626.9 404.5h0M380.1 837.2h0M477.8 870.7h0M1008.4 771.2h0M496.7 571.4h0M314.2 824.7h0M1021.7 749.4h0M676 696.8h0M694.7 459.4h0M920.5 727h0M711.9 123.6h0M692.5 190.6h0M373 851.9h0M550.3 231.4h0M984.2 723.8h0M401 406.4h0M761 603.8h0M930.1 715.1h0M396.6 820.7h0M987 635.4h0M725.6 154.1h0M584.8 765.4h0M811 314h0M999.9 751.1h0M940.2 755.8h0M571.7 766h0M193.4 551h0M621.1 697.7h0M663.6 678.9h0M1046 632.6h0M1012.9 754.8h0M977.4 668.3h0M989.8 729.6h0M730.8 943.4h0M727.5 141.3h0M718.1 189.7h0M710.1 168.6h0M346.5 808.4h0M200.4 524.6h0M743.1 171.6h0M624.5 239.7h0M840.3 295.6h0M387.8 420.3h0M685.4 424.6h0M494.9 361.9h0M724.1 124.5h0M576.1 238.4h0M753.8 212.7h0M215.5 525.5h0M229.4 526.3h0M935.3 755.8h0M961.4 684h0M171.4 527.2h0M591.7 745.8h0M233.4 521.3h0M718.1 846.6h0M338.8 738.2h0M1027 663.7h0M734.2 145.3h0M438 409h0M991.5 710h0M735.6 451.5h0"/>
<path stroke="#bfabdf" d="M299.9 810h0M1024 763.2h0M369.3 806.4h0M691.1 726.2h0M358.3 763.9h0M715 848.1h0"/>
<path stroke="#744af5" d="M1038 714.7h0M1041.6 723.9h0M840.5 282.9h0M1006.9 628.8h0M547 253.5h0M555.8 248h0M705.8 438h0M632.5 677.9h0M719.8 169.1h0M660.4 424.6h0M255 502.3h0M982.6 733.3h0M236.5 530.9h0M703.9 158.4h0M718.8 181h0M1028.2 755h0M763.7 592.6h0M773.8 584.7h0M195.6 560.1h0M736 596.2h0M590.2 230.8h0M450.5 1040.1h0M557.4 218.6h0M995.7 734.3h0M203 539.3h0M594.2 222.9h0M517.2 569.3h0M499.9 451.8h0M531.1 451.1h0M833.1 222.4h0M929.1 775.3h0M768.6 587.4h0M1023.7 740.5h0"/>
<path stroke="#d3d3d3" d="M917.5 559.6h0M648.7 411.1h0"/>
<path stroke="#cbc3d8" d="M721.9 177.7h0M790.5 593.1h0M1027.3 743.5h0M341.9 783.5h0M676.3 121.6h0M436.7 557.6h0M391.8 831h0M754.3 199.2h0M974 765.2h0M227.2 555.7h0M973.2 697.3h0"/>
<path stroke="#6b41f7" d="M792.7 596.7h0M841.2 276.2h0M576.7 457.5h0M199.8 548.7h0M960 664h0M1026.3 748.2h0M802 244.7h0M587.6 769.8h0M491.6 358.3h0M1010.7 747.1h0M1064.8 665.3h0M793.3 584.1h0M599.5 396.6h0M178.9 534.1h0M718.1 188.3h0M959.5 750.9h0M498.8 559.4h0M181.2 542.9h0M971.8 744.7h0M160.5 554.1h0M979.9 769h0M398 427.5h0M203.9 539h0M219.4 508.3h0M651.6 428.3h0M517.4 534.4h0M719.8 168.2h0"/>
<path stroke="#c3b3dc" d="M769.8 575.8h0M550.4 228.2h0M701.4 439.2h0M313.1 854.1h0M348.6 834.3h0M374 790.1h0M569.9 216.3h0M642.9 693.9h0M386.5 724.1h0M349.1 810.6h0M361.5 826.2h0M973.1 674.2h0M334.1 817.5h0"/>
<path stroke="#baa3e1" d="M329.2 794.7h0M501 867.5h0M333.4 806.8h0M316.2 822h0M348.3 738.3h0M1024 657.9h0M965 725.3h0M213.5 562.7h0M339.5 788.7h0M672.4 124.2h0M710.2 436.8h0M795.5 210.4h0M1030.6 635.2h0M638.6 652h0M641.4 890.5h0M734.9 844.1h0M369.2 816.9h0"/>
<path stroke="#cfcbd5" d="M820.2 294h0M408.3 782h0M757.4 217h0"/>
<path stroke="#b193e5" d="M427.3 551.4h0M380.3 819.5h0M350.9 850.3h0M600 439.2h0M431.6 829.7h0M378.2 783h0M338.2 858.5h0M322.1 830.1h0M607.5 399.6h0M307.5 818.5h0M374.3 780.9h0M367.9 780.2h0M356 745.5h0M339.5 797.8h0M647.4 464.3h0M389.3 790.8h0M375.7 783.6h0M745.4 157.8h0M941.3 751.7h0M707.7 433.5h0M1027.3 726.1h0M692.6 171.6h0M304.5 798.2h0M1041.2 740.7h0M426.3 823.8h0M1022.4 756.3h0M431.3 568.7h0M649 464.7h0M389.5 745h0M1023.4 753.9h0M308 830.5h0M463.2 851.6h0M822.7 336.7h0M214.9 564.3h0M732.8 445.9h0M764.3 204.7h0M363.5 791.8h0M315.5 854.2h0M352.6 851.8h0M298.3 848.3h0"/>
<path stroke="#c7bbda" d="M338.4 849.3h0M694.9 430.7h0M684.5 169.2h0M399.6 829.1h0M359 798.4h0M227.5 537.5h0M332.9 803h0M735.2 192.6h0M418.1 803.9h0M362.6 825.7h0M720 860.4h0"/>
<path stroke="#8c63f0" d="M973.9 748.3h0M679 460.5h0M515.5 447h0M191.4 550.6h0M1023.4 767.5h0M1052.2 746.3h0M610 406.4h0M502.5 565.1h0M669.9 465.7h0M948.2 767.8h0M395.3 389.1h0M1046.6 725.7h0M565.2 224.9h0M402.3 406.4h0M720.8 189.9h0M495.3 562.7h0M240.5 572.4h0M483 583.2h0M1044.7 701.9h0M971.6 659.2h0M210.3 552.6h0M1056.4 679.3h0M728 442h0M596.4 391.3h0M821.7 790.7h0M581.6 763.4h0M833.2 278.7h0M1078.3 676.4h0M1061.1 687h0M793.1 300.3h0M945.5 721.2h0M645.5 920.7h0M487.4 354.9h0M728.5 161.7h0M1030.7 752.7h0M640 922h0M710.8 848.8h0M473.9 589.3h0M709.5 135.2h0M681.8 153.6h0M959.3 677h0M703.9 431.7h0M950.2 729.8h0M824.5 272.8h0M451.1 412.2h0M1038.9 743h0M623.6 856.4h0M591.5 221h0M759.4 188.8h0M1010.3 750.9h0M955.5 710.6h0M776 568h0M713.7 181.2h0M773.3 598.9h0M1001.5 752.9h0M1053.5 637.3h0M1047.3 638.8h0M609.1 648.5h0M426 436.8h0M730.2 943.7h0M218.3 512.8h0M181.3 517.3h0M968.6 753.9h0M999.6 706h0M715.8 167.8h0M222.1 539.7h0M432.8 539.9h0M773.6 574.3h0M564.3 217.5h0M1063.1 652h0M612.1 415.9h0M1068.6 728.5h0M184 538.4h0M753.8 202.8h0M790.9 309h0M627.6 399.5h0M404.2 397.9h0M852.6 289.5h0M555.7 220h0M548.4 220.8h0M733.2 468.4h0M714.3 184.1h0M507.7 563.6h0M589 474h0M1033.1 692.4h0M602.1 453.5h0M204.1 545.2h0M650.4 909.2h0M429.4 551.6h0M1077.6 698.5h0M624.8 465.3h0M608 418.4h0M731.9 223h0M1064.1 742.2h0"/>
<path stroke="#855bf2" d="M1039.5 651.7h0M585.3 239.3h0M723.9 437.2h0M852.9 279.6h0M155.1 546.9h0M643.3 927.3h0M606.1 422.4h0M722.3 935.2h0M983.2 731.3h0M798.3 312.4h0M716.4 474.4h0M463.4 597.9h0M559.3 247h0M617.4 236.5h0M712.3 127.1h0M519.8 564.7h0M1020 689.9h0M724 455.7h0M958.9 755.3h0M684.6 123.2h0M998.9 727.2h0M959.9 770.3h0M708.3 453.1h0M240 523h0M406.3 395.5h0M210.8 511.8h0M941.2 763.4h0M968.9 661h0M477.3 561.9h0M540 447h0M725.4 184.9h0M597.4 467.7h0M497.4 576h0M484.9 577.6h0M986.6 776.6h0M404.4 434.7h0M1035.5 639.7h0M993.6 725.8h0M999 752h0M752.5 147.5h0M1020 719.8h0M979.3 645h0M208.8 554.6h0M767.2 566.2h0M177.2 542.5h0M983.6 738.3h0M1026.3 738.6h0M303.2 852.9h0M595.3 392.5h0M1004.4 753h0M642.5 696.9h0M685 426h0M191.4 514.8h0M637.3 689.3h0M553.7 217.3h0M602.1 382.9h0M523.2 544.2h0M502.2 572.5h0M721.4 939.6h0M1038 644.9h0M678.2 157.7h0M1006 744.1h0M762.4 555.5h0M232 549.6h0M1041.1 733h0M995.8 765.9h0M1052.9 731.5h0M664.6 711.9h0M654.3 667.2h0M228.2 533.9h0M943.9 731.2h0M747.2 201.4h0M599.9 420.4h0M608.3 658.1h0M716.6 160.7h0M691.8 147.8h0M228.4 508.2h0M839.4 293.5h0M1038.1 699.2h0M1038.6 660.9h0M777.8 589.6h0M631.9 409.6h0M748.6 593.3h0M830.3 285.7h0M172.7 541.1h0M509.2 559.4h0M602.9 682.9h0M204.1 549.9h0M798.2 309.1h0M851.9 280h0"/>
<path stroke="#4423fc" d="M789.3 248.7h0"/>
<path stroke="#a07beb" d="M340.8 726.2h0M937.7 731.3h0M780.1 590.2h0M614.3 673.4h0M960 709h0M196.4 516.5h0M445.4 833.3h0M943.4 753.6h0M687.4 122.7h0M659.2 670.7h0M360.9 851.5h0M482.7 594.2h0M517 918.3h0M166.6 525h0M505 373.3h0M659.3 430.7h0M347.1 819.2h0M1052 684.2h0M737 941.9h0M534.1 1007.9h0M668 981h0M344.1 838.4h0M537.4 993.9h0M1037.7 754.3h0M722.4 173.8h0M519.9 935.3h0M720.9 847h0M518.4 524.8h0M401.6 394.1h0M1025.8 680.2h0M703.4 125.1h0M295.8 813.9h0M321.8 811.1h0M549.6 770.3h0M176.5 557.2h0M1007.3 720h0M458.2 561.2h0M710.6 444.5h0M491.3 593h0M981.2 638.6h0M721.9 193.7h0M461.4 843.7h0M719.7 465.5h0M1017.9 741.2h0M368.6 833.6h0M993.9 763.2h0M924 729.8h0M405.4 788.7h0M725.7 190.3h0M222.4 512.3h0M430.2 556.9h0M494.9 586.8h0M472.4 565.4h0M398.7 810.6h0M639.1 925.9h0M1012.2 759.9h0M1003.9 640.5h0M384.3 852.8h0M620.1 696.2h0M685 142.7h0M976.3 754.4h0M375.9 756.4h0M733.8 590.2h0M713.9 843h0M973.9 718.7h0M441.7 829.4h0M638.1 676.2h0M492.1 862.5h0M484.1 469.2h0M692 165h0M184.1 509.3h0M1051.7 648.6h0M250.1 573.4h0M309.9 827.3h0M966.4 661.1h0M363.3 731.3h0M695.7 127.7h0M1011.2 655.8h0M971.5 780.8h0M528.1 977.1h0M735.5 467.4h0M616.9 394.3h0M572.9 778.3h0M329.4 864.6h0M471.9 583.4h0M1073.1 688.3h0M987.1 720h0M357.5 850.3h0M760 276h0M730.6 184.2h0M677.4 124.3h0M364.7 758.1h0M403.1 388.8h0M972 769.9h0M302.4 799h0M434.6 564.3h0M963 780.5h0M1057.3 732.1h0M516.4 449.3h0M228.2 573h0M678.3 701.7h0M675.3 443.4h0M696.3 183.3h0M434.9 550.6h0M816.5 316.1h0M223.9 518.5h0M714.2 185.6h0M1034.5 648.9h0M347.5 800.5h0M1045 641.4h0M192.2 561.6h0M700.8 120.8h0M946.9 763.2h0M722.7 437.7h0M644.5 704.3h0"/>
<path stroke="#7d52f4" d="M620 405.3h0M605.9 379.8h0M1056.9 694.6h0M571.9 216.3h0M1025.1 762.5h0M436.7 428.3h0M918.4 719.8h0M978.8 720.8h0M615.7 433.8h0M990.9 679.7h0M173.2 516.5h0M756.3 196.8h0M574 218.7h0M499.5 346h0M527.9 555.9h0M493.7 564.5h0M736 153.6h0M1006 736.9h0M623.9 668.7h0M196.2 507h0M709.6 148.5h0M203.1 536.6h0M457.4 412.1h0M655.1 467.4h0M457 578.8h0M224.1 526.4h0M639.4 409.1h0M675.6 148.4h0M1049.3 733.9h0M610.3 408.5h0M578.4 248.4h0M646.2 923.1h0M175.4 551.1h0M672.4 119.4h0M949.2 714h0M754.8 599.5h0M1074.5 648.3h0M1039 701.1h0M967.8 689h0M786 256h0M171.2 554.1h0M933.3 760.9h0M777.9 600.3h0M1017.4 738.5h0M1061.3 692h0M947.7 784.9h0M465.5 846.5h0M177.3 541.3h0M1071 715.2h0M518.4 547.8h0"/>
<path stroke="#a683e9" d="M344.4 844.1h0M932.5 772.5h0M390.1 800.5h0M981.2 706.8h0M945.7 748.6h0M312 812.4h0M396.6 398.3h0M594 742h0M685.4 150.7h0M337.6 722.2h0M317.7 811.8h0M939.4 782.3h0M210.7 552.7h0M214 505.2h0M337.3 835.2h0M321.5 824.5h0M1009.2 766.9h0M330.8 859.3h0M1021.3 732.5h0M302.4 809.5h0M1009.3 688.1h0M532.6 988.8h0M732.9 138.3h0M204.2 531.1h0M386.5 804.4h0M997.1 760.5h0M491.9 867.8h0M748 199.4h0M334.7 792.5h0M967.8 770.5h0M602.2 461.2h0M194.6 547.9h0M1066.6 731.6h0M736.8 861.1h0M452.9 562.4h0M532 1008.2h0M493.5 462.5h0M340.5 754.6h0M378.5 825.5h0M705.9 429.9h0M375.2 794.8h0M362.9 824.4h0M475.7 850.5h0M1040.2 711.8h0M620 687.5h0M326.3 836.9h0M314.1 798.5h0M680.1 240.5h0M508.9 886.4h0M535.1 1003.3h0M372.9 849.5h0M646 901.8h0M387.4 829.4h0M328.9 778.4h0M382 843.7h0M1062.4 673.6h0M1052.7 736h0M724 844.9h0M200.9 526.7h0M918.3 727h0M496.6 574.5h0M172.2 531h0M464.3 850.9h0M337 788.6h0M437.7 829.9h0M358.2 803.5h0M721.2 938.8h0M536.9 1000h0M621.6 404h0M632 873.2h0M738.7 854h0M385.3 823.4h0M380.1 786.4h0M1066.9 726.5h0M1026.4 693.1h0M1034.8 634h0M464.2 598.5h0M380.4 811.7h0M723.7 832.5h0M965.3 660h0M193.3 543.8h0M1036.1 748.5h0M338.6 818.5h0M537.3 1004.4h0M946.2 772.6h0M562.1 234.3h0M816 282h0M767.4 219.3h0M192.3 546.9h0M305.8 840.5h0"/>
<path stroke="#bfabdf" d="M1075.1 652h0M362.6 819.8h0M1067.7 730.2h0M981.1 736.5h0M529.9 977h0M551.7 244.1h0M492.1 883.2h0M491.1 865.7h0M714.4 836.3h0M747.7 591.1h0"/>
<path stroke="#b69be3" d="M388.4 822.4h0M346.6 808.6h0M324.6 736h0M383.2 821.6h0M334.6 734.7h0M321.6 841h0M1031.5 681.2h0M375.5 800h0M324.4 787.2h0M380.5 776.6h0M541.5 992.6h0M957.6 768.4h0M331.3 785.5h0M741.4 179.3h0M340.8 772.5h0M355.9 805.9h0M399.3 806.3h0M361.5 812.6h0M1006.7 628h0M1042.6 680.8h0M356.8 721.7h0M425.7 829.2h0M301.9 828.6h0M328.8 838h0M339.3 846.3h0"/>
<path stroke="#c7bbda" d="M559.7 238.8h0M401.8 815.9h0M222.6 553.9h0M337.2 729h0M340 852.4h0"/>
<path stroke="#936bef" d="M517.5 541.5h0M1028.5 740h0M734.9 147.9h0M689.9 157.4h0M155.8 538h0M574.8 226.8h0M800 571h0M767.9 213.5h0M402.9 404.4h0M642.4 406.9h0M973 778.8h0M1068 681.4h0M400.1 405.1h0M345.7 779.9h0M614.5 413h0M1006.1 674h0M1022 669.9h0M178.1 521.2h0M614.1 231.7h0M608.3 662.8h0M402 386.8h0M399.1 418.7h0M1053.5 681h0M830.5 289.4h0M169 562.5h0M476.6 857.8h0M825 228h0M967.3 782.3h0M511.2 873.8h0M1065.4 710.1h0M741.2 598.4h0M247 572.4h0M398.8 381.5h0M1071.9 706.2h0M624.9 673.8h0M575.7 768.2h0M972.8 695h0M499.6 588.1h0M765.3 209.1h0M589.2 225.3h0M1008.5 761.9h0M679.6 244.3h0M587.5 752.5h0M999 663.5h0M775.7 601h0M667.7 451.9h0M678.1 244.9h0M619.6 666.7h0M381.7 783.4h0M591 770.4h0M677.1 691.8h0M550 773.1h0M692.5 448.8h0M378.8 854.6h0M573.7 779.4h0M481.7 585.6h0M1077.6 716.6h0M733.4 444.5h0M348 764.3h0M1059.5 708.6h0M942.9 720.9h0M946.6 716h0M790.1 304.1h0M995.3 636.8h0M548.2 229.7h0M764.4 203.2h0M708.5 471.8h0M740.1 941.9h0M1049.1 681h0M498.1 557.1h0M344 777.9h0M978.9 722.3h0M434.4 551.9h0M456.6 566.1h0M610.5 424.1h0M693.4 167.1h0M632 878.4h0M739.2 150.1h0M1001.9 657.4h0M478 441h0M555.2 778.8h0M238.1 573.7h0M951.1 727h0M193.7 549.4h0M934.2 716.4h0M342.1 784.1h0M688.9 458.6h0M731 940.2h0M200 502h0M211.8 519.5h0M210.8 559.8h0M216 557.9h0M1002.8 741.5h0M726.2 230.6h0M702.5 448.7h0M407.7 391.8h0M973.9 674.5h0M229.7 509.6h0M550.4 233.4h0M1000 742.1h0M1039.1 628.8h0M698.8 452.2h0M570.8 443.3h0M746.4 143.9h0M1051 730.9h0M234.4 520.5h0M816.1 288.5h0M1024 696.6h0M565.1 218.2h0M414.9 826.7h0"/>
<path stroke="#d3d3d3" d="M391.5 803.5h0M927.9 542.1h0M470.5 852h0M356.3 749.2h0M709.9 856.3h0M327.3 830.4h0"/>
<path stroke="#a07beb" d="M968.1 683.1h0M304.6 840.9h0M925.6 718.3h0M926.6 747.5h0M484.6 875.2h0M386.3 835.4h0M365.6 851.1h0M337.9 776.3h0M987.1 753.3h0M494.4 866.8h0M405.1 820h0M758.3 208h0M447.7 413.5h0M466.5 860.3h0M1031.3 660.6h0M603.2 389.5h0M397.8 816.9h0M166.8 552h0M980.5 661.2h0M329.9 808.9h0M482.4 851.7h0M999.6 722.8h0M725 236h0M366.6 758.1h0M1063 697.9h0M687.5 448.8h0M316.5 810.7h0M1053.2 653h0M395 847h0M945.4 706.7h0M622.6 694.7h0M494 565.2h0M600.1 460h0M598.2 433h0M706.2 129.7h0M641 463h0M750.4 591.4h0M587.5 232.1h0M949.7 782.6h0M376.5 750.8h0M1055.4 708.7h0M395.6 843.3h0M986.4 745h0M686.3 146.8h0M1080.3 671.4h0M977.2 702.7h0M398.4 405h0M613.5 424.4h0M658.4 465.2h0M954.8 716.7h0M680.7 153.5h0M1028.7 728.6h0M680.3 120.4h0M365.5 841.8h0M510 511h0M228.4 510.1h0M1016.7 680.2h0M360.8 784.6h0M672.7 157.6h0M551.7 213.3h0M368.5 852.4h0M744 161.4h0M377.4 785.7h0M636.1 882.7h0M300 806.6h0M603.6 464h0M538.8 997.8h0M933.3 785h0M719.5 855h0M414.7 804.7h0M519.9 542h0M683.2 434.3h0M613.9 662.5h0M181.9 564.4h0M636.4 463.7h0M616.4 418.6h0M176 553.9h0M976.9 756.8h0M397.2 389.4h0M598.7 403.9h0M192 569.4h0M1063.8 652.6h0M416.5 440.2h0M737.2 183.3h0M653.3 685.1h0M342.3 782.9h0M696.8 440.6h0M368.2 744h0M327.5 725.8h0M739.2 160.8h0M375.1 768.9h0M338.1 861h0M721.6 175.2h0M397.8 407.1h0M485.3 562.9h0M443 584h0"/>
<path stroke="#ab8be7" d="M400.9 788.8h0M448.1 571h0M580.2 227.7h0M321.6 832.4h0M343.3 853h0M351.5 783h0M512.8 883.9h0M1034.2 722.4h0M341 764.7h0M343.5 783.6h0M494.7 884.3h0M503.7 867.9h0M718.9 845.6h0M460.7 567.7h0M1011.7 742.4h0M1044.2 725.7h0M626.6 409.3h0M1049.6 638.4h0M327.4 783.3h0M374.6 850.1h0M503.6 874.1h0M351.2 802.2h0M197.6 544.7h0M329.5 747.8h0M345.6 815.2h0M1043.6 715.5h0M330.2 805.5h0M538.7 1007.5h0M306.9 816.7h0M598.4 389.4h0M394.1 820.5h0M372 776h0M345.3 830.3h0M402.7 806.7h0M672.5 429.2h0M994.6 761.9h0M362.6 765.2h0M612.1 672.6h0M614.2 417h0M746.9 168.7h0M699.3 126.6h0M1001.9 678h0M1078.6 698h0M736.6 465.4h0M374.2 799.2h0M396.8 412.5h0M623.3 406.3h0M152.9 548.4h0M305.9 812.3h0M721.3 856h0M953.1 732.4h0M968.8 723.7h0M319.3 840.4h0M540.9 1010.3h0M317.4 846.7h0M327.7 843.1h0M410.8 798.1h0M346.4 808.7h0M992.8 772.8h0M490 503h0M831.5 242.1h0M1005.7 706.6h0M335.5 734.6h0M376.5 851.2h0"/>
<path stroke="#855bf2" d="M677.6 137.9h0M1033.7 733.4h0M1003.6 710.8h0M1026.4 758.8h0M846.1 289.2h0M238.7 571.6h0M1080.6 672.3h0M508.2 567h0M397.1 787.9h0M205.6 568.3h0M432.5 447.2h0M1020.5 714.6h0M225.3 547.3h0M205.7 509.6h0M1035.8 719.4h0M812.3 302.1h0M615.1 386.3h0M619.4 440.6h0M663.1 422.6h0M602.9 408.4h0M729.1 448.2h0M507.7 569.7h0M563 225.1h0M209.7 529.7h0M932.3 754.2h0M993.4 712.3h0M1069.6 648.4h0M931.1 717.3h0M971 757.4h0M813.3 278.5h0M629.1 411.8h0M519.4 569.9h0M808 209.3h0M721 180.4h0M1039.3 635.7h0M618.7 414h0M761 552.5h0M559.1 778.1h0M724.9 134.1h0M620.6 431.6h0M1054.7 705h0M206.7 503.2h0M503.8 562.9h0M746.2 238h0M626 398.3h0M645.1 896.7h0M1047.5 707.5h0M622.5 413.3h0M523.1 459.3h0M483 457.2h0M1068.1 657.7h0M637.8 666.6h0M788.8 588.3h0M772.9 594.1h0M1030.8 668.1h0M553.1 220h0M210.1 564.5h0M298.5 851.9h0M608.1 410.6h0M434.7 578.6h0M478.2 562.1h0M155.5 538.1h0M1010.1 721.9h0M572.7 780.7h0M934.8 743.7h0M407.6 436.1h0M361 828.2h0M684.9 435.4h0M695.2 167h0M958 746.6h0M932.2 782.3h0M361.2 744.5h0M650.1 913.6h0M1009.9 656.4h0M1075.8 683.7h0M640.2 921.3h0M998.9 658.9h0M621.1 699.3h0M808 213h0M167.5 535.5h0M399.5 424.2h0M735.8 194.3h0M1000.4 649.4h0M695.4 433.3h0M205.6 565.4h0M219.3 514.9h0M442.8 562.8h0"/>
<path stroke="#cfcbd5" d="M647.2 418.4h0M304.1 837.7h0M568.6 225h0M552.3 250.9h0M1006.6 712.1h0M374.4 829.6h0M334.8 742.7h0"/>
<path stroke="#744af5" d="M183.1 522.3h0M482.1 592.3h0M857.3 287.7h0M182.4 541.4h0M620.3 413.5h0M465.6 570.1h0M610 404.4h0M1052.5 689.6h0M719.2 119h0M475.4 574.7h0M802.5 303.9h0M979.2 771.5h0M696.2 127.4h0M165.9 532.8h0M481.5 596.2h0M622.2 849.8h0M727.7 467.6h0M921.4 731.8h0M1006.8 704.9h0M700 240h0M452 589.4h0M669.8 695h0M739.5 189.5h0M1063.1 684.2h0M247.6 498.2h0M184.6 522.6h0M703.8 182.7h0M1019.1 722.2h0M735 941h0M1079.3 702h0M558.6 763.6h0M996.6 653.4h0M495.7 591.3h0M1051.8 713.8h0M723.7 137.9h0M403 423.8h0M993.5 774.6h0M193.2 561.6h0M707.9 164.5h0M505.6 567.2h0M427.3 542.2h0M943.9 759.6h0M718.7 173.2h0M434.3 539.9h0M1025 716.6h0"/>
<path stroke="#a683e9" d="M727.7 122.6h0M580.6 245.4h0M587.3 762h0M938.1 723.9h0M435.4 830.2h0M997.7 768h0M520.2 454.2h0M685.9 126.8h0M643.9 902.9h0M961.3 763.7h0M720.3 443.7h0M438.5 841.3h0M1030.5 706.9h0M338.2 719h0M557.4 233.3h0M982.4 754.7h0M350.6 840.7h0M334.4 742.6h0M153.4 542h0M694.2 178.6h0M523.8 411h0M481 847.7h0M925.9 772.6h0M353.6 830.6h0M586.7 475h0M565.1 244.3h0M357 745h0M297 822.4h0M1007.8 722.7h0M687.9 156.2h0M360.9 798.1h0M429.3 565.5h0M623.3 428.3h0M317.6 858.8h0M297.4 823.7h0M708 461.3h0M337.7 783.3h0M822.6 225.3h0M619.2 400.2h0M822.3 278.3h0M402.2 398.9h0M966.9 779.6h0M645.7 418.9h0M1007.6 695.3h0M304.3 803.7h0M682.4 453.1h0M999.4 730.1h0M394.7 831.8h0M1035.1 727.6h0M369.4 831.6h0M621.2 674.8h0M742.4 718.4h0M932.8 765.4h0M393.8 840.9h0M434.3 822.6h0M381 828.9h0M226.9 565.5h0M384.4 789.1h0M312.5 812.4h0M705 443.4h0M389.9 789.6h0M349.3 816h0M968.1 754.5h0M666.5 423.2h0M470.1 856.8h0M737.4 187.4h0M720.6 186.8h0M1020.9 759.2h0M409.9 435.3h0M382.9 786.2h0M379.5 813.4h0M415 801.4h0M978.3 676.3h0M173.4 536.4h0M1004.2 764.8h0M687.5 430.3h0M682.2 153.1h0"/>
<path stroke="#9a73ed" d="M662.3 462.3h0M719.4 581.1h0M1027.9 726.8h0M224.1 573.9h0M384.9 407.4h0M168.5 531.9h0M1051.2 714.8h0M371.5 738.7h0M318.1 801.9h0M664.8 430.1h0M226.7 567h0M367.3 761.9h0M769.3 226h0M211.4 512h0M988.1 741h0M597.8 419.6h0M400.9 848.1h0M1043.8 723h0M999.3 749.1h0M770.1 221.6h0M946.9 755.1h0M614.5 426.9h0M696.9 437.2h0M644.7 899h0M528.9 540.4h0M186.9 556.3h0M421.6 435.4h0M712.8 145.9h0M617.8 703.3h0M437.2 394.6h0M446.3 852.1h0M600.8 679.3h0M612 405h0M623.1 858.1h0M730 945h0M650.9 450h0M737.2 188.7h0M736.2 148.1h0M452.8 839.8h0M725.2 143.9h0M526.4 529h0M607.5 403h0M991 708h0M970.2 718.5h0M208.5 505.7h0M526.2 972.5h0M1021.1 773.1h0M801.3 279.3h0M605.3 685.1h0M743 154.5h0M623.5 860.4h0M937.4 752.9h0M959.5 721.6h0M452.6 848h0M446.2 445.3h0M734.3 467.1h0M682.8 137.2h0M649.7 688.8h0M392.9 784.3h0M977.4 735.1h0M677.1 436.4h0M763.3 550.2h0M630.1 671.7h0M500.2 555.4h0M562.5 245.4h0M351.7 815.8h0M303 796.8h0M323.3 763.3h0M199.9 542.8h0M473.3 862.1h0M736.5 180.1h0M326.3 754.7h0M235.3 544.8h0M586 246.9h0M362.7 745.8h0M340 787.6h0M627.8 699.9h0M213.2 519.6h0M358.3 746.7h0M979.3 672.3h0M314.4 843.2h0M689 725.1h0M969.1 724.6h0M1035.2 676.3h0M764.6 214.6h0M948.3 756.7h0M742.9 197.3h0M491.1 555h0M663.5 674.3h0M310.1 840h0M698.1 172.3h0M487.2 868.9h0M768.3 213.6h0M351.2 772.9h0M709.9 439.9h0M694.9 135.8h0M210.5 570.6h0M660.9 427.9h0M938.4 754.8h0M1054.4 699.3h0M630.6 680.3h0M662 455.5h0M996 656.6h0M654.8 701.1h0M997.6 692.4h0M624.7 409.1h0M939.6 766.3h0M518.5 454.5h0M1009.3 684h0M560.2 226.4h0M609.2 417.4h0M474 464.3h0M395.2 838h0M634.2 691h0M736.6 938.4h0M1042.5 737.5h0M352.8 805h0M979.8 745.2h0M562.9 225.5h0"/>
<path stroke="#baa3e1" d="M468.6 449.4h0M366.8 794.8h0M724.1 848.9h0M718.2 848.6h0M370.7 803.9h0M1017.4 720.7h0M719.3 834h0M325.4 765.2h0M329.7 816.1h0M974.8 706.3h0M1024.7 676.3h0M584 456.7h0M371.1 747h0M608.4 457.9h0M304.5 828.9h0"/>
<path stroke="#8c63f0" d="M1032 700.8h0M729.4 128.6h0M593.1 231.5h0M635.9 701h0M230.2 540.7h0M236.1 574.9h0M956.5 783.7h0M609.8 645.8h0M474.5 563.2h0M449.7 445.9h0M794 594.6h0M748.9 591.9h0M196.2 512.8h0M174 540.3h0M779.9 601.3h0M722.6 128.3h0M762.7 215.9h0M780.9 585.6h0M1072.1 667.1h0M710.1 177.9h0M496.7 366.5h0M727.1 943.4h0M705.6 157h0M525.9 534.4h0M1040.1 651.8h0M503.3 559.3h0M753.4 590h0M554.1 221.3h0M166.5 531.6h0M1047.8 697.2h0M945.4 761.8h0M185.1 516h0M770.4 575.6h0M833.7 275h0M820.5 310.9h0M585.3 767.9h0M842.6 218.1h0M189.5 536.7h0M711.5 448.2h0M1077 653.3h0M334.5 765.3h0M602.5 412.5h0M555.1 775h0M696.7 440h0M984.8 681.6h0M763.6 603.5h0M697.3 443.1h0M995.4 633h0M477.2 577.7h0M1056.8 678.3h0M402.7 429.9h0M1009 684.5h0M702.5 449.6h0M1023.8 772h0M603.5 428.4h0M604.8 461.8h0M686.3 707.7h0M987.1 755.8h0M1046.4 738.2h0M931 728.9h0M1012 754.1h0M687.5 129.6h0M715 157.8h0M737.7 144.1h0M218.2 532.6h0M733 530h0M407.7 423.8h0M624.5 419.5h0M988.3 718.2h0M1035.3 719.7h0M400.8 415.6h0M963.5 668h0M480.2 851.8h0M228.5 538.7h0M829.3 222h0M397.4 427.2h0M198.8 542.4h0M485.8 875.4h0M935.4 772.1h0M954.2 739.2h0M197.5 562.3h0M966.9 737.6h0M704.3 449.3h0M577.2 233.4h0M502 555.5h0M487.9 573.6h0M566.6 234.7h0M700.4 181.3h0M530 975.1h0M159.6 554.6h0M625.5 409.8h0M511.6 577h0M402.4 384h0M478 452.7h0M703.8 114.4h0M931.3 776.3h0M605.7 384.5h0M769.4 573h0M731.1 196h0M574.1 219.4h0M515.7 567.5h0M232.7 533.8h0M1001.9 649.4h0"/>
<path stroke="#532efa" d="M759.9 535.7h0M970.7 710h0M547.8 241.3h0M1072.3 664.6h0M990.6 774.4h0M574 226h0M513.7 564.1h0M583 472h0M193.8 531.2h0M436.8 539h0M817.9 273.8h0M625.4 660.3h0M673.8 128.7h0M1022.7 634.8h0M816 231.3h0M576.6 243.5h0M850.5 284.7h0"/>
<path stroke="#cbc3d8" d="M421.7 434.2h0M720.5 454.5h0M849.3 291.7h0M568.9 243.3h0M613.1 651.3h0"/>
<path stroke="#c3b3dc" d="M582.6 779.9h0M1031.5 751.3h0M644.6 690.5h0M329.4 829.8h0M407.9 431.6h0"/>
<path stroke="#6038f9" d="M1004.4 740.6h0M640.8 699.6h0M729.2 592.2h0M399.3 428.9h0M987.2 676.2h0M761.3 588.5h0M634.9 688.2h0M605.8 409.1h0M1009.1 750h0M603.4 379.3h0M1042.5 701.8h0M764.5 597.5h0M739 589.8h0M939.9 779.3h0M483.3 591.5h0"/>
<path stroke="#7d52f4" d="M981.7 758.1h0M666.9 452.2h0M533.8 446.5h0M171.1 561.9h0M218.7 536.7h0M474.6 575.1h0M1059.7 723.5h0M188.5 525.7h0M168.7 560.9h0M424.4 435.2h0M497.9 564.2h0M429.7 822.9h0M614.3 419.2h0M978.1 688.9h0M989.4 746h0M696.5 438.6h0M754.4 170h0M1033.1 733.6h0M385.8 402.6h0M618 842h0M731.2 944.4h0M947.9 756.9h0M636.3 880.2h0M1007.9 634.2h0M972.2 771.3h0M1003.7 739.2h0M744.1 206.2h0M623.1 424.6h0M490.4 463.4h0M583.6 779.4h0M206.2 546.7h0M758.7 272.7h0M486.9 570h0M820 290h0M556.5 779.7h0M517.1 565.3h0M475.1 595.5h0M1028.4 721.6h0M644.9 904.6h0M204.3 543.6h0M618 679h0M917.5 717.6h0M960.5 754.1h0M958.6 677.9h0M477.9 569.2h0M479.9 582.6h0M980 758.7h0M519.8 457.6h0M750.3 592.6h0M927.3 721.2h0M717.9 186.1h0M406.1 387.1h0M522.5 536.8h0M631 690.7h0M940.2 708.9h0M433.2 575.5h0M783.2 600.9h0M644.9 699.6h0M216.1 520.8h0M613.3 402.2h0M1019.5 729.2h0M751.8 534.3h0M504.8 559.6h0M762.2 603.7h0M153.2 551.7h0M178.4 518.9h0M641.3 405.4h0M677.9 141.8h0M983.1 750.4h0M182.1 570.4h0M405.5 406.3h0M1011.1 692.6h0M448.3 591.2h0M653.8 664.4h0M724.1 166.3h0M697.3 156.6h0M180.6 521.6h0M643 893.2h0"/>
<path stroke="#6b41f7" d="M766.9 572.7h0M609.4 386.6h0M615.6 647.5h0M834.6 279.2h0M812 292h0M953 688.3h0M754.6 198.6h0M572.6 220.3h0M175.2 565.8h0M690.3 142.1h0M415.1 442.8h0M688.3 451.7h0M727.6 199.5h0M1051.1 705.4h0M939.6 777.3h0M960.7 730.6h0M1000.4 766.6h0M629.7 667.6h0M596.7 399.7h0M408.2 394.4h0M612 391.4h0M634.7 922h0M731.6 586.8h0M516.7 394.2h0M1056.2 682h0M465.1 578.7h0M603.8 230.6h0M559.1 213.6h0M622.3 648.8h0M407.5 440.8h0"/>
<path stroke="#2f15fd" d="M498.8 496.2h0"/>
<path stroke="#b193e5" d="M688.5 138.4h0M300.6 828h0M316.7 794h0M327.2 863.1h0M386 838.9h0M376.7 821.7h0M740.9 458.5h0M980.3 751.6h0M326.4 849h0M390.3 809h0M570 498.3h0M342.3 786.2h0M326.8 825.8h0M393.1 838.1h0M374.3 827.1h0M378 803.5h0M379.9 821.6h0M964.7 724.5h0M298.3 838.3h0M367.1 814.3h0M778.8 593.6h0M440.4 834.1h0M475.4 854.9h0M382.7 409.2h0M176 519.8h0M375.7 837.5h0M994 717.1h0M216.9 507.8h0M341.6 724.1h0M317.9 791.9h0M364.7 810.3h0M414.3 804.2h0M698 168.5h0M368 837h0M392.3 803.4h0M468 843.8h0M374.9 804.9h0M607.5 685.2h0M376.2 828.3h0M354.4 855h0M343.9 819.4h0M719.4 447.3h0M353.8 736.8h0M365.7 793.1h0M915.4 722.5h0M675.9 153.1h0M738.6 176.7h0"/>
<path stroke="#d3d3d3" d="M720.4 842.4h0M1017 687.8h0M613.3 665.5h0M755.2 546.7h0M337.1 720.4h0M913.7 571h0M301.4 850.3h0"/>
<path stroke="#ab8be7" d="M681 123.1h0M357.4 856.8h0M317.4 800.7h0M349.5 793h0M976.2 702.1h0M738.4 461.3h0M392.9 808.1h0M695.6 125.7h0M363.6 856.3h0M1021.2 769.8h0M944.2 712.5h0M972.9 716.8h0M1021.6 690.1h0M412.3 824.9h0M369.6 779.3h0M624 910h0M297.8 846.1h0M481 855.9h0M362.5 826.4h0M483.9 589.1h0M326 840.8h0M649.6 667.9h0M189 555h0M669.7 247.8h0M358.9 768.1h0M1062.5 662.6h0M502.2 870.5h0M251.4 506h0M947 766.4h0M400.1 848.7h0M377.6 848.3h0M738.9 176.6h0M392.4 811.1h0M643.8 468.7h0M1040.3 731.7h0M602.2 384.2h0M1075.3 665.3h0M762 220h0M305.1 846h0M370.6 780.9h0M352.1 859.3h0M343.2 782.7h0M328 848h0M1063.7 658h0M331.2 811.6h0M751.4 206.2h0M413 388.1h0M332 813h0M371.5 826.1h0M475.5 848.9h0M163.3 543.7h0M707.3 173.2h0M716 842.1h0M655.7 464.4h0M647.9 917.5h0M531.7 976.7h0M675.7 155.7h0M385 799.7h0M346.4 718.5h0M346 830.7h0M360.3 807.2h0M397.9 769.5h0M486 469.4h0M939.8 720.6h0M353.6 848.1h0M698.9 430.9h0M947.4 702.7h0M689.1 710.9h0M985.5 639.3h0M550 769.8h0M1013.2 684.3h0M415.9 391.2h0M533.1 976.7h0M462.3 864.3h0M788.5 205.6h0M341.7 767.6h0"/>
<path stroke="#c3b3dc" d="M430.8 440.7h0M518 523h0M344.7 842h0M609.2 387.5h0M365 809.4h0M408.6 820.9h0M386.1 787.7h0M436 578.4h0M470.8 844.9h0M491.3 586.4h0M342.8 731.2h0M375.9 816.2h0M742.7 855.8h0M332.6 782.5h0"/>
<path stroke="#cfcbd5" d="M943.5 718.5h0M820.6 288.2h0M400.7 817.6h0M728.6 846.8h0M300.4 847.7h0M756.3 593h0M581.1 767.8h0M433.9 565.7h0M469.2 863.7h0M326.2 793.1h0"/>
<path stroke="#bfabdf" d="M348.8 815h0M478.1 852.6h0M329.6 772h0M445.3 840.7h0"/>
<path stroke="#cbc3d8" d="M402.9 830.6h0M651.2 695.5h0M614.2 689.8h0M349.5 738.7h0M957.2 701.7h0M393.7 854.8h0M596.4 403.8h0M432.5 832h0M418.3 812.8h0M1063.4 647.7h0M466.9 575.9h0M197.1 523.1h0"/>
<path stroke="#b69be3" d="M716.4 147.2h0M397.5 792.7h0M357.7 825.1h0M298 840.1h0M352 735h0M377.4 801.2h0M331.1 791.4h0M339.4 820.2h0M739.7 842.7h0M652.9 659.5h0M678.8 691.8h0M718.1 834h0M480.8 857.1h0M324.4 794.8h0M765 554.1h0M371.3 785.9h0M300.6 823.3h0M612.1 418.4h0M487 861.6h0M301.7 833.3h0M392.5 783.9h0M363.7 830.1h0M329.2 774h0M496.9 557h0M378 789.7h0M698.5 175.2h0M351.8 840.5h0M311.8 851h0M612.9 393.8h0M367.9 860.3h0M356.3 841.5h0M374.5 825.3h0M305.7 797.5h0M395.2 393.2h0M454.7 836.6h0M210 505.7h0M372.1 848.7h0M408.7 801.7h0"/>
<path stroke="#a07beb" d="M598.5 441.1h0M404.6 823.4h0M962.7 709.4h0M602.8 441h0M164.1 519.1h0M373.8 820.7h0M315.1 840.9h0M350.1 860.5h0M934.6 727.4h0M353.5 826.3h0M405 814.7h0M635.7 414.8h0M196.6 516.4h0M353 778.5h0M947.3 747.4h0M339.3 862.1h0M1082.8 654.8h0M637.3 923.2h0M654 671.3h0M481.5 448.9h0M351.3 834.8h0M596.3 739h0M341.4 863h0M376.3 837.5h0M740.4 843.3h0M1053.9 718.3h0M358.8 839.7h0M717.8 460.1h0M1008.1 683.5h0M920.5 729.1h0M1043.2 677.3h0M612.5 702.8h0M956.4 712.7h0M227.6 506.7h0M368.9 793.9h0M655.7 668.6h0M599.6 392h0M451.8 576.7h0M703.3 134.9h0M947.3 754.1h0M717.1 189.6h0M605.3 687.6h0M652.1 690.6h0M343 807.6h0M733.6 138.6h0M339 723.5h0M1073.8 706.1h0M1013.1 706.6h0M323.6 795h0M716.3 124.3h0M737.8 188.1h0M463.1 855.8h0M581.7 757.9h0M1010.6 693.7h0M1003.7 754.3h0M975.7 695.9h0M1072.6 701.6h0M458.1 596.3h0M685.2 164.2h0M332.1 788.2h0M757.3 594.1h0M512 447h0M602.6 379.8h0M471.2 571.2h0M726.7 157.2h0M650.9 448.1h0M1033.8 707h0M515.7 878.1h0M725.8 457.9h0M326.2 832.6h0M809.7 318h0M335.8 800.1h0M683.1 451.5h0M732.9 841.3h0M980.4 654.7h0M453.4 449h0M519.3 458.1h0M207.6 535.7h0M964.3 693.6h0M409.5 437.1h0M636.8 919.2h0M438.6 835.2h0M321.1 829.6h0M354.4 799h0M354.8 803.9h0M560.6 779.8h0M609.1 651.7h0M374.5 805.2h0M619.6 782.5h0M722.9 143.2h0M950.6 723.1h0M620.3 668.5h0M493.5 461.1h0M459.6 597.2h0M327.3 749.9h0M938.4 744.5h0M361.7 810.5h0M640.1 658h0M991 752.6h0M723 440.8h0M628.6 668.2h0M998.4 756.9h0M1023.3 728.3h0"/>
<path stroke="#a683e9" d="M609.5 414.8h0M445 572.2h0M333.8 740.6h0M1038.6 661.8h0M375.5 834.7h0M489.8 868.2h0M494.5 556.3h0M645.4 703.4h0M1014.4 712.6h0M220.4 563.8h0M463.5 565.7h0M345.4 781.1h0M369.3 855.3h0M1034.1 667.6h0M394.7 846.9h0M601.2 463.7h0M491.8 584.8h0M482.8 584.4h0M380.2 837.2h0M713.1 851.9h0M800 208h0M324.9 773.4h0M301.2 834.1h0M660.7 673.7h0M367.1 750.4h0M1044.3 754h0M749.6 536.7h0M330.1 820.4h0M744.8 150.4h0M339.2 828h0M597.7 234.6h0M434.9 827.5h0M1042.3 732.4h0M401.3 776.8h0M324.5 782.9h0M314.3 792.9h0M754 844.3h0M483.9 566.1h0M363 797.5h0M395.5 794.7h0M320.9 829.9h0M1077.3 707.2h0M723.1 474.6h0M1051.6 729.6h0M737 454.2h0M377 835h0M366.9 857.4h0M645 465.6h0M355 805.3h0M1039.1 639.3h0M702.1 157.6h0M728.9 171.8h0M339.2 752.6h0M664.5 679.9h0M1024.9 687.8h0M507.6 573.7h0M545 438.8h0M428.2 545.4h0M770.5 219.1h0M639.1 679h0M1074 686.2h0M232.7 540.8h0M686.9 151.9h0M358.5 841.2h0M650 458.6h0M183 558.3h0M358.4 788.8h0M941.5 746.6h0M979.1 728.5h0M178.9 553.4h0M569.6 771.5h0M368.4 782.3h0M1057.6 730.4h0M324.1 790.1h0M436.8 556.8h0M946.7 776.3h0M687.8 430.5h0M331.4 781.1h0M438.4 833.4h0M168.7 526.6h0M960.3 693.4h0M329.9 798.5h0M371.6 833.5h0M296.8 831.3h0"/>
<path stroke="#8c63f0" d="M676.6 718.1h0M621 426.7h0M694.9 155.7h0M566.4 246.6h0M490.5 563.5h0M447.8 577.5h0M957.7 706.6h0M353.5 761.5h0M738.8 939.8h0M994 708.5h0M787 587.9h0M606.7 381.9h0M1039.1 699h0M844 290.3h0M1031.9 733.8h0M453.9 843.7h0M950.4 781.6h0M854.5 288.3h0M694.4 134.3h0M1083.6 663.5h0M438.6 446.9h0M494.6 862.4h0M605.8 414.7h0M236 563.6h0M405.5 393.1h0M442.1 584h0M250.2 494.6h0M944.1 742.9h0M322.8 770h0M572.3 777.8h0M979.4 733.9h0M716.3 149.8h0M963.8 774.3h0M599.9 415.2h0M699 928h0M724.3 460h0M1025.9 736.6h0M1040.9 711.2h0M673.6 154.8h0M705 189.4h0M551 247.2h0M648.5 673.7h0M848.7 292.7h0M646.2 915.3h0M946.2 768.3h0M488.8 523h0M766.4 573.3h0M646.3 669.7h0M430.7 543.1h0M737.8 183.1h0M686 730.6h0M697.2 180.7h0M940 708.5h0M683.9 707.8h0M961.8 698.5h0M520.7 559.9h0M995.8 753.6h0M956.8 744.5h0M1074.6 709.7h0M812.7 317.9h0M627 660.4h0M458.6 848.6h0M602.8 230.1h0M590.7 770h0M980.2 728.9h0M829.6 232.7h0M682.7 167.2h0M699.9 174.7h0M968.9 720.2h0M423.1 440.9h0M710.3 142.4h0M407 438.4h0M766.7 223.3h0M1043.6 759.4h0M709.1 135h0M836.2 297.8h0M1059.1 664.5h0M610 407.5h0M243.4 546.6h0M212.9 514.2h0M680.2 155.1h0M583.3 533.3h0M406.5 425.4h0M488.1 583.4h0M675.7 452.8h0M781 580.7h0M221.2 577.4h0M393.9 394.1h0M749 204.4h0M600.3 419.9h0M194.7 517.6h0M597.6 409.7h0M1039.4 728.3h0M620.3 851.5h0M564.8 776.7h0M620.6 414.1h0M637.5 403.7h0"/>
<path stroke="#6038f9" d="M928.7 776.4h0M216.9 523h0M160.1 546.9h0M191 512.9h0M583.9 772.4h0M734.1 160.5h0M941.7 739h0M472.8 468h0M493.5 566.2h0M568.3 236.4h0M624.3 689.5h0M1043.7 654.2h0M770.9 597.1h0M618.6 242.1h0M615.2 403.1h0M548.5 228.4h0M1030.2 692.3h0"/>
<path stroke="#855bf2" d="M695.3 153.4h0M761.8 198.4h0M1043.2 713.9h0M1055.7 641.6h0M694.1 433.6h0M947.8 720.7h0M213.7 513.6h0M630.8 868.2h0M486.7 439.2h0M838 297h0M994.6 747.5h0M619.9 240.9h0M614.1 651.2h0M331.4 743.4h0M988.8 737.4h0M1044.6 666.5h0M336.2 725h0M591.3 238h0M216.6 517h0M429 415h0M292 393.9h0M1009.7 687.9h0M743.9 596.4h0M152.4 552.1h0M762 547.4h0M224.4 527.3h0M436.6 399h0M501 509h0M944.1 781.6h0M499.6 582h0M583.1 220.3h0M189.4 562.8h0M192.8 517.7h0M453.4 593.2h0M1079.6 654.8h0M641.4 697.3h0M1062.6 688.9h0M723.5 472.2h0M531.5 977h0M577.5 462.5h0M622 417.7h0M965.1 758.9h0M408 391.8h0M614.2 237.5h0M528.5 556.2h0M954.7 693.3h0M977.9 726.4h0M702.9 168.9h0M809.5 229.2h0M598.2 385.9h0M615.2 649.1h0M1002.8 687.8h0M1054.9 719.4h0M984.4 663.6h0M674 125.1h0M595.2 397.2h0M665 240.8h0M689.2 139.3h0M668.9 693.1h0M739 195.3h0M939 758.1h0M618.7 405.8h0M1043.8 737.7h0M976.3 755.7h0M683 189.4h0M736.4 154h0M487.7 467h0M622.7 702.1h0M729.7 187.3h0M733 183.9h0M613.1 695.6h0M987.8 695.6h0M941.5 722.6h0M625.4 429.2h0M1028.1 647.6h0M214.1 525.5h0M680.7 165.6h0M619.1 685.6h0M774.8 226h0M1025.1 725.5h0M223.9 514h0M516.7 453.4h0M488.8 468.5h0M520.5 557.1h0"/>
<path stroke="#936bef" d="M179 551.4h0M347.7 721h0M328.9 813.1h0M968.3 764.2h0M412.7 439.6h0M1007.1 741.2h0M229 516.2h0M735.9 470.8h0M760.1 555.8h0M734.8 150.4h0M453.1 591h0M934.1 778.8h0M1026.6 710.5h0M626.4 460.1h0M1070 654.5h0M624.2 672.2h0M730.8 455h0M432.5 423.3h0M675.4 695.5h0M836.7 306h0M766 551.4h0M583.7 220.9h0M370.5 780.5h0M213.9 536.3h0M698.3 183.3h0M593.6 230.7h0M682.8 147.7h0M185.9 509.6h0M613.1 676.3h0M209.6 539.3h0M222.8 525.8h0M920.7 728.8h0M954.1 772.7h0M840.6 278.7h0M702.4 173.4h0M732 176.5h0M709.5 160.6h0M818.2 291.7h0M332.7 823.8h0M628 704.2h0M981.4 654.8h0M942.4 781.2h0M561.3 766.1h0M462.8 585.5h0M466.5 415.8h0M176.3 546.5h0M653.3 656h0M1082.2 693.2h0M731.7 471h0M1021.1 741.8h0M169.9 534.5h0M794.6 585.7h0M560.8 223.6h0M961.8 728.2h0M322.5 845.4h0M210.5 548.1h0M609.3 379.1h0M674.3 442.3h0M590 236.3h0M552.7 236.6h0M685.3 454h0M982.2 712.1h0M987.2 670.7h0M206.2 538.5h0M334.4 744h0M619.7 783h0M737.3 185.4h0M1001.4 714.3h0M714.7 449.7h0M749.6 191.7h0M1004.8 673.6h0M1007.4 741.8h0M622.2 234.4h0M223.5 573h0M1046.2 714.1h0M311.9 817.4h0M1012.3 625.6h0M306.5 853.5h0M644.9 685.5h0M205.7 548.5h0M314.2 853.9h0M974.1 707.1h0M372.5 787.6h0M698.6 466.3h0M603.1 387.8h0M936.8 774.6h0M841.3 287.8h0M562.9 230.1h0M606.5 723h0M994.3 713.1h0M962 766.6h0M235.8 568.4h0M949.9 714.8h0M629.8 420.4h0M1012 701h0M1070.7 684.1h0M1013 663h0M662.3 428.8h0M430.1 558.3h0M655.5 666.7h0M725.7 457h0M689.5 430.5h0M1055.1 670.3h0M607.3 407.2h0M790.9 296.9h0M736.1 461.9h0M1064.4 699.9h0M184.6 516.9h0M692.3 156h0M1075.1 655.3h0"/>
<path stroke="#6b41f7" d="M846.2 291.6h0M776 593.2h0M1020.2 641.4h0M210.3 535.1h0M561.6 222.8h0M641.2 417.3h0M1009.3 637.9h0M481.3 463.5h0M783.6 590.4h0M954.9 705.4h0M1048.4 740.2h0M1013.1 732.8h0M1049.7 646.8h0M947.6 751.3h0M989.6 761.7h0M213.2 515.3h0M1076.6 659.3h0M1060.9 646.9h0M605.3 443.7h0M673.7 442.8h0M559.7 777.8h0M632.5 418.2h0M1023.3 719.1h0M699.8 175.3h0M760.5 589.8h0M1020.1 752.8h0M633.7 415.9h0"/>
<path stroke="#baa3e1" d="M642.8 418.3h0M344.4 822.8h0M1011.6 720.5h0M334.1 858.2h0M619.2 659h0M405.1 831.6h0M390.6 822.8h0M390.4 780.8h0M311.8 840.5h0M626 671.7h0M311 839.2h0M256.5 504.7h0M1034.4 700.5h0M326.2 817.5h0M312.9 824.8h0M359.4 822.8h0M504.1 867.4h0M317.9 854.3h0M536.5 999.7h0M363.7 853.9h0M1056.5 718.2h0M762.5 198.7h0"/>
<path stroke="#b193e5" d="M331.3 836.7h0M315.5 830.3h0M360.2 770.8h0M478.6 847.2h0M1068.6 729.3h0M621.7 785.8h0M1038.4 674.4h0M1061.5 729.3h0M318 776h0M1028.1 682.1h0M362.8 805.6h0M733.4 840.1h0M514.3 873.8h0M376.3 795.3h0M406.8 850.7h0M354 844.6h0M228 528.5h0M319.4 823.3h0M697.2 429h0M707.9 427.9h0M945.7 759.2h0M319.2 799.3h0M775 214h0M940.8 784.4h0M485.6 867.3h0M340 831h0M349.9 830.6h0M297.8 839h0M362.8 779.9h0M380.5 779.8h0M310.8 829.1h0M543.3 1007.3h0M374 808.8h0M818 242.7h0M712.3 118.4h0M331.1 806.5h0M384.8 830.1h0M958.3 774.4h0M518 533.8h0M360.4 855.1h0M372 823.3h0M399.8 773.4h0M645.6 670.8h0M378.9 804.3h0"/>
<path stroke="#532efa" d="M551.4 216.4h0M996.3 736h0M604 393.5h0M624.6 661.1h0M942.1 767.8h0M789.4 581.3h0M620.1 405h0M692.2 730.1h0M652.1 416.5h0M825.8 216.8h0M794.6 590.7h0M184.6 524h0M636.7 650.7h0"/>
<path stroke="#7d52f4" d="M761 558.6h0M595.3 417.2h0M642.7 420h0M632.2 413.5h0M732.6 172.9h0M452.8 570.9h0M692.9 121h0M205 534.3h0M976.5 756.8h0M658.3 697.8h0M1037.1 659.9h0M666 243.7h0M205.8 544.4h0M951.7 759.7h0M401.2 429.6h0M688 158.3h0M612.1 442.4h0M1054.5 731h0M607.1 421.6h0M147.9 550.8h0M399.5 405.8h0M995.4 732h0M228.8 530.1h0M650.6 913.4h0M931.9 768.3h0M804.7 218h0M960.9 668.3h0M483.3 563.5h0M782 586.1h0M211.8 514.1h0M802.5 209.3h0M1026.8 742.6h0M770.1 582.1h0M932.7 717.6h0M833.4 288.7h0M643.8 458.7h0M397.7 385h0M805.7 210.8h0M1058 642h0M601.5 404.3h0M568.9 234.1h0M491.3 572.3h0M488.3 574.5h0M621.2 409.1h0M727.8 156.9h0M1026.6 759.3h0M713.2 452h0M1060.9 668.5h0M559.5 769.3h0M176.4 560.5h0M476 857.8h0M498.8 477.5h0M832.6 233.1h0M226.5 566.9h0M630.7 431.3h0M551.9 223.5h0M1006.5 752.3h0M1010.2 643h0M1014.9 686.5h0M986.9 681.3h0M687.3 245.5h0M990.6 779.2h0M478.3 455.8h0M609.1 677.8h0"/>
<path stroke="#744af5" d="M527.6 448.3h0M176.3 545h0M487 588.6h0M156 541.3h0M979.5 682.9h0M211.2 514.5h0M710.9 150.4h0M612.6 408.7h0M755 607h0M581.8 222.3h0M626.7 683.3h0M1053.4 675.2h0M940.7 716.2h0M1029.1 749.9h0M768.2 596.1h0M972.5 775h0M629.6 445.7h0M185.3 555.3h0M620.2 671.8h0M691.4 727.2h0M732.5 211.9h0M932.8 773.8h0M578 246.1h0M700.3 462.3h0M778.4 594.1h0M516.2 538.5h0M818.7 222h0M638.3 433.5h0M943.9 774.9h0M453.1 574.9h0M738.9 126h0M148.6 551.5h0M553.4 242.1h0M810.9 215.1h0M201.9 554.8h0M633.5 407.8h0M173.2 525h0M408 438.6h0M1044.2 701.5h0M554.5 222.6h0M631.5 412.4h0M594.6 402.8h0M1036.5 721.2h0M691.9 159.7h0M431.5 550.8h0M1037.8 720.2h0M488.8 559.6h0M1008.7 731.7h0M667.1 421.7h0M1053.6 728.4h0M218.8 509.8h0M1018.6 669.4h0"/>
<path stroke="#9a73ed" d="M516.3 559.4h0M806.3 223.4h0M640.2 461.8h0M406.3 395.3h0M691.1 433.1h0M467.6 565.5h0M373.7 856h0M473.7 598.8h0M214.3 509.4h0M747.5 157.8h0M191.9 502.9h0M565.3 781.1h0M842.4 296.2h0M702.7 147.9h0M1031.6 767.2h0M1052.4 749.6h0M998.9 644.3h0M733.3 157.6h0M658.3 428.3h0M800.5 566h0M475.2 847.7h0M447.2 566.7h0M994.4 751h0M476.8 854.9h0M606 393h0M389 797.2h0M320.7 774h0M192.6 539.7h0M961.3 773.8h0M740.1 140.5h0M662.4 683.8h0M316.7 845.4h0M997.9 663.6h0M681.3 152.6h0M534.4 994h0M1057.2 675.2h0M478.7 469.2h0M1064.4 739.5h0M725.8 188.4h0M675.7 688.7h0M1028.2 724.8h0M1033 726.7h0M174.9 557.2h0M814.2 317.5h0M518 880.8h0M921.1 728.2h0M679 248h0M712.5 154.7h0M182.2 536.4h0M515.3 872h0M747.9 200.4h0M321.7 790.5h0M991 736.1h0M298.1 834.2h0M478.7 455.4h0M519.2 449.4h0M299.6 816.1h0M921.7 731.7h0M408.2 392.1h0M406.2 433.9h0M321.1 846.4h0M1026.1 717.9h0M724.7 861h0M725.5 445h0M642.3 900.5h0M923.6 729.7h0M373.4 832.6h0M740.6 188.9h0M728.8 147.5h0M749.7 595.2h0M709.2 130.4h0M466.5 573.9h0M331.7 834.3h0M1019.1 636.6h0M220 557.5h0M307.4 853.3h0M743.3 169.3h0M523.3 549h0M512.8 559.7h0M390.8 847.2h0M607.4 408.4h0"/>
<path stroke="#c7bbda" d="M919.8 708.9h0M204.3 537.2h0M911.9 701.8h0M650.4 444.1h0M651.6 656.5h0M476.3 852.6h0M216.4 553.8h0M374.5 756.8h0"/>
<path stroke="#bfabdf" d="M355.7 818.9h0M383 799.6h0M371.6 786.9h0M458 565.5h0M377.7 819.3h0M404.2 786.2h0M166.8 555.8h0M961.3 779.3h0M350.4 782.5h0M443.3 396.7h0M308.1 836.4h0"/>
<path stroke="#532efa" d="M830 226h0M1004.1 732.4h0M1051.3 741.7h0M714.6 130.6h0M489.4 513h0M699.2 250.8h0M831.3 281.3h0M981.8 726.7h0M585.7 770.6h0M689.9 449.5h0M931.7 709.4h0M192.5 510.3h0M726.3 461.5h0M975.3 782.5h0M192.7 536.7h0M852.5 288.9h0"/>
<path stroke="#cbc3d8" d="M318.8 840.9h0M386.8 809.2h0M560.5 220.5h0M602.2 419h0M443.1 832.4h0M499.4 558.3h0M635.7 413.1h0"/>
<path stroke="#9a73ed" d="M515.4 564.2h0M632.2 408.2h0M820.2 286.3h0M951.5 781.2h0M1032.6 698.2h0M340.4 741.4h0M577.9 236.3h0M451.3 415.1h0M737.7 124.2h0M792 300.7h0M747.1 191.8h0M629 243.2h0M437.6 587h0M756.8 211.5h0M617.5 659.9h0M638.8 886.5h0M967.2 707.8h0M224.3 514.8h0M185.2 553.3h0M351.7 741.3h0M696.9 459.3h0M973.7 716h0M543.5 995.8h0M365.5 857.6h0M767.4 572.4h0M1001.7 697.3h0M162.8 520h0M373.3 744.5h0M640.5 664.9h0M619.7 466.6h0M684.1 423.7h0M1052.2 739.4h0M763 584.6h0M632.2 412.7h0M201.8 503.7h0M572.9 784.3h0M368.6 783.3h0M983.6 741.9h0M990.2 774.8h0M441.1 574.8h0M601.5 675h0M731.2 143.9h0M359.9 757h0M298.2 803.9h0M1051.1 724.7h0M1047.7 692.1h0M1003.7 750.3h0M698.1 157.5h0M1016.3 745.4h0M985.8 707.3h0M635.2 400.6h0M158.9 524.9h0M670.5 983.5h0M1026.7 631.1h0M967.6 739.6h0M237.6 565.6h0M679.9 136.1h0M574.1 768.7h0M644.2 420.7h0M749.6 854h0M425.9 442.6h0M730.9 183.3h0M738.5 844.7h0M926.3 745.3h0M216.3 521.6h0M336.1 734.7h0M646.8 911.5h0M687.2 164h0M348.1 809.8h0M433.5 541h0M229.6 573.7h0M822.3 277.3h0M507.7 871.2h0M768 210.3h0M516.4 879.9h0M346.1 829.3h0M422.8 391.8h0M490 477.5h0M1052.5 680h0M1011.2 746.2h0M187.6 567h0M724.8 845.5h0M988.9 778.7h0M356.7 834.6h0M183.4 561.8h0M570.6 781.9h0M471.1 586.8h0M459.3 849.1h0M956.1 784.1h0M634.7 663h0M184.5 529.1h0M355.1 852.6h0M947.7 745.6h0M635.1 415.2h0M579.7 773.9h0M710.2 179.3h0M603 426.6h0M446.4 586h0M982.6 752.6h0M343.3 815.1h0M528.3 446.7h0M721.8 835.9h0M344.8 800h0M623.1 856.5h0"/>
<path stroke="#744af5" d="M527 533.6h0M693.5 120.6h0M735.1 139.3h0M1066.9 720.7h0M615 844h0M641.6 419.7h0M984.6 731.5h0M955.7 770h0M620.1 848.4h0M207.6 505.4h0M689.5 115h0M564.2 247.2h0M775 572h0M728.6 935.3h0M731.7 188.9h0M701 147.2h0M731 148.6h0M522.2 560.2h0M950 719.4h0M485.9 594.3h0M165.1 543.6h0M670 247h0M408.6 431.8h0M1003.8 666.2h0M561.9 243.6h0M824.6 777.2h0M231.2 569.9h0M1008.3 693.5h0M639.2 413h0M1066.8 714.7h0M554.3 315.8h0M223.3 535h0M440.1 570.5h0M670 687.5h0M983.8 736.3h0M200.5 501.9h0M218.4 553.3h0M163.9 537.9h0M453.4 591.5h0M748.3 596.5h0M456.3 562.6h0M651.8 690h0M1055.6 646.8h0M646.1 923.9h0M691.8 464.7h0"/>
<path stroke="#b69be3" d="M710.3 850.6h0M335.1 828.1h0M756.7 842.9h0M320.8 834.4h0M750.8 855.5h0M326.6 826.1h0M318.1 807.2h0M313.2 801.4h0M765 792h0M1037.2 745h0M468.9 842.9h0M351.3 847.7h0M326.8 742.9h0M363.5 853.4h0M497.4 564.5h0M514.3 876.7h0M1043.1 690h0M561.2 765h0M1002.7 638.1h0M628 667.5h0M655.9 699.9h0M719.3 134h0M377.9 783.5h0M985.6 758.4h0M476.1 562h0M594.7 239.4h0M303 838.9h0M307.6 818.7h0M382.6 841.8h0M947.2 722.4h0M356 783.8h0"/>
<path stroke="#b193e5" d="M355.8 791.8h0M1015.6 680.5h0M508.5 885.6h0M1033.6 628.4h0M331 780.8h0M353.7 802.2h0M790 571h0M1053.3 674.3h0M580.8 447.5h0M690.7 441.9h0M991.6 731.2h0M1081.5 665.6h0M1036.8 629.8h0M321.2 803.1h0M197.1 530.3h0M980.4 741.5h0M345.9 826.9h0M376.6 844.3h0M392.1 829.8h0M391.2 835.5h0M389.4 819.8h0M449.9 837.9h0M323.6 815.3h0M1004.4 760.4h0M1041.4 713.8h0M722.7 174.8h0M376.7 796.1h0M411.2 836.5h0M1064 695h0M680.7 716.8h0M320.5 848.8h0M660.7 700.6h0M331.7 767.6h0M610 553.3h0M366.4 852.3h0M620.6 402.5h0M375.1 818.6h0M704.2 135.8h0M621 384.5h0M363.5 780.4h0M314.7 839.1h0M345.6 745h0M329.4 790.8h0M340.7 779.5h0M456.3 837.9h0M312.1 795.7h0M351.6 755.8h0M316.8 786.3h0M297.2 812.8h0M345.1 780.5h0M373.5 790h0"/>
<path stroke="#8c63f0" d="M688.2 120.5h0M950.9 781h0M1025.7 761.3h0M725.2 451h0M971.5 749.1h0M629.4 406h0M849.1 294.7h0M190.7 515.9h0M1066.2 713.7h0M230.2 522.9h0M999 688.1h0M556.2 234.1h0M608.5 431.5h0M722.5 184.9h0M417.8 443.5h0M614.5 414.7h0M841 292.8h0M462 568.9h0M222.9 570.2h0M920.8 555h0M336.9 863.4h0M408.9 426h0M684.4 128.4h0M940 735.4h0M657.4 692.4h0M1014.9 678.4h0M614 418.1h0M215.4 504.7h0M597.6 420.5h0M725.3 230h0M211.9 552.8h0M738.1 468.3h0M708.1 453.2h0M676.4 142.5h0M193.3 544.4h0M1000.9 758.8h0M415 400h0M830.2 230.2h0M602.6 454.9h0M340.4 754.2h0M216.4 526.2h0M978.1 762.7h0M155.4 535.8h0M212.8 503.2h0M939.9 722.9h0M180.8 540.8h0M653.6 458.9h0M1015.7 734.2h0M827.4 222.4h0M645.5 919.4h0M227.4 538.1h0M565.5 216.3h0M709.5 438.4h0M688 713.9h0M608.6 427.8h0M611.7 413.3h0M1014.8 703.4h0M721.2 122.3h0M996.5 744.8h0M434.9 545.2h0M1027.8 726.6h0M952.1 772.7h0M222.1 552.7h0M1008.3 627.2h0M498.8 485h0M579.8 246.9h0M433 558.5h0M1052.6 637.9h0M746.2 149.2h0M1012.3 663.9h0M964.6 667.8h0M940.2 720h0M725.4 143.2h0M996.3 672.6h0M488.2 451.4h0M659.3 666.1h0M549 433h0M417.4 803.9h0M633.8 649.1h0M181.5 543h0M830 214.4h0M680.9 458.5h0M515.3 873.9h0M1082.3 661.8h0M737.3 175.2h0M721.5 175.8h0M970.5 778.1h0M1031.3 679.2h0M787 210.5h0M848.4 299.6h0M536.9 1009.6h0M658.9 424.9h0M590.3 228.8h0M940.2 728.2h0M557.5 218.1h0M970.7 725.5h0M487.5 462.2h0M684.3 116.7h0M834.3 278.9h0M711.6 462.1h0M177 539h0M621.8 427.5h0M1024.7 720h0M460.8 589.1h0M546.7 245.2h0M1010.6 734.5h0M1040.8 737.2h0"/>
<path stroke="#7d52f4" d="M611.9 230h0M764.4 190h0M830.3 284.7h0M174.5 536.6h0M604.4 434h0M1025 723.9h0M575.8 481.7h0M390.7 397.2h0M404 387.6h0M931 718.6h0M816.5 283.4h0M562.1 773.3h0M573.1 217h0M1004.7 762.7h0M988.5 757.1h0M442.7 566.4h0M738.4 591h0M1025.2 753h0M1008.2 697.4h0M684.8 439.2h0M607.5 410h0M734.9 939h0M622.7 458.2h0M835.1 232.1h0M997.4 631.9h0M643.3 244.2h0M962.7 742.1h0M644.8 409.1h0M594.2 236.8h0M202 557.5h0M749.1 190.6h0M810.7 223.3h0M766 569.3h0M395.9 393.4h0M233.7 535.1h0M1044.7 719.9h0M695.8 225h0M519.9 525.5h0M849 281.2h0M453.7 568.6h0M714 158.2h0M1045.3 746h0M707.8 181.3h0M611.4 415.4h0M746 186.1h0M780.2 595h0M674.4 136.7h0M166.3 562.8h0M987.7 653.8h0M739.2 174.3h0M1044.7 682.5h0M798.7 228.7h0M766 220.5h0M831.3 280.7h0M922 736.9h0M216.5 526.7h0M180 532.3h0M970.2 740.8h0M422.4 442.2h0M642 892.2h0M742.7 205.4h0M764.7 598h0M608.5 438.2h0M960.6 772.2h0M646 919h0M913.3 587.3h0M208 501.5h0"/>
<path stroke="#baa3e1" d="M608.7 407.3h0M314.4 800.2h0M336.9 795.7h0M1010.6 774.9h0M387.7 785.1h0M365.5 855.7h0M721.6 834h0M383.2 791.2h0M363 754.8h0M735.9 155.6h0M462.5 597.2h0M502.2 453h0M731.6 187.2h0"/>
<path stroke="#6b41f7" d="M718.2 186.8h0M995.8 764.1h0M637.8 703.4h0M623 398.3h0M549.7 247h0M179.3 550.3h0M217.3 532.9h0M720.2 938.5h0M972.8 731.5h0M823.6 283.7h0M645.2 456.7h0M488.1 454.4h0M817 232.7h0M229.8 526h0M1025.6 748.1h0M773.7 569.4h0M640.1 925.3h0M707.4 447.8h0M975.1 722.1h0M220.2 551.3h0M965.1 781h0M682.4 114.6h0M573.2 771.4h0M956.9 680.6h0M987.9 772.3h0M718.7 447.7h0M221.8 506.8h0"/>
<path stroke="#ab8be7" d="M339.8 847.8h0M364.8 779.6h0M193.6 532.4h0M300.1 837.1h0M491 469.5h0M414.2 837.6h0M682.5 169h0M736.5 851.6h0M390.8 781.5h0M717.2 436.3h0M376.4 839.2h0M348.8 834.3h0M452.4 841.5h0M397.5 829.4h0M347.5 854.4h0M391.2 854.3h0M435.4 834.9h0M959.9 783.2h0M383 819.5h0M672.8 463.6h0M1011.7 771h0M725.1 851.1h0M675 918.2h0M715.9 835.7h0M597.4 458.6h0M328.9 813.8h0M299.5 824.6h0M946.4 764h0M180.5 528.3h0M439.9 583.2h0M376.5 845.8h0M655.5 661h0M345.3 721.6h0M347.7 835.3h0M353.5 855.4h0M367.5 813.1h0M939.9 762.2h0M395.4 790.7h0M698.4 138.7h0M626.8 673.5h0M663.2 693.9h0M407.8 848.7h0M736.6 151.2h0M953.3 780.6h0M393.5 405.1h0M645.8 669.8h0M501.7 880.8h0M230.2 524.5h0M300.4 849.6h0M511 881.8h0M783.9 584h0M836 222h0M466.7 386.7h0M582.5 246.6h0M356.9 748.2h0M953.3 735.2h0M1001.8 691.5h0M627.1 680.1h0M690.6 136.2h0M319.5 812.1h0M502.4 875.7h0"/>
<path stroke="#855bf2" d="M222.2 528.2h0M965.4 780h0M196.4 534.1h0M1037.8 714.3h0M399.6 400.4h0M689.1 705.6h0M981.9 692.4h0M182 531.1h0M1008.2 750.8h0M226.5 515.5h0M943.7 780.1h0M760 586.8h0M725.9 444.4h0M811 306.2h0M1077.9 702.9h0M926.6 770.8h0M961 739h0M763.2 212h0M817.3 222.1h0M1029.9 739h0M981.6 779.8h0M716.6 469.5h0M396.4 404.9h0M343.4 741.2h0M825.4 231.9h0M1009.6 751.5h0M965.2 678.8h0M228.3 526.2h0M734.8 942.8h0M191.9 528.8h0M1015.2 741h0M1068.9 702.1h0M527.3 533.4h0M324.6 756h0M584.1 766.8h0M1043.7 680.3h0M629.1 655.3h0M248.9 576.5h0M745.3 174.1h0M561.6 236.4h0M1025.1 733.7h0M924.6 728.8h0M544.4 508h0M648.6 696.3h0M655.3 427.6h0M175.6 564h0M690 176.4h0M996.5 776.3h0M213.5 501.9h0M932.2 745.3h0M615.4 696.3h0M774.8 593.3h0M1002 729.7h0M461.2 587.4h0M778.3 595.7h0M240.4 569.7h0M503.4 449.6h0M524.5 529.3h0M688.5 249.4h0M217.6 565.3h0M934.1 736.2h0M183.3 556.7h0M951.6 712.9h0M674.5 142.9h0M1064.3 643.7h0M660.8 419.2h0M586.2 224.3h0M515 576.3h0M1078.4 656.8h0M1034.4 744.8h0M1069.4 719.2h0M362 769.6h0M701.3 162h0M593.8 398.7h0M641.7 694.2h0M831.2 237.3h0M909.6 704.2h0M203.8 553.5h0M687.3 442.2h0M676.6 435h0M979 666.9h0M1020.1 632.9h0M923.3 730.6h0M961.8 700.7h0M402.8 391.5h0M1066 728.3h0"/>
<path stroke="#cfcbd5" d="M711 932h0M1062.2 686.5h0M760.8 202.6h0M675.1 432h0M498.4 569.4h0M466.3 567.3h0M991 728.9h0M316.6 791.7h0"/>
<path stroke="#936bef" d="M651.5 671.1h0M1047 724.6h0M591.6 242.1h0M669 428.8h0M645.5 244.5h0M659.6 420h0M224.3 507.8h0M957.3 765h0M698.5 176.2h0M935.6 780.9h0M336.8 862.9h0M490.7 456.2h0M221.7 523.5h0M189.8 571.6h0M833.6 226.4h0M769.3 218.2h0M1047.8 736.9h0M958 702.5h0M620.6 655.6h0M724.1 148.8h0M1029.9 759h0M641.8 666.7h0M1052.4 725.4h0M1035.5 650.1h0M1002.4 727.8h0M979.2 705.1h0M479.1 570.8h0M426 552.8h0M817.6 286.4h0M306.6 812.9h0M719.6 140.3h0M220.4 569.4h0M791.5 582.1h0M628.1 652h0M728.5 949.7h0M627 677h0M1050.9 709.4h0M1067.1 677.7h0M1010.8 700.5h0M503.3 556.5h0M520.1 550.8h0M231.8 553.8h0M703.6 153.2h0M729.8 134.3h0M417.8 436.5h0M185.1 548h0M219.8 504.5h0M704 126.4h0M608.7 423.2h0M483.3 868.8h0M187.5 545.3h0M1010.2 706.4h0M623.2 681.5h0M676.8 124.8h0M1029.9 731.3h0M184.2 553.8h0M217.9 535.2h0M706.3 458.2h0M728.9 171.8h0M155.1 550.6h0M219.8 517.2h0M954.4 763.8h0M598.3 417h0M948.5 778.1h0M711.3 451.5h0M674 134.7h0M678.3 149.5h0M190.8 519.8h0M470.5 861.1h0M985.7 686h0M996.2 703.1h0M486.8 570.9h0M692.8 432.8h0M717.3 166h0M1017.8 652.5h0M802.2 310.2h0M178 515.9h0M1001.1 778h0M726.6 143.9h0M811.6 315.9h0M1027.8 657.1h0M721.6 124.9h0M993.6 696.5h0M1021.3 707.2h0M372.7 755.4h0M580 767.8h0M416.8 839.5h0M634.5 892h0M953.6 746.6h0M724.1 468.1h0M554.9 765.5h0M633.3 682.8h0M674 442.4h0M787.4 597.2h0M554.4 778.3h0M987 634h0M688.5 438.8h0M513.4 388.1h0M569.8 219.1h0M315.5 788.8h0M732.7 212h0M724.7 186.9h0M728 191.5h0M780.1 589.4h0M724.3 461.5h0M621.8 415.1h0M671.6 446.8h0M467.1 593.4h0M698.4 136h0M998.9 705.7h0M769.3 221.9h0M991.3 693.8h0M977.9 684.8h0M758.3 198.7h0M976.5 733.8h0"/>
<path stroke="#c3b3dc" d="M717.2 129.2h0M392.5 848.4h0M716.2 851.5h0M753.1 853.4h0M401.6 801.4h0M999.8 633.9h0M982.2 678.8h0M687.9 114.1h0"/>
<path stroke="#d3d3d3" d="M423.4 814h0M411.5 806.2h0M625.5 646h0M921.7 550.8h0"/>
<path stroke="#6038f9" d="M436.3 563.4h0M640.6 409.3h0M679.2 121h0M178 535.7h0M153.4 540h0M847.4 288.4h0M744.5 159.5h0M928.7 780h0M1067.2 663.1h0M214.5 540.1h0M1054.3 643.6h0M840 292.4h0M556.3 232.7h0M167.2 536.9h0M829.8 285.2h0M1011.1 727.8h0M199.8 507.5h0"/>
<path stroke="#c7bbda" d="M488.1 878.2h0M402 836.2h0M804.3 223.1h0M194.7 507.5h0M834.4 280h0M714 857.8h0M418.8 435.2h0M1062.9 672.4h0M179.2 555.1h0M395.3 849.1h0M728.4 850.6h0"/>
<path stroke="#a07beb" d="M977.8 778.7h0M713.2 434.7h0M725.9 193.9h0M362.8 843h0M386.6 818h0M743.1 145.2h0M791.2 226.8h0M961.8 702.2h0M688.2 164.5h0M311.9 805.5h0M1023.5 750.8h0M347.7 847.7h0M690 705.1h0M526.2 552.5h0M159.3 536.8h0M395.7 825.4h0M393.6 807.2h0M963.9 673.8h0M1026.8 754.9h0M730 854.3h0M732.9 183.7h0M742.4 162.7h0M678.4 242.1h0M614.9 434.3h0M502.5 516h0M323.5 861.1h0M460.2 560.3h0M606.2 721.7h0M824.6 235.2h0M604.2 435h0M686.7 456h0M735.1 151.6h0M188.2 549.1h0M611.6 682.7h0M339.8 781.6h0M1046.7 637.2h0M997.7 742.6h0M496.1 872.8h0M191.5 519.4h0M630.3 675h0M403.1 407.9h0M1036.2 692.8h0M912.2 711.3h0M162.8 533.3h0M1040 629.8h0M715.3 180.2h0M679.1 443.9h0M205.9 563.4h0M483.7 470.9h0M972.6 777.7h0M391.7 810h0M467.3 564.5h0M1020.8 693h0M1049 649.5h0M647.9 465.5h0M1025 769.7h0M1079.9 652.9h0M1066.6 706.4h0M539.7 998.8h0M211.9 532.1h0M521.7 447.2h0M401.4 819.2h0M615.2 645.1h0M992.6 745h0M209.6 536h0M507 554.5h0M376.5 820.8h0M473.8 449.2h0M614.5 387.4h0M958.4 727.3h0M347.3 771.1h0M355.5 764.8h0M302.7 849.7h0M648.3 672h0M1006.7 752.8h0M964.3 709.9h0M1028.1 635.9h0M518.3 874.3h0M944.5 684.5h0M1055.8 703h0M462.4 564.2h0M994.4 770.5h0M959.7 738.4h0M710.1 443.8h0M393.7 808.8h0M691.9 138h0M358.3 731.3h0M1033.7 657.6h0M802.7 208.7h0M1033.4 769.5h0M645.7 676.6h0M1003.9 670.8h0M1061.4 694.3h0M1005.4 627.4h0M725 939h0M1051.2 739.8h0M640.2 688.3h0M996 699h0M1051.7 690h0M639.5 917h0M374.4 758.2h0M554.6 230.1h0M619.8 650.2h0M929.7 730.5h0M977.7 678.9h0M406 398.8h0M565.8 228.7h0M328.8 755.7h0"/>
<path stroke="#a683e9" d="M367.3 838.8h0M728.4 183.8h0M766.6 205.1h0M370.6 808.1h0M653.3 461.8h0M1079.8 685.4h0M733.9 143.2h0M588.4 220.3h0M361.7 781.5h0M643.5 909.6h0M744.9 197.2h0M685.1 178.4h0M460.7 846h0M381.3 851.8h0M388.4 844.1h0M355.7 743.7h0M1009.7 717.8h0M341.1 727.8h0M382 797.2h0M488.9 461.1h0M619.2 677.3h0M734.8 174.8h0M501 347.5h0M463.8 450.5h0M721.4 443.1h0M724 131.8h0M399 760h0M974.3 767.7h0M614.9 651.9h0M966.5 754.1h0M478.2 868.6h0M956.7 691h0M713.4 186.3h0M639.5 696.4h0M656.6 658.2h0M745.6 856.4h0M306.3 792.3h0M382.7 797.9h0M399.1 796.2h0M361 788.9h0M298.7 824.4h0M360.5 791.3h0M645.6 411.3h0M569.2 768h0M357.8 780.3h0M611.4 403h0M331.2 856.7h0M975.2 703.7h0M304.5 848.4h0M483.8 865.4h0M467.9 851.4h0M346.4 808.8h0M350.5 768.3h0M385.9 731.2h0M350.2 807.3h0M1007.7 720.8h0M941.4 764.8h0M368.9 849.3h0M982.5 695.1h0M395.2 810h0M605.4 405h0M466.1 854.9h0M632.4 877.1h0M1004.4 703.8h0M765 206.9h0M353.9 779.5h0M504 375.2h0M639.6 919.4h0M717.2 465.4h0M912 578.3h0"/>
<path stroke="#a683e9" d="M929.9 745.8h0M299.6 808.8h0M605.5 413.9h0M362.6 736.5h0M403.1 791.1h0M737.1 850.3h0M567.1 215.9h0M435.2 826.9h0M614 403.2h0M503.4 449.2h0M726.1 166.2h0M322.5 751.5h0M676.5 164.5h0M155.4 556h0M648.8 703.9h0M363.4 781.8h0M315.4 839h0M977.7 719.9h0M308.8 800.4h0M370.5 808.2h0M336 832.4h0M328.4 745.5h0M467.9 850.8h0M618.2 425.4h0M682.4 429.7h0M386.8 826.5h0M385.8 822.1h0M807.4 216.8h0M375.1 858.8h0M347 730.2h0M799.2 222.1h0M313.1 830.8h0M1004.2 735.7h0M219.8 518.8h0M914 587.5h0M365.4 855.5h0M618.1 418.9h0M535.3 1003.9h0M385.9 826.9h0M1060.5 674h0M657.8 699.1h0M675.9 142.4h0M492.1 869.6h0M320.4 830.5h0M314.9 849.4h0M590.9 225.2h0M716.6 851.9h0M742 841.5h0M493.5 583.9h0M1067.5 671.2h0M718.1 162.2h0M659.5 676.6h0M379.8 817.7h0M855.6 289.6h0M715.5 430.3h0M711.3 859h0M327.8 731h0M201.5 551.3h0M678.1 702.2h0M177.4 520.7h0M301.4 827.3h0M493.3 860.7h0M640.9 414.9h0M233 563.7h0M998.2 671.9h0M427.9 547.2h0M1019 767.5h0M375.5 770.4h0M493.4 461.3h0"/>
<path stroke="#cbc3d8" d="M397 424.5h0M611.1 649.7h0M354.7 734.6h0M350.1 771.3h0M618 698.4h0M706.2 469.5h0M732.3 589.2h0M711 854.2h0M641.4 705.9h0"/>
<path stroke="#532efa" d="M695.1 442.2h0M675.1 139.6h0M734.7 184.2h0M1051.1 726h0M673.9 249.5h0M744.8 591.8h0M1062 727.6h0M1017.4 727.6h0M1015 697.7h0M997.2 727.2h0M955.5 783.3h0M549.6 224.7h0M458.6 592.6h0M1078.5 687.4h0M576.3 781.1h0M744.8 172.5h0M765.7 585.4h0M796.2 586.7h0M705.2 129.6h0M1061.8 709.9h0M830.2 242.9h0M689.6 446.8h0"/>
<path stroke="#7d52f4" d="M716 133.8h0M404.4 388.2h0M925.4 772.7h0M738.4 197.1h0M655.8 421.6h0M953.5 753.5h0M1065.2 706.4h0M626.5 397h0M984.8 762.5h0M677.1 453.7h0M732.3 451.5h0M180.1 542.5h0M635.3 680.9h0M620.4 409h0M756.8 545.4h0M613.7 390h0M655.8 693.6h0M707.8 431h0M705.4 465.4h0M596.4 385.2h0M1044.3 651.8h0M732.2 188.2h0M648.8 420.3h0M622.9 408.1h0M701 129.8h0M168.5 535.6h0M558.8 230h0M725.2 172.7h0M559.1 237.5h0M603.4 421h0M999.1 693.1h0M234 523.6h0M603.7 406.4h0M692.6 161.9h0M521.2 568.3h0M613 432.1h0M405.4 394h0M466.6 583.6h0M766.6 564.4h0M168.7 518.2h0M197.6 556.8h0M662.3 674.7h0M740.1 194.8h0M609.7 438.1h0M966.3 741.4h0M480.4 860.5h0M453.3 575.9h0M183.7 544.1h0M600.7 417.1h0M829.7 285.8h0M635.3 402.4h0M552.8 227.8h0M603.3 416.9h0M696.8 115.6h0M945.6 745.1h0M941.2 719.5h0M1026.6 770.9h0M198.8 564.1h0M760.4 214.5h0M198.5 516.5h0M798.8 309.3h0M1038.4 707.9h0M962.8 685.5h0M559 241.3h0M463.7 565.9h0M1022.7 647.8h0M588.8 221.8h0M803.3 266h0M1064.1 689.2h0M984.2 744.8h0M1014.9 716.6h0"/>
<path stroke="#a07beb" d="M640.3 706.5h0M1017.5 650.1h0M368 835.4h0M800 270h0M982.4 670.4h0M729.6 122.2h0M221.3 575.9h0M712.8 469.9h0M490 468.8h0M640.7 925.9h0M646.8 459.6h0M995.1 776.2h0M606.9 400.5h0M499 558.9h0M334.3 804.3h0M404.3 785.3h0M655.6 464.2h0M503.3 372.6h0M235.7 542.2h0M724.9 173.5h0M937.9 775.6h0M178.3 527h0M500.6 563.5h0M710.2 186.4h0M321.1 829.3h0M405.6 832.2h0M703.3 245.8h0M732.2 945.7h0M393.9 399.4h0M558 313h0M349.1 819.9h0M694.9 138.6h0M492.8 566.9h0M586.6 775.4h0M996.1 751.6h0M554 235.6h0M718.2 120.2h0M949.4 774h0M772.2 583.9h0M361.3 817.9h0M647.3 660.1h0M746 537h0M377.3 815.6h0M923 709.6h0M568 763.1h0M359.6 767h0M310.4 857.9h0M964.3 687.8h0M357.4 839.8h0M1032.9 767.2h0M752.2 539.5h0M463 571.3h0M940.2 759.2h0M620.1 435.2h0M309.6 789.5h0M369.4 766.7h0M377.1 777h0M1026 717.3h0M180.7 518.2h0M822.1 288.1h0M520 522.2h0M611.7 671.2h0M762.4 200.4h0M977.8 698.6h0M494.2 568.6h0M350.8 780h0M997.2 697.6h0M1036.6 719.1h0M352.7 836.9h0M1066.1 672.5h0M746.7 203.5h0M404.6 399h0M989.4 757.6h0M624 412h0M531.6 451.8h0M213.3 556.7h0M334.6 861.3h0M210.5 569.1h0M848.1 288h0M1052.6 703.1h0M686 709.5h0M328.2 836h0M387.1 852.6h0M506.5 557.8h0M643.3 658.9h0M1026.8 765.8h0M957.4 735.2h0M604.1 451.4h0M177 518.7h0M530.8 237.5h0M565 766h0"/>
<path stroke="#744af5" d="M991.6 765.5h0M836.9 297.4h0M1030.8 719.7h0M1077.4 694h0M565 233.5h0M1025.9 716.2h0M530.4 443.1h0M1033.8 692h0M444.2 448.6h0M796.7 299.2h0M837.5 274.9h0M1037.3 680.4h0M605.9 398.2h0M962.7 747.1h0M186.8 545.1h0M757 532.1h0M700.5 422h0M651.4 667.8h0M846.4 280.6h0M756 161h0M931.9 751.6h0M835.3 291.9h0M720.3 121.8h0M644.6 670.4h0M642.2 665.1h0M630.8 703.7h0M425.7 436.3h0M515.8 396.5h0M489.3 356h0M1066.9 705.8h0M337.8 720.9h0M393.9 417.9h0M658.8 681.6h0M833.3 239.8h0M436.6 573.9h0M163.3 554.4h0M618.2 659.2h0M723.5 461.3h0M759.2 586.2h0M979.5 737.1h0M712.4 169.4h0M813.2 780.7h0M199.2 544.6h0M737 153h0M709.9 453.6h0M733.8 144.4h0"/>
<path stroke="#d3d3d3" d="M759.4 797.7h0M1027.5 673.2h0M614.5 240.7h0"/>
<path stroke="#6038f9" d="M640.5 411.5h0M988.6 741h0M207.2 545.1h0M674.3 151.2h0M618.8 423.9h0M153.3 554.8h0M632.4 873h0M614.3 645.9h0M1013.7 747.9h0M773.1 588.5h0"/>
<path stroke="#c3b3dc" d="M492.9 867h0M313.7 808h0M985.9 779h0M382.6 852.6h0M202.4 564.2h0M464.9 862.4h0"/>
<path stroke="#936bef" d="M533.7 981h0M719 137.4h0M395.6 425.7h0M548.3 434h0M733.2 176.1h0M1052.1 740.3h0M485.3 596.5h0M556.9 778.3h0M682 238h0M815.4 286.6h0M542 445h0M660.5 665.2h0M920.9 711.8h0M643.7 923.6h0M1047.2 707.5h0M484.8 596.9h0M705.6 166h0M645.7 916.9h0M386.5 400.4h0M1042.1 668.8h0M494.5 555.9h0M360.1 848.5h0M979.7 710.8h0M505 583.6h0M472.1 455h0M610.6 230h0M1035.7 694.4h0M686.9 167.2h0M710.2 171.2h0M569.8 221.6h0M719.3 939.3h0M975.1 702.9h0M1029 715.6h0M205.9 539.1h0M1043.6 719.1h0M696.7 129.4h0M180.6 560h0M620.6 849.9h0M563 767h0M1030.6 667.1h0M690 431.5h0M972.7 698.8h0M686.8 462.2h0M794.7 207.3h0M465.2 585.6h0M991.2 691.3h0M524.8 454.1h0M1024.9 637.8h0M630.3 651.9h0M994.9 670.2h0M813.6 304.5h0M670.5 916h0M614.5 649h0M1046.7 730.6h0M373.8 752.9h0M612.8 672.6h0M416.6 808.4h0M167.7 529.6h0M974.2 779.1h0M458.5 859.1h0M1019.8 698.3h0M587 228.1h0M734.3 461h0M494.3 581h0M606.2 406.1h0M228.9 553.1h0M984.1 770.1h0M923.1 736.8h0M623 645.5h0M763.5 217.9h0M991.8 769.6h0M1011.3 743.5h0M614.8 420.7h0M949.8 723.6h0M533 450.9h0M703.4 133.5h0M1062.1 672h0M952 710.5h0M621.9 849.7h0M440.1 575.8h0M994.5 754.4h0M762.3 212.1h0M680.1 432.8h0M921.3 726.6h0M1056.8 637h0M725.8 935.2h0M773.4 220.5h0M448.4 580.3h0M482.9 593h0M567.5 778.1h0M979.7 693.3h0M1009.8 752.2h0M714.8 126.1h0M473 590.2h0M225.2 575.3h0M452.8 842.5h0M521 451.4h0M1006 636.1h0M472.1 564.6h0M678.3 155.9h0M717.1 118.2h0M319.5 842.3h0M982 751.9h0M1020.8 702.3h0M625.4 860h0M758.9 199.8h0M570.4 229.2h0M193.6 564.1h0M950.4 763.4h0M497.9 451.4h0M492.6 879.4h0M805.4 311.5h0M939.4 728.4h0M933.5 744.7h0M689.3 720.9h0M1058.4 716.9h0M185.2 541h0M1019.2 707.1h0M833.7 218.6h0M1004.5 644.4h0"/>
<path stroke="#b69be3" d="M301.5 830h0M311.4 818.5h0M328.9 859h0M537.3 1012.9h0M1024.7 759.8h0M720.4 833.7h0M183.2 567.1h0M210.7 551.1h0M314.7 812.8h0M376.3 757.2h0M678.8 121.5h0M980.8 725.6h0M366.8 856.6h0M297 816.9h0M1076.3 705.8h0M303.9 828.5h0M609.7 684.6h0M368.5 819.4h0M466.3 863.2h0M962.6 730.8h0M463.9 864h0M327.6 861.9h0M462.7 566.5h0M340.9 858h0M961.2 690h0M308.3 803.5h0M335.2 805.5h0M444.5 1044.5h0M346.9 842h0"/>
<path stroke="#c7bbda" d="M385 779.4h0M456.9 448.2h0M615.3 658.4h0M612.4 231.6h0M715.9 835h0M374.4 801.4h0M789.8 216.3h0M708.7 853.2h0M329.4 833.4h0M752 543.4h0"/>
<path stroke="#6b41f7" d="M195.6 508.7h0M724.9 440.6h0M715.2 129.9h0M556 243.2h0M794.4 584.7h0M194 500.7h0M553.2 234.4h0M404.3 430.9h0M770.5 581.9h0M1071.7 690.5h0M698.1 162h0M801.4 208.4h0M687.9 425.6h0M788.7 600.1h0M572.5 500h0M446 587.1h0M749.7 195.4h0M816.3 315.2h0M186.9 505.4h0M187.8 515.9h0M775.7 570.5h0M394.8 415.8h0M631.8 413.4h0M238.4 545.4h0M736.2 182.9h0M689.8 122.8h0M682.7 119.5h0M983.6 729.7h0M797.1 588.8h0M724.1 933.6h0M472.8 580.5h0"/>
<path stroke="#bfabdf" d="M338.3 739.5h0M361.2 802.1h0M476.7 870.5h0M701 454h0M1038.3 752.2h0M1041.9 710.7h0M316.5 799.8h0M731.5 845.2h0M321.4 806.4h0M975.5 753.3h0"/>
<path stroke="#b193e5" d="M343.9 822.8h0M169.7 536.1h0M365.8 748.5h0M947.4 719.2h0M715.8 446.9h0M736.5 191.8h0M952.8 733h0M315.4 858.5h0M623.6 406.3h0M806.8 220.7h0M309.8 834.4h0M358 801h0M324.2 731.2h0M782.7 283.3h0M383.1 852.8h0M729.9 125.2h0M353 783.4h0M316.2 794.9h0M681.5 694h0M745.8 850.1h0M342.3 863.8h0M393.8 764h0M690.5 446.2h0M468.1 865.1h0M319.2 823.8h0M351.9 783.4h0M324.6 729.9h0M1040.9 739.3h0M330.6 849.9h0M1002.9 668.8h0M332.6 823h0M396.8 794.6h0M396.7 809.6h0M692.3 177.9h0M393.9 865.8h0M961.3 780.6h0M712.1 140.8h0M1055 698.1h0M408.9 809.7h0M368.9 828.9h0M345.2 778.7h0M220.2 547.7h0M381 838.7h0M364.6 792.2h0M406.5 422.6h0M975.5 683.8h0M324.7 751.1h0M299.6 817.4h0M694.1 173.6h0"/>
<path stroke="#9a73ed" d="M720.5 837.7h0M977.1 767.4h0M374.4 769.8h0M967.2 746.4h0M538.6 994.3h0M341.7 747.3h0M460.6 847.7h0M339 782.6h0M676.5 464.2h0M984.5 681.8h0M729.2 163.3h0M935.7 738.2h0M1067.2 641h0M699.3 147.6h0M1025.2 628.8h0M743.5 187.7h0M315 797h0M559.2 252.7h0M780.1 599.6h0M981.7 660.9h0M1034.8 681.2h0M1000 772.3h0M826.7 240.7h0M965.9 723h0M1049.3 684.4h0M795.9 302.3h0M1034.1 735.2h0M734.1 595.3h0M751.5 593.9h0M514.3 555.2h0M808.5 302.1h0M344.3 761.8h0M987.3 779.2h0M1038.1 713.7h0M480.9 855.7h0M719.2 433.2h0M721.3 139h0M313.2 817.5h0M375.1 857.4h0M738.5 204.4h0M939 774.9h0M214.8 513.1h0M210.1 556.8h0M593.8 467.2h0M159.5 557.1h0M992.5 712.3h0M637.9 653.4h0M353.8 719.1h0M959.5 716h0M812.4 308.9h0M733.9 943.6h0M185.3 570.8h0M190.2 513.3h0M395.5 810.8h0M966 661.4h0M614 460h0M996.9 716.9h0M707.1 186.8h0M778.4 582.2h0M945 719.3h0M478.7 571.4h0M354.8 860h0M952.5 729.3h0M643.8 664.3h0M236.1 552.4h0M390.1 417.7h0M967 745.3h0M1014.3 737.7h0M370 846.6h0M761.5 213.6h0M297.7 836.3h0M1026.9 709.9h0M508 581.7h0M432 537.4h0M372.8 770.6h0M457 589.2h0M1041.7 636h0M465.2 599.2h0M202.7 536.6h0M947.4 735.5h0M779 252h0M309.7 788.7h0M597.1 414.2h0M1050.8 750h0M247 524h0M504.7 582.1h0M994.9 732.2h0M647.3 910.6h0M180.2 522.7h0M248.7 570.2h0M434.9 828.7h0M743.8 852.9h0M957.9 747.3h0M939.7 762.6h0M1050.8 730.9h0M1034.9 674.7h0M842.6 280.5h0M220 507.5h0M527 449.3h0"/>
<path stroke="#8c63f0" d="M1065.7 730.5h0M649.1 688.9h0M835.7 283.9h0M306 796h0M611.9 412.5h0M731.8 129h0M966.4 726.1h0M532.9 990h0M552 219.4h0M988.8 664h0M1002.6 650.9h0M713.6 125.7h0M1045.7 748.3h0M955.2 719.3h0M828.1 279.2h0M1027.2 754.4h0M683.2 694.6h0M637.7 413.8h0M600.2 417.4h0M485.5 460.7h0M616.6 649.8h0M805.6 302.7h0M594.8 426.4h0M1000.7 731h0M570.3 214.5h0M483.3 560.5h0M377.4 785.1h0M995.8 726.6h0M993.2 661h0M996.1 747.5h0M209 505.5h0M193.6 561.4h0M616.5 405.6h0M723.1 857.3h0M737.3 447.8h0M620.1 686h0M965.5 694.5h0M154.2 550.2h0M962.7 684.6h0M466.2 582.7h0M686.6 167.1h0M973.5 719.1h0M485.7 592.3h0M625.1 239.7h0M686.2 448.5h0M1025.5 763.3h0M613 464.2h0M602 399.3h0M602.5 406.2h0M503.9 374.2h0M227.5 521.1h0M973.6 675.5h0M727.1 148.6h0M599.6 454.7h0M726.2 163.9h0M399.1 850.1h0M224.8 530.4h0M571.7 235h0M487.3 1029.5h0M528.7 453.1h0M722.4 131.4h0M615.6 406.6h0M577.5 490.8h0M206.6 535.5h0M445.9 575.1h0M700.5 150.8h0M679.4 168.1h0M674.3 444.3h0M203.7 525.9h0M455.8 447h0M981.1 702h0M415.5 435.9h0M220.2 522.5h0M1075.5 692.3h0M656.3 678.6h0M734.4 151h0M721.9 184.6h0M400.7 382.6h0M1030.4 640.5h0M1032.8 709.6h0M551.8 232.1h0M964.3 778.9h0M579.2 480.8h0M209.1 551.9h0M683.8 177.4h0M173.3 537h0M994.7 721.4h0M725.5 131.8h0M229.6 554.2h0M507.4 551.7h0M448.2 592.3h0M614.9 671.5h0M853 284.8h0M409.8 435.9h0M977.3 733.4h0M202.5 547.1h0"/>
<path stroke="#ab8be7" d="M371.3 783.1h0M722.5 861.1h0M351.6 780.1h0M1041.5 711.7h0M661.6 697.5h0M731 442.9h0M575 217.8h0M397.4 797.9h0M958.5 752.8h0M726.8 848.8h0M317.2 795.4h0M1068.7 721.7h0M559.2 248.8h0M200.9 514.6h0M385 852.5h0M1041.1 667.4h0M190.7 519.8h0M302.1 853.9h0M705.8 139.9h0M390.7 845.8h0M651.4 671.5h0M227.8 508.3h0M464.4 592.6h0M496.5 868.2h0M376.3 847.2h0M729.2 157.5h0M301.7 805.7h0M999.8 732.4h0M325.6 829.9h0M359.2 846.5h0M409.1 391.8h0M339.8 724.8h0M208.9 536.6h0M743.5 157.7h0M715.2 139.9h0M473.4 587.4h0M455.7 856.8h0M661.2 671.6h0M1045.4 661.6h0M729.9 945.7h0M399.4 797.4h0M355.8 731.3h0M785.1 596.8h0M330.6 739.9h0M330.8 782.9h0M410 438.2h0M357.6 808h0M304 848.8h0M310.3 787.6h0M349.1 821.2h0M491.7 872.4h0M620.8 648.6h0M369.2 790.7h0M361.1 732.8h0M383.4 839h0M389.4 810.7h0M737.4 848.6h0M374 855.8h0M992.1 755.1h0M671.5 693.1h0M648.8 430.9h0M330.1 746h0M724.5 454.3h0M770.6 220.3h0M940.3 765.5h0M746.6 151.9h0M463.6 585.8h0M752.3 535h0M954.5 757.2h0M334.5 853.5h0M344 733.5h0"/>
<path stroke="#855bf2" d="M973.8 721.4h0M1064.3 734.6h0M478 573.5h0M201.9 511.6h0M514.7 563.7h0M741.1 597.9h0M674.8 439.8h0M1029.1 767.3h0M1016.7 695.9h0M154.5 554.3h0M770 231h0M1043.2 720.4h0M986.5 722.1h0M719.5 168.9h0M683.3 227.5h0M726.9 942.5h0M518.7 541.6h0M809 219h0M504.5 374.2h0M920.5 725.6h0M1054.9 680.1h0M1039.7 692.8h0M525.8 453.7h0M693.3 445.1h0M829 236h0M732.8 152.9h0M820.9 272.9h0M182.7 515.5h0M601.4 678.4h0M227.4 511.4h0M639.6 434.9h0M818.8 306.9h0M590.1 771.2h0M800 568h0M707.4 118.3h0M612 402.9h0M721.6 190.2h0M923.4 724.7h0M980.8 756.2h0M1036.8 744.6h0M609.7 393.3h0M393 839.2h0M188.7 559.1h0M814.8 305.4h0M457.1 565h0M513.4 548.6h0M692.7 423.8h0M725.7 586.4h0M670.4 693.2h0M635 661.5h0M642.5 673h0M1009.4 716.7h0M964.7 687.4h0M1017.8 721.3h0M611.1 467.6h0M1073.7 675.2h0M678.8 153.4h0M497.1 569.3h0M623 460.8h0M240.5 537.8h0M982.9 777h0M610 429.2h0M732.9 142.7h0M666.7 248.3h0M154.9 553.6h0M545.5 438.5h0M733.6 120.5h0M951.9 707.7h0M970.6 761.4h0M505.2 554.9h0M608.4 690.1h0M733.6 143.4h0M1030 737.5h0M942.6 723.8h0M1003.8 677.8h0M345.9 811.7h0M756.4 538.6h0M738.6 196h0M1008 724.3h0M472 586.8h0M832 236.7h0M1072 672.1h0M172 516.5h0M512.2 554.6h0M834.5 216.8h0M720.3 935.5h0M1045.4 636.8h0M694.3 443.9h0M587.8 771.3h0M183.8 526.9h0M912.7 710.6h0M948 710.1h0M684.3 698.9h0M724.8 141.7h0M544.4 998.5h0M688.6 147.8h0M754.9 601h0"/>
<path stroke="#baa3e1" d="M351.3 838.9h0M416.4 831.1h0M438 397h0M742.4 206h0M380.8 839.5h0M391.4 847h0M365.7 777h0M381.2 796.2h0M1010.9 708.8h0M378.7 841.4h0M337.7 844.9h0M450 395h0M324.8 799.9h0M357.8 788.6h0M348.9 860.8h0M346.7 800.7h0M375.4 758.2h0M757.2 196.8h0M368.2 780.4h0"/>
<path stroke="#cfcbd5" d="M632.9 461.7h0M697.5 189.4h0M484.1 568.1h0M333.3 851.8h0M795.3 262.7h0M654.9 661.7h0M631 437.7h0M466.2 850h0M537.3 996.7h0"/>
<path stroke="#855bf2" d="M638.7 680h0M960.2 743.8h0M827.4 223.7h0M958.4 784.9h0M636.1 462.8h0M189.5 512.8h0M558.2 767.3h0M974.5 702.7h0M998.1 739.1h0M782.1 588.2h0M680 243.3h0M771.8 586.1h0M456.1 582h0M559.7 234.2h0M775 588.6h0M214.4 518.1h0M221.4 572.4h0M668.7 244.5h0M717.5 860.5h0M712.4 130.6h0M756.9 210.2h0M763.8 222.8h0M995.9 657.7h0M600.8 410.9h0M684.8 250.1h0M699.5 426.7h0M648.3 917.8h0M688 145.7h0M512.3 573.5h0M699.7 422.1h0M821 272.3h0M185.3 530.1h0M614.2 409.7h0M1051.6 748.3h0M806.5 315.6h0M1042.1 654.2h0M1037.7 637.5h0M183.6 554.1h0M833.4 295.4h0M178 561.5h0M967.8 720h0M492.4 451.8h0M1072.5 655.7h0M626.3 400.1h0M219.3 532.4h0M1017.5 632.9h0M564.9 212.1h0M172.4 555.6h0M637.5 926.5h0M996.7 688.8h0M1033.5 668.8h0M732 154.6h0M438.6 563.8h0M214.3 538.5h0M214.5 541.1h0M597.5 415.2h0M616.2 452.6h0M911.3 713.2h0M587.6 769.6h0M712.8 187.4h0M719.7 463.3h0M973.5 778.2h0M567.3 781.9h0M841.1 297.4h0M396.6 385.8h0M659.5 659.7h0M1021.9 743.1h0M616 695.1h0M623.9 397.2h0M479.2 589.5h0M353 826.4h0M240.3 574.9h0M240.9 551.8h0M737.1 943.5h0M597.6 412.3h0M767.6 549.5h0M687.8 461.5h0M607.5 416.7h0M472.5 546h0M724.4 459.9h0M212.9 541.6h0M612.6 422.3h0M176.1 555.4h0M1001.5 733.7h0M823.1 785h0M1005.7 673.1h0M237.5 569.2h0M961.3 699.6h0M761.8 589.3h0M1014 664.6h0M772.4 217.7h0M1037.9 700.9h0M762.3 588.3h0"/>
<path stroke="#6b41f7" d="M591.7 772.5h0M698.5 459.6h0M749.5 718.4h0M787.1 209.8h0M747.5 562.5h0M1025.4 737.2h0M716.3 188.9h0M698.8 117.9h0M1047.2 737h0M673.6 437.6h0M500.4 573.6h0M822.1 283.5h0M720.2 460.3h0M705.4 166.2h0M523.9 546h0M980.9 641.5h0M697.2 125.8h0M847.9 277.9h0M754.6 601.2h0M726.4 163h0M559.3 251.9h0M388.9 417.4h0M453.3 579.9h0M1037.6 756.8h0M1056.8 725.9h0M1020.3 703.1h0M708.6 445.5h0M506.7 577.5h0M162.9 563h0M762.5 605.1h0M568.6 229.7h0M754.7 602.7h0M733.9 150.2h0M787.1 304.8h0M555.1 237.5h0M206 514.6h0M985.9 719.6h0M1031.8 724h0M1025.6 631.9h0"/>
<path stroke="#b193e5" d="M481.4 867.5h0M763.1 208.7h0M373.7 817.6h0M396.4 820.8h0M389 741.7h0M1002.8 710.5h0M324.2 838.8h0M509.7 873.6h0M353 738.7h0M345.2 859.5h0M364.7 846.1h0M484.2 864.2h0M309 837h0M1036.1 747.7h0M373.1 852.5h0M345.9 826h0M351.7 781.4h0M1002.7 646.8h0M999.3 770.4h0M1079.5 678.2h0M724.1 137.1h0M389.1 791.3h0M327.1 839.1h0M659.8 675.2h0M471.2 580.7h0M551.4 769.8h0M339.7 801.2h0M313.6 790.5h0M355.8 778.3h0M306.7 844.2h0M358.7 730.3h0M556.9 243.8h0M312 850.3h0M536 430h0M323.8 805.2h0M1034.6 672.4h0M328.6 781.1h0M576 226.7h0M370 788h0M401.1 826.4h0M706.6 119.5h0M210.8 536.4h0"/>
<path stroke="#b69be3" d="M717.6 837.4h0M344.1 779.2h0M320.9 828.2h0M1051.9 718.4h0M713.1 159.1h0M494.9 864.6h0M430.3 398.5h0M394.7 783h0M993.4 634.1h0M366.2 854.5h0M634.4 680.9h0M745.1 156h0M338.9 846.7h0M331.2 724.5h0M617.9 686.6h0M366 771.1h0M341.7 855.4h0M524.6 1020.1h0M447.6 848h0M326.1 810.5h0M507.1 877h0M694.8 153.8h0M748.7 858.1h0"/>
<path stroke="#baa3e1" d="M373.9 777.8h0M341.2 863.4h0M342 780.5h0M326.5 801.9h0M739.6 173.4h0M686.7 160.1h0M487.8 468.8h0M1015.5 716.9h0M309.4 793.9h0M738.8 843.7h0M455.1 839.9h0M320.8 784.5h0M975.5 676.3h0M986 643.5h0M316.4 832.3h0M364.9 735.6h0M726.7 845.4h0"/>
<path stroke="#cbc3d8" d="M625.9 686.9h0M815.3 269.3h0M299.7 819.4h0M765.1 219h0M632.8 674.4h0M788 206h0M616.7 428h0M497.8 586.5h0M349.8 831.1h0M726.6 448.3h0"/>
<path stroke="#c3b3dc" d="M334.9 803.2h0M378.7 765.6h0M1016.8 673.2h0M735.4 153h0M596 463.3h0"/>
<path stroke="#744af5" d="M1034.9 641h0M232.3 577h0M598.2 385.1h0M1065.3 647.5h0M797 205.2h0M1060.4 725h0M569.4 222.4h0M695.3 246.5h0M969.3 755.6h0M940 785.8h0M725.6 946.1h0M951.2 739.6h0M639.2 464.6h0M157.5 554.5h0M985.2 643.2h0M770.2 227.4h0M1023.1 704.3h0M190.8 524.2h0M1075 675.5h0M913.2 712.5h0M692 168.8h0M366.9 772.7h0M839.4 285.1h0M936.2 714.1h0M788.3 296h0M611.9 420.2h0M704.9 185.6h0M612.9 424.4h0M733.8 197.3h0M1004.4 718h0M753.8 241.2h0M455.1 582h0M533.8 988.5h0M613.7 380.6h0M688 246h0M600.7 425.2h0M563 230.1h0M501.9 568.3h0M624.2 402.3h0M418 432.7h0M614.6 392.2h0M988 768.7h0M765.2 567.1h0M758.1 601.7h0M712.2 188.2h0M566.6 237.8h0M191.6 560h0"/>
<path stroke="#936bef" d="M726 131h0M1014.1 677.3h0M615.1 421.7h0M949.4 736.5h0M710.9 121h0M506.5 377.8h0M196.7 502h0M823.3 227.2h0M216.8 568.4h0M738.3 597h0M289.4 390.8h0M493.3 360.4h0M332.7 797.4h0M799.7 234h0M989.9 737.6h0M641 414.9h0M215.4 539.3h0M243.5 550.9h0M574.9 764.8h0M841.1 230.7h0M181.7 569.1h0M157.6 557.8h0M378.7 834.9h0M729.3 144.6h0M751.2 221.9h0M949.2 758h0M418 443.4h0M1014.4 673.6h0M745.2 722.7h0M334.8 798.4h0M1027.6 682.6h0M764.6 219.3h0M189.1 528.8h0M683.8 174.7h0M413.3 442.1h0M1041.2 765.2h0M777.2 576.4h0M983.4 716.2h0M348.9 734.6h0M725.9 165.1h0M990.7 634.1h0M1000.7 700.8h0M705.6 470.1h0M534.3 450.7h0M174.5 520.6h0M469.3 453.9h0M954.9 775.7h0M701.8 469.2h0M665.1 694.7h0M1000.9 737.3h0M1042.3 639.4h0M647 666.1h0M689 443.1h0M445.7 582.2h0M767.2 216.4h0M324.1 805.3h0M562.4 762.6h0M588.9 773.8h0M1028 724.1h0M754.6 212.7h0M763.5 211.7h0M1001 688.5h0M335.9 813.9h0M1035.2 759h0M398.4 429.7h0M1071.1 703h0M636.8 453.8h0M729.1 467.4h0M688.7 441.2h0M1015.4 759.4h0M345.9 748.3h0M986.9 699.4h0M720.7 125.3h0M1029.1 656.7h0M190.2 563.2h0M176.4 538.6h0M490.3 456.5h0M736.9 187h0M336 799h0M576.3 242.3h0M1009.9 632.5h0M155.4 532.2h0M469.1 596.7h0M1081.9 669.4h0M731.2 181.9h0M236.1 527.2h0M178 544.5h0M544.6 507.5h0M495 506h0M150.2 538.7h0M399.3 825.8h0M597.3 387.8h0M1009.3 746.8h0M385.4 850.4h0M489.6 456.9h0M1048.2 696.2h0M420.3 393.2h0"/>
<path stroke="#cfcbd5" d="M701.6 143.9h0M846 288.7h0M220.4 548.1h0M746.5 844.1h0M1042.3 712.4h0M767.8 593.7h0M667.3 430.9h0M954.7 737.8h0"/>
<path stroke="#ab8be7" d="M387.2 821.2h0M678.3 156.3h0M414.6 840.8h0M923.2 738.1h0M347.2 849.2h0M682.4 177.9h0M394.7 813.8h0M342 764.4h0M383.2 811.2h0M396.3 836.5h0M673.5 126.6h0M257 494.3h0M356.4 745.1h0M318.6 858h0M1046.2 652.8h0M310.7 811h0M352.9 731.3h0M397 382.7h0M312.3 804.5h0M369.8 812.3h0M293.8 824.9h0M1008.6 698.8h0M1022.1 700.9h0M307.9 827.6h0M331.8 849.7h0M344.8 755.6h0M310.5 859.2h0M356.3 822.4h0M481.9 861.3h0M684.9 450.3h0M378.9 798.7h0M375.7 787.6h0M728.2 852.8h0M374.7 807.4h0M483.8 563.5h0M706.4 185.4h0M732 223.3h0M338.7 741.5h0M472.2 844.9h0M380.8 726.2h0M622.3 452.1h0M606.7 551.7h0M729.6 149.8h0M303.2 829.1h0M390.4 845.3h0M700.9 173h0M950.4 718.4h0M360.1 855.2h0M736.5 535.5h0M724.9 860h0M338.2 851.2h0M345.1 726.3h0M343.4 802.4h0M713.1 142.6h0M553.3 228.4h0M1036.9 764.5h0M353.5 811h0M193.2 561.4h0M998.6 758h0M346.5 779.9h0M153.1 536.4h0M449.7 835.8h0M380 803.8h0M815 788h0M662.3 701.3h0M972.3 740h0M197.8 506.7h0M725.4 152.3h0M350.6 814.5h0M540 1012h0M994 706h0M208.1 567.8h0M525.3 564.5h0M297.8 839.2h0M472 866.4h0M672 250h0M996.7 692.6h0M714.9 838.1h0M324.1 824h0M394.8 745h0"/>
<path stroke="#bfabdf" d="M365.8 840.5h0M1033.1 768.8h0M323.8 826.9h0M352 868h0M719.2 850.6h0M314.9 796.9h0M538 1009h0M471.4 843.6h0M392.4 841.8h0M411 392.1h0M695.5 178.5h0"/>
<path stroke="#c7bbda" d="M197.2 498.9h0M370.9 717.7h0M388.3 788.4h0M726.8 148.4h0M713.5 172.1h0M1032.9 716.8h0M994.1 737.4h0M391.8 755.4h0M651.7 670.4h0M447 397h0M718.2 137.6h0M321.8 847.3h0M342.8 860.1h0"/>
<path stroke="#9a73ed" d="M399.6 386.3h0M207.4 562h0M625.4 410.8h0M1003.9 675.4h0M350.8 825.4h0M738.8 840.4h0M648 704.7h0M351.5 719.1h0M514.5 874.3h0M685.6 160.3h0M677.8 431.3h0M990.3 720.4h0M530.3 1008.6h0M177.3 559.4h0M354.6 737.8h0M481.5 557.5h0M337.3 782h0M1010.3 729h0M690 434.3h0M711.4 168.3h0M956.2 678.4h0M713.1 143.5h0M333.1 823.7h0M734.8 166.8h0M647.5 912.8h0M448.2 569.6h0M636.1 700.8h0M955.8 727.6h0M705.9 177.3h0M680.9 461.5h0M600 427.1h0M678.5 463.2h0M732.2 467.6h0M576.7 502.5h0M470.6 454.5h0M354.9 829.3h0M475.5 572.9h0M573.1 225.9h0M617.9 847h0M734.8 125.9h0M1023.8 698.6h0M581.6 221.2h0M693.9 247.1h0M714 446.2h0M480.9 455h0M654.9 424.8h0M838.7 287.3h0M722.8 933.3h0M221.1 526.2h0M1000 695.9h0M1001.6 767.3h0M639 905.5h0M1031.8 626.9h0M1042.7 744.7h0M644.6 700.2h0M653.1 693.9h0M394.5 398.5h0M671.4 689.3h0M627 461.3h0M768.1 557.7h0M386.9 814.9h0M726.3 949.3h0M711.6 179.3h0M981.2 647h0M475.1 571.7h0M927.2 731.7h0M338.3 833.3h0M357.5 836.3h0M657.6 707.9h0M466.8 589h0M324.7 820.5h0M722.8 843.1h0M975.4 751.7h0M614.9 403.7h0M722.5 128.6h0M1074.8 724.9h0M463.7 585.4h0M1025.9 766.4h0M630.8 411.1h0M441.4 564.2h0M309.4 839.2h0M587.9 761.8h0M1002.1 766.9h0M565.4 225.3h0M515.4 553.3h0M1024.2 717.1h0M735.8 135.3h0M232 545.8h0M339.8 799h0M216.5 512.6h0M1047.3 681.9h0M178.3 549.3h0M674.4 122h0M607.3 401.4h0M719.6 169.9h0M482.3 860.2h0M954.4 784.3h0M726.7 588.4h0M436.2 561.3h0M508.6 871.6h0M526.6 456.8h0M800 264.7h0M614.6 440.4h0M356.9 771.9h0M619.7 412.4h0M599.9 414.4h0M713.7 470.9h0M949.9 779.6h0M694.5 925.8h0M363.2 859.4h0M723.1 844.8h0M499.6 585.6h0M715.8 152h0M736.1 146.9h0M1062.5 678.3h0M694.5 422.7h0"/>
<path stroke="#a683e9" d="M461.9 855.9h0M366.3 776.3h0M362.2 800.4h0M760 216.7h0M223.9 517.5h0M655.4 672.5h0M235.1 534.5h0M994.4 709.2h0M781.3 220.7h0M400.2 802.8h0M325.8 731.2h0M719.3 467.8h0M718.5 473.4h0M402.2 400.1h0M732.4 457.2h0M325.4 842.3h0M337.1 798.4h0M777.5 573.9h0M1024.1 647.6h0M969.9 728.1h0M400.9 802h0M952.3 744.2h0M749.4 193h0M437.2 586.9h0M562.6 781h0M350.2 849.4h0M692.4 139.9h0M350.3 758.7h0M460.4 583.4h0M733.7 445.3h0M993.1 701.8h0M573 772.9h0M446.9 444.1h0M357.8 778h0M690 136.2h0M309 791h0M375.6 847.7h0M1071.9 729.8h0M997.6 771.9h0M707.9 135.1h0M466.1 857.8h0M447 570.4h0M699.8 184.3h0M433.9 396.4h0M442.4 847.6h0M442.7 568.8h0M611.4 418.6h0M932.3 760.1h0M369.6 815.2h0M386 798.4h0M480.6 543h0M376 852.2h0M345.2 770.6h0M665.2 430.1h0M737.6 186.5h0M314.1 846.3h0M715.8 143.6h0M957.6 778h0M389.6 844.1h0M539.8 1006.7h0M414.6 817.5h0M214 573.6h0M511.2 565.3h0M471.8 851.5h0M304.5 802.9h0M629.1 645.3h0M665.4 445.2h0M397.8 754.5h0M514.2 882.5h0M1016.2 749.1h0M724.1 188.4h0M324.7 763.1h0M649.5 686.2h0M344.5 835.2h0M352.8 819.7h0M664.9 428.3h0M321.1 761.4h0M506.9 873.1h0M301 840.5h0M702.4 439.9h0M317.6 822.8h0M1027.4 674.8h0"/>
<path stroke="#532efa" d="M958.7 757.5h0M251 577.9h0M985.5 717h0M660.6 672.6h0M680.7 248.4h0M745.5 555.5h0M755.1 592.1h0M622.3 652.9h0M1011.7 705.8h0M938.2 719.4h0M1007.1 728.9h0M945.7 764.4h0M620.8 667.3h0M224.9 554.1h0M678.1 137.4h0"/>
<path stroke="#8c63f0" d="M962.4 763.4h0M791.1 302.6h0M766.3 220.5h0M662.2 913.8h0M577.2 775.2h0M173.5 532.2h0M442.3 566h0M369.2 771.1h0M636.7 468.6h0M362.1 833.1h0M749.9 206.7h0M735.1 132.6h0M463.4 561.8h0M709.2 149.9h0M699 184.7h0M972.5 710.5h0M964.2 773.8h0M473.4 462.4h0M1014.3 752.1h0M638.9 925.8h0M646.9 654.2h0M294.1 816.3h0M490.7 562.5h0M600 546.7h0M568.6 242.7h0M703.8 167.5h0M1029.3 757.2h0M427.7 559.3h0M565 231.5h0M481.7 582.5h0M676.8 118.1h0M403.1 393.5h0M400.5 409.3h0M190.8 545.3h0M1073.1 708.6h0M483.8 531h0M1063.1 701.2h0M460.3 585h0M399.1 415h0M206.4 529.3h0M454.2 593.1h0M403.7 427.2h0M818 784h0M726 127h0M575.7 227.8h0M691.7 250h0M184.4 545.1h0M831.6 280.6h0M388.5 409.2h0M449.6 581.6h0M228.6 548.1h0M724.9 155.4h0M647.6 468h0M736 942.5h0M1037.4 752.7h0M468.5 591.8h0M1039.1 761.5h0M510 456h0M1031.7 693h0M604.3 443.6h0M639.8 903h0M576.6 241.4h0M631.3 402.9h0M190 519.5h0M372.9 747.5h0M560.2 778.5h0M666.4 687.5h0M587.1 753.2h0M256 491.9h0M741.7 589.4h0M793 301.4h0M715.2 935.9h0M1013.5 721.1h0M713.9 186h0M726.4 181.4h0M995.9 742h0M1069.3 712.1h0M559.3 231.3h0M569.2 497.5h0M719.3 181.5h0M651.6 425.4h0M547.7 230h0M573.2 219.4h0M314 780h0M519.9 523.6h0M1060.6 642.2h0M1020.7 730.6h0M487.5 538h0M150.6 541.6h0M947.3 770.7h0M499.2 586.8h0"/>
<path stroke="#7d52f4" d="M723.5 123.3h0M760.6 550.5h0M396.2 407.2h0M514.8 532h0M712.3 139.2h0M441.5 559.8h0M805.2 303h0M530.2 450.8h0M606 422.2h0M961 727.2h0M742.5 163.6h0M733.7 190.2h0M987.1 755.3h0M1001 731.7h0M152.6 541.8h0M472.3 562.8h0M957.9 723.5h0M1058.1 722.6h0M673.2 245.8h0M660.9 430.7h0M450.3 574.7h0M720.7 169.5h0M723.1 184.1h0M998.3 677h0M250.2 497.8h0M1049.7 735.2h0M586.1 238.8h0M772 586.7h0M676.1 156.1h0M961 764.2h0M555.1 764.8h0M987 764.2h0M399.5 394.5h0M759.9 216.7h0M1084.5 666.5h0M629 415.8h0M207.1 524.5h0M1000.2 776.9h0M955.6 738.3h0M577.4 774.3h0M646.3 904h0M1075.6 707.2h0M957 742h0M490.2 459h0M755 275h0M746.1 589.3h0M979.7 726.7h0M513.4 389.1h0M237.1 574.3h0M446.7 585.4h0M634.7 886.5h0M794.7 254h0M484.2 458.8h0M193.5 538.5h0M721.6 154h0M941.2 718.9h0M927.2 778.5h0M491.9 586.9h0M771 587.5h0M939.8 749.6h0M519.5 539.9h0M368.9 761.9h0"/>
<path stroke="#d3d3d3" d="M721.7 181.1h0M330.5 835.5h0"/>
<path stroke="#6038f9" d="M184.8 535.3h0M1031.1 698.2h0M435.9 568.5h0M172.4 530.4h0M486.3 583.7h0M1016.8 747.4h0M673.3 245h0M567.4 229.7h0M748.3 594.8h0M642.7 892.5h0M1008.7 712.2h0M1031.3 755.2h0M1007.1 660.9h0M629.6 399h0M634.9 652.5h0"/>
<path stroke="#a07beb" d="M299.4 846.8h0M1005.7 754.3h0M318.7 833.9h0M318.5 810.5h0M934.4 719.8h0M730.4 169.2h0M179.6 567h0M354.7 808h0M597.5 236.3h0M608 417.5h0M371.3 824.7h0M1026.9 708.5h0M693 156h0M324.8 772.5h0M765.7 214.2h0M633.8 881.5h0M984.1 722.5h0M587.7 772.3h0M747.8 851.6h0M329.8 752.7h0M733.1 859h0M967.2 710.9h0M728.6 948.3h0M1055.1 748.5h0M167.9 517.9h0M1013.8 761.7h0M381.8 843h0M727.6 936.9h0M368.2 835h0M412.6 441.4h0M527.3 1019h0M250.5 508.1h0M1054.4 646.8h0M994.4 736h0M589.4 225h0M621.3 467.9h0M956.7 743.6h0M822 236h0M982.4 713.2h0M391.1 779.9h0M998.4 691.3h0M426.8 551.7h0M182.8 542.2h0M979.8 707.6h0M721.7 443.4h0M222 525.8h0M975.4 753.3h0M684.7 242.2h0M337.8 719.1h0M396.6 859.6h0M1074.5 708.8h0M828.3 218.7h0M684.6 455.1h0M995.8 633h0M385.8 416.5h0M940.2 753.6h0M712.6 136.5h0M926 742.3h0M720.3 844.2h0M608.4 429.8h0M413.7 438.3h0M521 536.9h0M413.1 436.5h0M746.4 164.2h0M983.5 716.5h0M560.8 215.9h0M576.1 217.4h0M453.9 563h0M717.2 161.8h0M432.4 541.7h0M634 684.5h0M309.9 812.1h0M720.4 935.6h0M525.9 449.8h0M761.1 217.4h0M592.7 223.8h0M740.1 450.9h0M1025.4 680.6h0M218.6 521h0M1065.7 656.6h0M1022.4 636.2h0M351 721h0M375.5 818.5h0M1022.5 735.8h0M985.6 700.7h0M730.3 852.5h0M295.6 824.8h0M949.9 741.1h0M333.1 833.3h0M402.6 805.3h0M622.8 409.1h0M721.9 856h0M561 767.8h0M1049.8 645.8h0M192.4 547.9h0M360.7 748.5h0M699.1 150.8h0M690.7 120.9h0M828.7 228.7h0"/>
</g>
<g stroke="#000" stroke-width="2.9" fill="none">
<path d="M95.4 51V1119.5H1138.5" stroke-linecap="butt" stroke-linejoin="miter"/>
<path d="M143.0 1119.5v5.4"/>
<path d="M312.0 1119.5v5.4"/>
<path d="M481.2 1119.5v5.4"/>
<path d="M650.4 1119.5v5.4"/>
<path d="M819.6 1119.5v5.4"/>
<path d="M988.7 1119.5v5.4"/>
<path d="M95.4 277.3h-5.4"/>
<path d="M95.4 571.2h-5.4"/>
<path d="M95.4 865.5h-5.4"/>
</g>
<g font-family="Liberation Sans, sans-serif" font-size="29.2" fill="#000">
<text transform="translate(143.0,1147.6) scale(1,1.08)" text-anchor="middle">-15</text>
<text transform="translate(312.0,1147.6) scale(1,1.08)" text-anchor="middle">-10</text>
<text transform="translate(481.2,1147.6) scale(1,1.08)" text-anchor="middle">-5</text>
<text transform="translate(650.4,1147.6) scale(1,1.08)" text-anchor="middle">0</text>
<text transform="translate(819.6,1147.6) scale(1,1.08)" text-anchor="middle">5</text>
<text transform="translate(988.7,1147.6) scale(1,1.08)" text-anchor="middle">10</text>
<text transform="translate(87.6,288.2) scale(1,1.08)" text-anchor="end">10</text>
<text transform="translate(87.6,582.1) scale(1,1.08)" text-anchor="end">0</text>
<text transform="translate(87.6,876.4) scale(1,1.08)" text-anchor="end">-10</text>
<text transform="translate(614,1180.8) scale(1,1.08)" text-anchor="middle">umapNC_1</text>
<text transform="translate(34.2,585.6) rotate(-90) scale(1,1.08)" text-anchor="middle">umapNC_2</text>
</g>
<text transform="translate(614.5,37) scale(1,1.03)" text-anchor="middle" font-family="Liberation Sans, sans-serif" font-size="34" font-weight="bold">Cfl1</text>
<defs><linearGradient id="lg" x1="0" y1="0" x2="0" y2="1"><stop offset="0.00" stop-color="#0000ff"/><stop offset="0.10" stop-color="#4926fb"/><stop offset="0.20" stop-color="#673df8"/><stop offset="0.30" stop-color="#7c51f4"/><stop offset="0.40" stop-color="#8e65f0"/><stop offset="0.50" stop-color="#9d77ec"/><stop offset="0.60" stop-color="#aa89e7"/><stop offset="0.70" stop-color="#b69ce3"/><stop offset="0.80" stop-color="#c1aede"/><stop offset="0.90" stop-color="#cac0d9"/><stop offset="1.00" stop-color="#d3d3d3"/></linearGradient></defs>
<rect x="1151.1" y="547.4" width="15.5" height="76.5" fill="url(#lg)"/>
<g stroke="#fff" stroke-width="1" opacity="0.8">
<path d="M1151.1 554.3h3.1M1163.5 554.3h3.1"/>
<path d="M1151.1 577.4h3.1M1163.5 577.4h3.1"/>
<path d="M1151.1 601.0h3.1M1163.5 601.0h3.1"/>
<path d="M1151.1 624.4h3.1M1163.5 624.4h3.1"/>
</g>
<g font-family="Liberation Sans, sans-serif" font-size="24.3" fill="#000">
<text x="1174.3" y="563.0">3</text>
<text x="1174.3" y="586.1">2</text>
<text x="1174.3" y="609.7">1</text>
<text x="1174.3" y="633.1">0</text>
</g>
</svg></body></html>
